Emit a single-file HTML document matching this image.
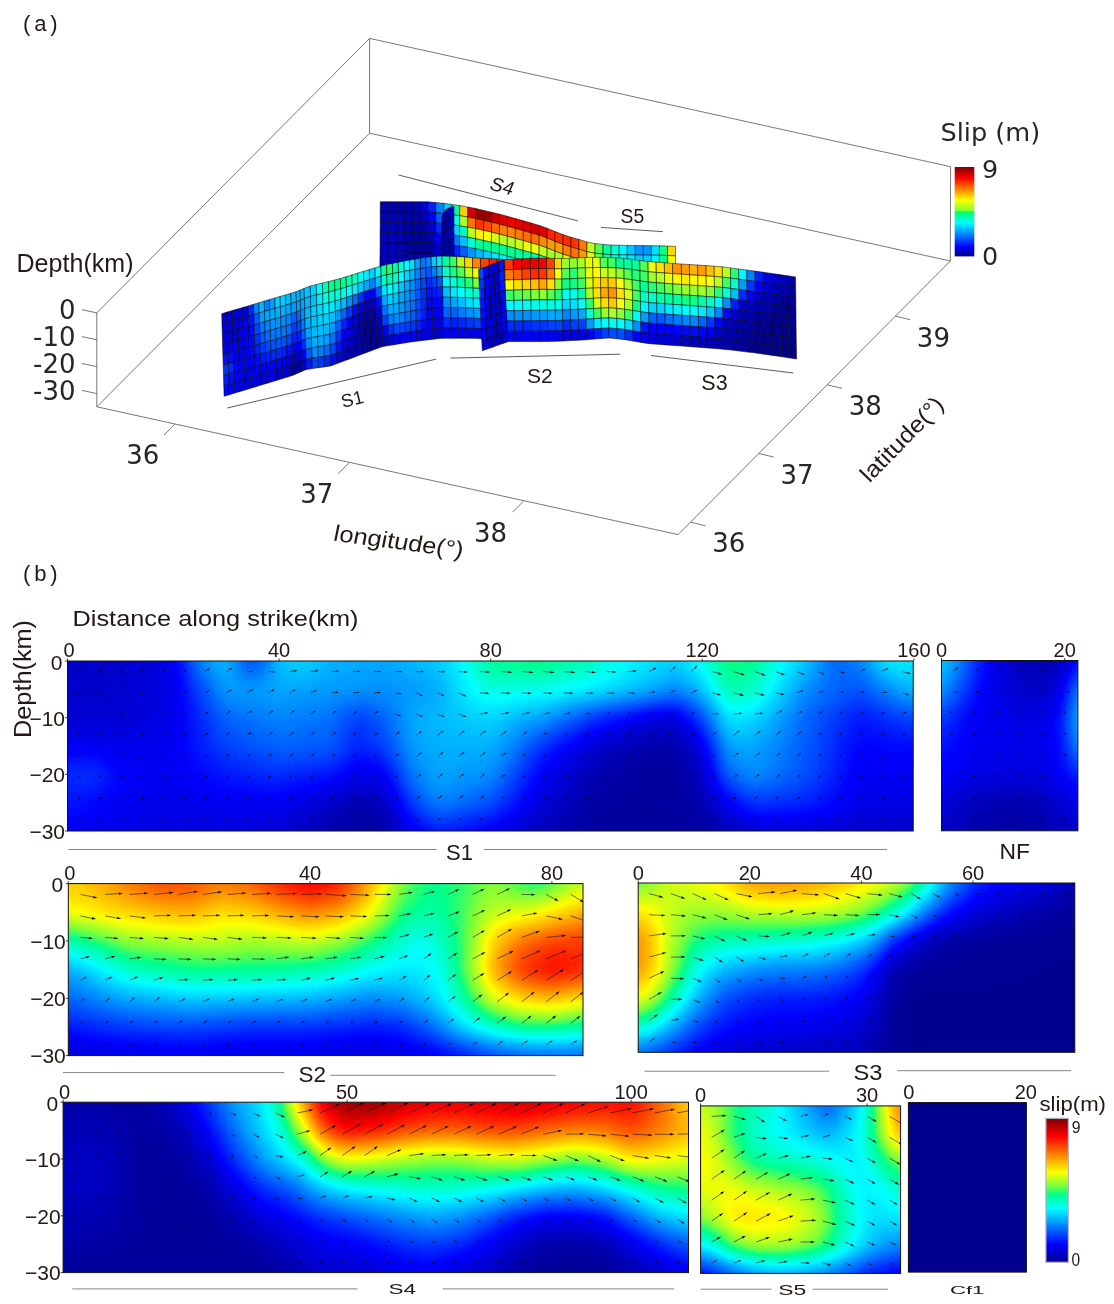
<!DOCTYPE html><html><head><meta charset="utf-8"><title>Slip distribution</title><style>html,body{margin:0;padding:0;background:#fff}svg{display:block}</style></head><body><svg width="1114" height="1304" viewBox="0 0 1114 1304"><defs><filter id="jet" x="0" y="0" width="100%" height="100%" color-interpolation-filters="sRGB"><feGaussianBlur stdDeviation="3.6"/><feComponentTransfer><feFuncR type="table" tableValues="0 0 0 0 0 0 0 0 0 0 0 0 0 0 0 0 0 0 0 0 0 0 0 0 0 0 0 0 0 0 0 0 0 0 0 0 0 0 0 0 0 0 0 0 0 0 0 0 0 0 0 0 0 0 0 0 0 0 0 0 0 0 0 0 0 0 0 0 0 0 0 0 0 0 0 0 0 0 0 0 0 0 0 0 0 0 0 0 0 0 0 0 0 0 0 0 0 0 0 0 0 0 0 0 0 0 0 0 0 0 0 0 0 0 0 0 0 0 0 0 0.004 0.035 0.067 0.098 0.129 0.157 0.188 0.22 0.251 0.282 0.314 0.341 0.373 0.404 0.435 0.467 0.49 0.51 0.533 0.553 0.576 0.6 0.62 0.643 0.663 0.686 0.706 0.729 0.753 0.773 0.796 0.816 0.839 0.859 0.882 0.906 0.925 0.949 0.969 0.992 1 1 1 1 1 1 1 1 1 1 1 1 1 1 1 1 1 1 1 1 1 1 1 1 1 1 1 1 1 1 1 1 1 1 1 1 1 1 1 1 1 1 1 1 1 1 1 1 1 1 1 1 1 1 1 1 1 1 1 1 1 1 1 1 0.988 0.973 0.957 0.941 0.925 0.91 0.894 0.878 0.863 0.847 0.831 0.816 0.8 0.784 0.769 0.753 0.737 0.722 0.706 0.69 0.675 0.659 0.643 0.627 0.612 0.596 0.58 0.565 0.549 0.533 0.518 0.502"/><feFuncG type="table" tableValues="0 0 0 0 0 0 0 0 0 0 0 0 0 0 0 0 0 0 0 0 0 0 0 0 0 0 0 0 0 0 0 0 0 0.02 0.031 0.051 0.063 0.082 0.094 0.114 0.125 0.145 0.157 0.176 0.188 0.208 0.22 0.239 0.251 0.271 0.282 0.302 0.314 0.333 0.345 0.365 0.376 0.396 0.408 0.427 0.439 0.459 0.471 0.49 0.502 0.518 0.537 0.549 0.565 0.58 0.6 0.612 0.627 0.643 0.663 0.675 0.69 0.706 0.725 0.737 0.753 0.769 0.788 0.8 0.816 0.831 0.851 0.863 0.878 0.894 0.914 0.925 0.941 0.957 0.976 0.988 1 1 1 1 1 1 1 1 1 1 1 1 1 1 1 1 1 1 1 1 1 1 1 1 1 1 1 1 1 1 1 1 1 1 1 1 1 1 1 1 1 1 1 1 1 1 1 1 1 1 1 1 1 1 1 1 1 1 1 1 1 1 1 1 0.988 0.976 0.961 0.945 0.925 0.91 0.894 0.878 0.863 0.851 0.835 0.82 0.8 0.784 0.769 0.753 0.737 0.725 0.71 0.694 0.675 0.659 0.643 0.627 0.612 0.6 0.584 0.569 0.549 0.533 0.518 0.502 0.486 0.475 0.459 0.443 0.424 0.408 0.392 0.376 0.361 0.349 0.333 0.318 0.298 0.282 0.267 0.251 0.235 0.224 0.208 0.192 0.173 0.157 0.141 0.125 0.11 0.098 0.082 0.067 0.047 0.031 0.016 0 0 0 0 0 0 0 0 0 0 0 0 0 0 0 0 0 0 0 0 0 0 0 0 0 0 0 0 0 0 0 0 0"/><feFuncB type="table" tableValues="0.561 0.576 0.588 0.604 0.616 0.631 0.643 0.659 0.671 0.686 0.698 0.714 0.725 0.741 0.753 0.769 0.78 0.796 0.808 0.824 0.835 0.851 0.863 0.878 0.89 0.906 0.918 0.933 0.945 0.961 0.973 0.988 1 1 1 1 1 1 1 1 1 1 1 1 1 1 1 1 1 1 1 1 1 1 1 1 1 1 1 1 1 1 1 1 1 1 1 1 1 1 1 1 1 1 1 1 1 1 1 1 1 1 1 1 1 1 1 1 1 1 1 1 1 1 1 1 0.992 0.973 0.957 0.937 0.918 0.898 0.882 0.863 0.843 0.824 0.808 0.788 0.769 0.753 0.733 0.714 0.694 0.678 0.659 0.639 0.62 0.604 0.584 0.565 0.545 0.525 0.506 0.486 0.463 0.443 0.424 0.404 0.38 0.361 0.341 0.322 0.298 0.278 0.259 0.239 0.227 0.216 0.208 0.196 0.188 0.18 0.169 0.161 0.149 0.141 0.129 0.122 0.11 0.102 0.09 0.082 0.071 0.063 0.051 0.043 0.031 0.024 0.012 0.004 0 0 0 0 0 0 0 0 0 0 0 0 0 0 0 0 0 0 0 0 0 0 0 0 0 0 0 0 0 0 0 0 0 0 0 0 0 0 0 0 0 0 0 0 0 0 0 0 0 0 0 0 0 0 0 0 0 0 0 0 0 0 0 0 0 0 0 0 0 0 0 0 0 0 0 0 0 0 0 0 0 0 0 0 0 0 0 0 0 0 0 0 0 0 0 0"/></feComponentTransfer></filter><linearGradient id="cb" x1="0" y1="0" x2="0" y2="1"><stop offset="0.000" stop-color="#800000"/><stop offset="0.125" stop-color="#ff0000"/><stop offset="0.375" stop-color="#ffff00"/><stop offset="0.470" stop-color="#78ff3c"/><stop offset="0.530" stop-color="#00ff8c"/><stop offset="0.625" stop-color="#00ffff"/><stop offset="0.875" stop-color="#0000ff"/><stop offset="1.000" stop-color="#00008f"/></linearGradient><clipPath id="cS1"><rect x="67.5" y="661.0" width="845.7" height="170.0"/></clipPath><clipPath id="cNF"><rect x="941.5" y="660.5" width="136.4" height="170.3"/></clipPath><clipPath id="cS2"><rect x="68.3" y="883.6" width="514.7" height="172.0"/></clipPath><clipPath id="cS3"><rect x="638.2" y="883.0" width="436.6" height="169.3"/></clipPath><clipPath id="cS4"><rect x="63.1" y="1102.2" width="625.4" height="170.4"/></clipPath><clipPath id="cS5"><rect x="700.6" y="1105.9" width="200.0" height="167.5"/></clipPath><linearGradient id="cba" x1="0" y1="0" x2="0" y2="1"><stop offset="0.000" stop-color="#800000"/><stop offset="0.125" stop-color="#ff0000"/><stop offset="0.370" stop-color="#ffff00"/><stop offset="0.485" stop-color="#87ff2d"/><stop offset="0.505" stop-color="#00ff69"/><stop offset="0.623" stop-color="#00ffff"/><stop offset="0.893" stop-color="#0000ff"/><stop offset="1.000" stop-color="#000087"/></linearGradient></defs>
<rect width="1114" height="1304" fill="#fff"/>
<g stroke="#555" stroke-width="0.8" fill="none">
<path d="M96.8 312.9L96.8 406.8"/>
<path d="M96.8 312.9L369.6 38.4"/>
<path d="M96.8 406.8L369.6 133.2"/>
<path d="M369.6 38.4L369.6 133.2"/>
<path d="M369.6 38.4L950.6 166.7"/>
<path d="M369.6 133.2L950.3 261.0"/>
<path d="M950.6 166.7L950.3 261.0"/>
<path d="M96.8 406.8L678.1 534.6"/>
<path d="M678.1 534.6L950.3 261.0"/>
<path d="M96.8 312.9L81.9 309.7"/>
<path d="M96.8 339.8L81.9 336.6"/>
<path d="M96.8 366.7L81.9 363.5"/>
<path d="M96.8 393.6L81.9 390.4"/>
<path d="M174.9 424.2L164.1 435.0"/>
<path d="M349.1 462.8L338.3 473.6"/>
<path d="M523.3 501.4L512.5 512.2"/>
<path d="M690.7 522.2L705.6 525.8"/>
<path d="M758.9 453.5L773.8 457.1"/>
<path d="M827.1 384.8L842.0 388.4"/>
<path d="M895.3 316.1L910.2 319.7"/>
</g>
<g font-family="DejaVu Sans, sans-serif" font-size="26" fill="#262626">
<text x="75.5" y="318.9" text-anchor="end">0</text>
<text x="75.5" y="345.8" text-anchor="end">-10</text>
<text x="75.5" y="372.7" text-anchor="end">-20</text>
<text x="75.5" y="399.6" text-anchor="end">-30</text>
<text x="142.8" y="464.2" text-anchor="middle">36</text>
<text x="316.7" y="502.9" text-anchor="middle">37</text>
<text x="490.6" y="541.6" text-anchor="middle">38</text>
<text x="728.8" y="552.0" text-anchor="middle">36</text>
<text x="797.0" y="483.6" text-anchor="middle">37</text>
<text x="865.2" y="415.2" text-anchor="middle">38</text>
<text x="933.4" y="346.8" text-anchor="middle">39</text>
</g>
<g stroke="#000" stroke-width="0.5" stroke-linejoin="round">
<polygon points="380.3,201.7 388.2,201.7 388.2,212.0 380.2,212.1" fill="#0000ac"/>
<polygon points="380.2,212.1 388.2,212.0 388.1,222.4 380.2,222.4" fill="#0000b4"/>
<polygon points="380.2,222.4 388.1,222.4 388.1,232.7 380.1,232.8" fill="#0000bb"/>
<polygon points="380.1,232.8 388.1,232.7 388.0,243.1 380.1,243.2" fill="#0000bd"/>
<polygon points="380.1,243.2 388.0,243.1 387.9,253.4 380.0,253.6" fill="#0000ba"/>
<polygon points="380.0,253.6 387.9,253.4 387.9,263.8 379.9,263.9" fill="#0000b5"/>
<polygon points="379.9,263.9 387.9,263.8 387.8,274.1 379.9,274.3" fill="#0000a9"/>
<polygon points="379.9,274.3 387.8,274.1 387.8,284.5 379.8,284.7" fill="#00009e"/>
<polygon points="388.2,201.7 396.2,201.7 396.1,212.0 388.2,212.0" fill="#0000af"/>
<polygon points="388.2,212.0 396.1,212.0 396.1,222.3 388.1,222.4" fill="#0000bb"/>
<polygon points="388.1,222.4 396.1,222.3 396.0,232.7 388.1,232.7" fill="#0000c2"/>
<polygon points="388.1,232.7 396.0,232.7 395.9,243.0 388.0,243.1" fill="#0000c3"/>
<polygon points="388.0,243.1 395.9,243.0 395.9,253.3 387.9,253.4" fill="#0000bf"/>
<polygon points="387.9,253.4 395.9,253.3 395.8,263.6 387.9,263.8" fill="#0000b4"/>
<polygon points="387.9,263.8 395.8,263.6 395.8,273.9 387.8,274.1" fill="#0000a6"/>
<polygon points="387.8,274.1 395.8,273.9 395.7,284.3 387.8,284.5" fill="#00009d"/>
<polygon points="396.2,201.7 404.2,201.7 404.1,212.0 396.1,212.0" fill="#0000a9"/>
<polygon points="396.1,212.0 404.1,212.0 404.0,222.3 396.1,222.3" fill="#0000b2"/>
<polygon points="396.1,222.3 404.0,222.3 404.0,232.6 396.0,232.7" fill="#0000b7"/>
<polygon points="396.0,232.7 404.0,232.6 403.9,242.9 395.9,243.0" fill="#0000b8"/>
<polygon points="395.9,243.0 403.9,242.9 403.8,253.2 395.9,253.3" fill="#0000b4"/>
<polygon points="395.9,253.3 403.8,253.2 403.8,263.5 395.8,263.6" fill="#0000ab"/>
<polygon points="395.8,263.6 403.8,263.5 403.7,273.8 395.8,273.9" fill="#0000a1"/>
<polygon points="395.8,273.9 403.7,273.8 403.7,284.1 395.7,284.3" fill="#00009b"/>
<polygon points="404.2,201.7 412.1,201.7 412.0,212.0 404.1,212.0" fill="#0000a5"/>
<polygon points="404.1,212.0 412.0,212.0 412.0,222.2 404.0,222.3" fill="#0000a5"/>
<polygon points="404.0,222.3 412.0,222.2 411.9,232.5 404.0,232.6" fill="#0000a5"/>
<polygon points="404.0,232.6 411.9,232.5 411.9,242.8 403.9,242.9" fill="#0000a6"/>
<polygon points="403.9,242.9 411.9,242.8 411.8,253.0 403.8,253.2" fill="#0000a3"/>
<polygon points="403.8,253.2 411.8,253.0 411.7,263.3 403.8,263.5" fill="#00009f"/>
<polygon points="403.8,263.5 411.7,263.3 411.7,273.6 403.7,273.8" fill="#00009d"/>
<polygon points="403.7,273.8 411.7,273.6 411.6,283.8 403.7,284.1" fill="#00009a"/>
<polygon points="412.1,201.7 420.1,201.7 420.0,211.9 412.0,212.0" fill="#0000af"/>
<polygon points="412.0,212.0 420.0,211.9 419.9,222.2 412.0,222.2" fill="#0000a3"/>
<polygon points="412.0,222.2 419.9,222.2 419.9,232.4 411.9,232.5" fill="#00009d"/>
<polygon points="411.9,232.5 419.9,232.4 419.8,242.7 411.9,242.8" fill="#00009b"/>
<polygon points="411.9,242.8 419.8,242.7 419.7,252.9 411.8,253.0" fill="#000099"/>
<polygon points="411.8,253.0 419.7,252.9 419.7,263.1 411.7,263.3" fill="#000098"/>
<polygon points="411.7,263.3 419.7,263.1 419.6,273.4 411.7,273.6" fill="#000099"/>
<polygon points="411.7,273.6 419.6,273.4 419.6,283.6 411.6,283.8" fill="#000099"/>
<polygon points="420.1,201.7 428.0,201.8 427.9,212.0 420.0,211.9" fill="#0000d3"/>
<polygon points="420.0,211.9 427.9,212.0 427.9,222.3 419.9,222.2" fill="#0000bb"/>
<polygon points="419.9,222.2 427.9,222.3 427.8,232.5 419.9,232.4" fill="#0000aa"/>
<polygon points="419.9,232.4 427.8,232.5 427.8,242.7 419.8,242.7" fill="#0000a0"/>
<polygon points="419.8,242.7 427.8,242.7 427.7,252.9 419.7,252.9" fill="#00009a"/>
<polygon points="419.7,252.9 427.7,252.9 427.6,263.1 419.7,263.1" fill="#000098"/>
<polygon points="419.7,263.1 427.6,263.1 427.6,273.3 419.6,273.4" fill="#000098"/>
<polygon points="419.6,273.4 427.6,273.3 427.5,283.5 419.6,283.6" fill="#000098"/>
<polygon points="428.0,201.8 435.9,202.6 435.9,212.7 427.9,212.0" fill="#001fff"/>
<polygon points="427.9,212.0 435.9,212.7 435.8,222.9 427.9,222.3" fill="#0000f7"/>
<polygon points="427.9,222.3 435.8,222.9 435.8,233.1 427.8,232.5" fill="#0000d2"/>
<polygon points="427.8,232.5 435.8,233.1 435.7,243.3 427.8,242.7" fill="#0000b7"/>
<polygon points="427.8,242.7 435.7,243.3 435.6,253.5 427.7,252.9" fill="#0000a5"/>
<polygon points="427.7,252.9 435.6,253.5 435.6,263.7 427.6,263.1" fill="#00009c"/>
<polygon points="427.6,263.1 435.6,263.7 435.5,273.9 427.6,273.3" fill="#00009a"/>
<polygon points="427.6,273.3 435.5,273.9 435.4,284.0 427.5,283.5" fill="#000099"/>
<polygon points="435.9,202.6 443.9,203.3 443.8,213.5 435.9,212.7" fill="#0080ff"/>
<polygon points="435.9,212.7 443.8,213.5 443.8,223.7 435.8,222.9" fill="#005bff"/>
<polygon points="435.8,222.9 443.8,223.7 443.7,233.8 435.8,233.1" fill="#002aff"/>
<polygon points="435.8,233.1 443.7,233.8 443.6,244.0 435.7,243.3" fill="#0000f3"/>
<polygon points="435.7,243.3 443.6,244.0 443.6,254.1 435.6,253.5" fill="#0000cb"/>
<polygon points="435.6,253.5 443.6,254.1 443.5,264.3 435.6,263.7" fill="#0000af"/>
<polygon points="435.6,263.7 443.5,264.3 443.5,274.5 435.5,273.9" fill="#00009f"/>
<polygon points="435.5,273.9 443.5,274.5 443.4,284.6 435.4,284.0" fill="#00009a"/>
<polygon points="443.9,203.3 451.9,204.4 451.8,214.6 443.8,213.5" fill="#00cfff"/>
<polygon points="443.8,213.5 451.8,214.6 451.7,224.7 443.8,223.7" fill="#00b4ff"/>
<polygon points="443.8,223.7 451.7,224.7 451.7,234.8 443.7,233.8" fill="#0087ff"/>
<polygon points="443.7,233.8 451.7,234.8 451.6,245.0 443.6,244.0" fill="#003fff"/>
<polygon points="443.6,244.0 451.6,245.0 451.5,255.1 443.6,254.1" fill="#0000fc"/>
<polygon points="443.6,254.1 451.5,255.1 451.5,265.2 443.5,264.3" fill="#0000cf"/>
<polygon points="443.5,264.3 451.5,265.2 451.4,275.4 443.5,274.5" fill="#0000af"/>
<polygon points="443.5,274.5 451.4,275.4 451.4,285.5 443.4,284.6" fill="#00009f"/>
<polygon points="451.9,204.4 459.8,205.6 459.7,215.7 451.8,214.6" fill="#00ffad"/>
<polygon points="451.8,214.6 459.7,215.7 459.7,225.8 451.7,224.7" fill="#00ffeb"/>
<polygon points="451.7,224.7 459.7,225.8 459.6,235.9 451.7,234.8" fill="#00d5ff"/>
<polygon points="451.7,234.8 459.6,235.9 459.6,246.0 451.6,245.0" fill="#0079ff"/>
<polygon points="451.6,245.0 459.6,246.0 459.5,256.1 451.5,255.1" fill="#0026ff"/>
<polygon points="451.5,255.1 459.5,256.1 459.4,266.2 451.5,265.2" fill="#0000ec"/>
<polygon points="451.5,265.2 459.4,266.2 459.4,276.4 451.4,275.4" fill="#0000c6"/>
<polygon points="451.4,275.4 459.4,276.4 459.3,286.5 451.4,285.5" fill="#0000ad"/>
<polygon points="459.8,205.6 467.8,207.0 467.7,217.1 459.7,215.7" fill="#ffce00"/>
<polygon points="459.7,215.7 467.7,217.1 467.6,227.2 459.7,225.8" fill="#abff25"/>
<polygon points="459.7,225.8 467.6,227.2 467.6,237.3 459.6,235.9" fill="#00ffbf"/>
<polygon points="459.6,235.9 467.6,237.3 467.5,247.3 459.6,246.0" fill="#00bfff"/>
<polygon points="459.6,246.0 467.5,247.3 467.4,257.4 459.5,256.1" fill="#005bff"/>
<polygon points="459.5,256.1 467.4,257.4 467.4,267.5 459.4,266.2" fill="#000cff"/>
<polygon points="459.4,266.2 467.4,267.5 467.3,277.6 459.4,276.4" fill="#0000e0"/>
<polygon points="459.4,276.4 467.3,277.6 467.2,287.7 459.3,286.5" fill="#0000c4"/>
<polygon points="467.8,207.0 475.7,208.5 475.6,218.6 467.7,217.1" fill="#d20000"/>
<polygon points="467.7,217.1 475.6,218.6 475.6,228.6 467.6,227.2" fill="#ff7100"/>
<polygon points="467.6,227.2 475.6,228.6 475.5,238.7 467.6,237.3" fill="#c2ff1b"/>
<polygon points="467.6,237.3 475.5,238.7 475.4,248.7 467.5,247.3" fill="#00ffd3"/>
<polygon points="467.5,247.3 475.4,248.7 475.4,258.8 467.4,257.4" fill="#0095ff"/>
<polygon points="467.4,257.4 475.4,258.8 475.3,268.8 467.4,267.5" fill="#002eff"/>
<polygon points="467.4,267.5 475.3,268.8 475.3,278.9 467.3,277.6" fill="#0000f5"/>
<polygon points="467.3,277.6 475.3,278.9 475.2,288.9 467.2,287.7" fill="#0000d7"/>
<polygon points="475.7,208.5 483.6,210.4 483.6,220.4 475.6,218.6" fill="#950000"/>
<polygon points="475.6,218.6 483.6,220.4 483.5,230.4 475.6,228.6" fill="#ff3300"/>
<polygon points="475.6,228.6 483.5,230.4 483.5,240.5 475.5,238.7" fill="#fff200"/>
<polygon points="475.5,238.7 483.5,240.5 483.4,250.5 475.4,248.7" fill="#00ff9a"/>
<polygon points="475.4,248.7 483.4,250.5 483.3,260.5 475.4,258.8" fill="#00bbff"/>
<polygon points="475.4,258.8 483.3,260.5 483.3,270.5 475.3,268.8" fill="#0049ff"/>
<polygon points="475.3,268.8 483.3,270.5 483.2,280.6 475.3,278.9" fill="#0003ff"/>
<polygon points="475.3,278.9 483.2,280.6 483.1,290.6 475.2,288.9" fill="#0000dc"/>
<polygon points="483.6,210.4 491.6,212.2 491.5,222.2 483.6,220.4" fill="#9e0000"/>
<polygon points="483.6,220.4 491.5,222.2 491.5,232.2 483.5,230.4" fill="#ff4600"/>
<polygon points="483.5,230.4 491.5,232.2 491.4,242.2 483.5,240.5" fill="#faff02"/>
<polygon points="483.5,240.5 491.4,242.2 491.4,252.2 483.4,250.5" fill="#00ff94"/>
<polygon points="483.4,250.5 491.4,252.2 491.3,262.2 483.3,260.5" fill="#00d2ff"/>
<polygon points="483.3,260.5 491.3,262.2 491.2,272.2 483.3,270.5" fill="#0064ff"/>
<polygon points="483.3,270.5 491.2,272.2 491.2,282.2 483.2,280.6" fill="#0017ff"/>
<polygon points="483.2,280.6 491.2,282.2 491.1,292.2 483.1,290.6" fill="#0000e8"/>
<polygon points="491.6,212.2 499.6,214.2 499.5,224.2 491.5,222.2" fill="#c80000"/>
<polygon points="491.5,222.2 499.5,224.2 499.4,234.2 491.5,232.2" fill="#ff6800"/>
<polygon points="491.5,232.2 499.4,234.2 499.4,244.1 491.4,242.2" fill="#d4ff13"/>
<polygon points="491.4,242.2 499.4,244.1 499.3,254.1 491.4,252.2" fill="#00ff92"/>
<polygon points="491.4,252.2 499.3,254.1 499.2,264.1 491.3,262.2" fill="#00e8ff"/>
<polygon points="491.3,262.2 499.2,264.1 499.2,274.0 491.2,272.2" fill="#0080ff"/>
<polygon points="491.2,272.2 499.2,274.0 499.1,284.0 491.2,282.2" fill="#0033ff"/>
<polygon points="491.2,282.2 499.1,284.0 499.1,294.0 491.1,292.2" fill="#0000fb"/>
<polygon points="499.6,214.2 507.5,216.3 507.4,226.3 499.5,224.2" fill="#e20000"/>
<polygon points="499.5,224.2 507.4,226.3 507.4,236.2 499.4,234.2" fill="#ff7f00"/>
<polygon points="499.4,234.2 507.4,236.2 507.3,246.2 499.4,244.1" fill="#b8ff20"/>
<polygon points="499.4,244.1 507.3,246.2 507.2,256.1 499.3,254.1" fill="#00ff93"/>
<polygon points="499.3,254.1 507.2,256.1 507.2,266.0 499.2,264.1" fill="#00f7ff"/>
<polygon points="499.2,264.1 507.2,266.0 507.1,276.0 499.2,274.0" fill="#0093ff"/>
<polygon points="499.2,274.0 507.1,276.0 507.1,285.9 499.1,284.0" fill="#0041ff"/>
<polygon points="499.1,284.0 507.1,285.9 507.0,295.9 499.1,294.0" fill="#0003ff"/>
<polygon points="507.5,216.3 515.5,218.6 515.4,228.5 507.4,226.3" fill="#e90000"/>
<polygon points="507.4,226.3 515.4,228.5 515.3,238.4 507.4,236.2" fill="#ff8500"/>
<polygon points="507.4,236.2 515.3,238.4 515.3,248.3 507.3,246.2" fill="#b5ff21"/>
<polygon points="507.3,246.2 515.3,248.3 515.2,258.2 507.2,256.1" fill="#00ff95"/>
<polygon points="507.2,256.1 515.2,258.2 515.1,268.1 507.2,266.0" fill="#00f4ff"/>
<polygon points="507.2,266.0 515.1,268.1 515.1,278.1 507.1,276.0" fill="#008eff"/>
<polygon points="507.1,276.0 515.1,278.1 515.0,288.0 507.1,285.9" fill="#0039ff"/>
<polygon points="507.1,285.9 515.0,288.0 515.0,297.9 507.0,295.9" fill="#0000f8"/>
<polygon points="515.5,218.6 523.4,220.8 523.3,230.7 515.4,228.5" fill="#e30000"/>
<polygon points="515.4,228.5 523.3,230.7 523.3,240.6 515.3,238.4" fill="#ff7b00"/>
<polygon points="515.3,238.4 523.3,240.6 523.2,250.5 515.3,248.3" fill="#cbff17"/>
<polygon points="515.3,248.3 523.2,250.5 523.1,260.4 515.2,258.2" fill="#00ff97"/>
<polygon points="515.2,258.2 523.1,260.4 523.1,270.3 515.1,268.1" fill="#00dfff"/>
<polygon points="515.1,268.1 523.1,270.3 523.0,280.2 515.1,278.1" fill="#006fff"/>
<polygon points="515.1,278.1 523.0,280.2 523.0,290.1 515.0,288.0" fill="#001dff"/>
<polygon points="515.0,288.0 523.0,290.1 522.9,300.0 515.0,297.9" fill="#0000e4"/>
<polygon points="523.4,220.8 531.4,223.1 531.3,233.0 523.3,230.7" fill="#d70000"/>
<polygon points="523.3,230.7 531.3,233.0 531.2,242.9 523.3,240.6" fill="#ff6c00"/>
<polygon points="523.3,240.6 531.2,242.9 531.2,252.7 523.2,250.5" fill="#e7ff0b"/>
<polygon points="523.2,250.5 531.2,252.7 531.1,262.6 523.1,260.4" fill="#00ff9d"/>
<polygon points="523.1,260.4 531.1,262.6 531.0,272.4 523.1,270.3" fill="#00beff"/>
<polygon points="523.1,270.3 531.0,272.4 531.0,282.3 523.0,280.2" fill="#003eff"/>
<polygon points="523.0,280.2 531.0,282.3 530.9,292.2 523.0,290.1" fill="#0000f3"/>
<polygon points="523.0,290.1 530.9,292.2 530.9,302.0 522.9,300.0" fill="#0000cb"/>
<polygon points="531.4,223.1 539.3,225.4 539.2,235.2 531.3,233.0" fill="#d40000"/>
<polygon points="531.3,233.0 539.2,235.2 539.2,245.1 531.2,242.9" fill="#ff6f00"/>
<polygon points="531.2,242.9 539.2,245.1 539.1,254.9 531.2,252.7" fill="#eaff09"/>
<polygon points="531.2,252.7 539.1,254.9 539.0,264.7 531.1,262.6" fill="#00ffb2"/>
<polygon points="531.1,262.6 539.0,264.7 539.0,274.6 531.0,272.4" fill="#0098ff"/>
<polygon points="531.0,272.4 539.0,274.6 538.9,284.4 531.0,282.3" fill="#000bff"/>
<polygon points="531.0,282.3 538.9,284.4 538.9,294.3 530.9,292.2" fill="#0000cc"/>
<polygon points="530.9,292.2 538.9,294.3 538.8,304.1 530.9,302.0" fill="#0000ae"/>
<polygon points="539.3,225.4 547.2,228.3 547.2,238.1 539.2,235.2" fill="#e50000"/>
<polygon points="539.2,235.2 547.2,238.1 547.1,247.9 539.2,245.1" fill="#ff8900"/>
<polygon points="539.2,245.1 547.1,247.9 547.1,257.7 539.1,254.9" fill="#c4ff1a"/>
<polygon points="539.1,254.9 547.1,257.7 547.0,267.5 539.0,264.7" fill="#00ffd8"/>
<polygon points="539.0,264.7 547.0,267.5 546.9,277.3 539.0,274.6" fill="#0076ff"/>
<polygon points="539.0,274.6 546.9,277.3 546.9,287.2 538.9,284.4" fill="#0000f0"/>
<polygon points="538.9,284.4 546.9,287.2 546.8,297.0 538.9,294.3" fill="#0000b6"/>
<polygon points="538.9,294.3 546.8,297.0 546.8,306.8 538.8,304.1" fill="#00009f"/>
<polygon points="547.2,228.3 555.2,231.6 555.1,241.4 547.2,238.1" fill="#ff2400"/>
<polygon points="547.2,238.1 555.1,241.4 555.1,251.2 547.1,247.9" fill="#ff9e00"/>
<polygon points="547.1,247.9 555.1,251.2 555.0,261.0 547.1,257.7" fill="#a0ff2a"/>
<polygon points="547.1,257.7 555.0,261.0 555.0,270.7 547.0,267.5" fill="#00ffef"/>
<polygon points="547.0,267.5 555.0,270.7 554.9,280.5 546.9,277.3" fill="#006cff"/>
<polygon points="546.9,277.3 554.9,280.5 554.8,290.3 546.9,287.2" fill="#0000ec"/>
<polygon points="546.9,287.2 554.8,290.3 554.8,300.1 546.8,297.0" fill="#0000b0"/>
<polygon points="546.8,297.0 554.8,300.1 554.7,309.9 546.8,306.8" fill="#00009b"/>
<polygon points="555.2,231.6 563.1,234.6 563.1,244.4 555.1,241.4" fill="#ff2f00"/>
<polygon points="555.1,241.4 563.1,244.4 563.0,254.2 555.1,251.2" fill="#ff9c00"/>
<polygon points="555.1,251.2 563.0,254.2 563.0,263.9 555.0,261.0" fill="#afff24"/>
<polygon points="555.0,261.0 563.0,263.9 562.9,273.7 555.0,270.7" fill="#00ffdc"/>
<polygon points="555.0,270.7 562.9,273.7 562.8,283.4 554.9,280.5" fill="#007dff"/>
<polygon points="554.9,280.5 562.8,283.4 562.8,293.2 554.8,290.3" fill="#0000f7"/>
<polygon points="554.8,290.3 562.8,293.2 562.7,302.9 554.8,300.1" fill="#0000b6"/>
<polygon points="554.8,300.1 562.7,302.9 562.6,312.7 554.7,309.9" fill="#00009e"/>
<polygon points="563.1,234.6 571.1,237.3 571.0,247.0 563.1,244.4" fill="#ff2800"/>
<polygon points="563.1,244.4 571.0,247.0 571.0,256.8 563.0,254.2" fill="#ff7f00"/>
<polygon points="563.0,254.2 571.0,256.8 570.9,266.5 563.0,263.9" fill="#f4ff05"/>
<polygon points="563.0,263.9 570.9,266.5 570.9,276.2 562.9,273.7" fill="#00ffa3"/>
<polygon points="562.9,273.7 570.9,276.2 570.8,285.9 562.8,283.4" fill="#00abff"/>
<polygon points="562.8,283.4 570.8,285.9 570.7,295.7 562.8,293.2" fill="#0026ff"/>
<polygon points="562.8,293.2 570.7,295.7 570.7,305.4 562.7,302.9" fill="#0000d3"/>
<polygon points="562.7,302.9 570.7,305.4 570.6,315.1 562.6,312.7" fill="#0000af"/>
<polygon points="571.1,237.3 579.0,239.4 579.0,249.1 571.0,247.0" fill="#ff3400"/>
<polygon points="571.0,247.0 579.0,249.1 578.9,258.8 571.0,256.8" fill="#ff7100"/>
<polygon points="571.0,256.8 578.9,258.8 578.9,268.5 570.9,266.5" fill="#ffe200"/>
<polygon points="570.9,266.5 578.9,268.5 578.8,278.2 570.9,276.2" fill="#40ff62"/>
<polygon points="570.9,276.2 578.8,278.2 578.7,287.9 570.8,285.9" fill="#00ecff"/>
<polygon points="570.8,285.9 578.7,287.9 578.7,297.6 570.7,295.7" fill="#006eff"/>
<polygon points="570.7,295.7 578.7,297.6 578.6,307.3 570.7,305.4" fill="#0004ff"/>
<polygon points="570.7,305.4 578.6,307.3 578.5,317.0 570.6,315.1" fill="#0000cc"/>
<polygon points="579.0,239.4 587.0,242.0 586.9,251.7 579.0,249.1" fill="#ff7b00"/>
<polygon points="579.0,249.1 586.9,251.7 586.9,261.3 578.9,258.8" fill="#ff9900"/>
<polygon points="578.9,258.8 586.9,261.3 586.8,271.0 578.9,268.5" fill="#fff600"/>
<polygon points="578.9,268.5 586.8,271.0 586.8,280.7 578.8,278.2" fill="#6cff44"/>
<polygon points="578.8,278.2 586.8,280.7 586.7,290.4 578.7,287.9" fill="#00ffd4"/>
<polygon points="578.7,287.9 586.7,290.4 586.6,300.0 578.7,297.6" fill="#00b0ff"/>
<polygon points="578.7,297.6 586.6,300.0 586.6,309.7 578.6,307.3" fill="#003dff"/>
<polygon points="578.6,307.3 586.6,309.7 586.5,319.4 578.5,317.0" fill="#0000ee"/>
<polygon points="587.0,242.0 595.1,243.6 595.0,253.3 586.9,251.7" fill="#bfff1c"/>
<polygon points="586.9,251.7 595.0,253.3 594.9,262.9 586.9,261.3" fill="#daff11"/>
<polygon points="586.9,261.3 594.9,262.9 594.9,272.6 586.8,271.0" fill="#ecff08"/>
<polygon points="586.8,271.0 594.9,272.6 594.8,282.2 586.8,280.7" fill="#f0ff07"/>
<polygon points="586.8,280.7 594.8,282.2 594.7,291.9 586.7,290.4" fill="#d5ff13"/>
<polygon points="586.7,290.4 594.7,291.9 594.7,301.5 586.6,300.0" fill="#83ff37"/>
<polygon points="586.6,300.0 594.7,301.5 594.6,311.2 586.6,309.7" fill="#00ffd8"/>
<polygon points="586.6,309.7 594.6,311.2 594.6,320.8 586.5,319.4" fill="#006cff"/>
<polygon points="595.1,243.6 603.1,244.4 603.0,254.0 595.0,253.3" fill="#4dff59"/>
<polygon points="595.0,253.3 603.0,254.0 603.0,263.6 594.9,262.9" fill="#60ff4c"/>
<polygon points="594.9,262.9 603.0,263.6 602.9,273.2 594.9,272.6" fill="#97ff2e"/>
<polygon points="594.9,272.6 602.9,273.2 602.9,282.8 594.8,282.2" fill="#d5ff12"/>
<polygon points="594.8,282.2 602.9,282.8 602.8,292.4 594.7,291.9" fill="#fbff02"/>
<polygon points="594.7,291.9 602.8,292.4 602.7,302.1 594.7,301.5" fill="#e1ff0d"/>
<polygon points="594.7,301.5 602.7,302.1 602.7,311.7 594.6,311.2" fill="#2dff6e"/>
<polygon points="594.6,311.2 602.7,311.7 602.6,321.3 594.6,320.8" fill="#00afff"/>
<polygon points="603.1,244.4 611.2,245.1 611.1,254.7 603.0,254.0" fill="#00ffa2"/>
<polygon points="603.0,254.0 611.1,254.7 611.0,264.3 603.0,263.6" fill="#00ffa4"/>
<polygon points="603.0,263.6 611.0,264.3 611.0,273.8 602.9,273.2" fill="#1dff79"/>
<polygon points="602.9,273.2 611.0,273.8 610.9,283.4 602.9,282.8" fill="#a0ff2a"/>
<polygon points="602.9,282.8 610.9,283.4 610.9,293.0 602.8,292.4" fill="#fcff01"/>
<polygon points="602.8,292.4 610.9,293.0 610.8,302.6 602.7,302.1" fill="#fff000"/>
<polygon points="602.7,302.1 610.8,302.6 610.7,312.2 602.7,311.7" fill="#97ff2e"/>
<polygon points="602.7,311.7 610.7,312.2 610.7,321.8 602.6,321.3" fill="#00e5ff"/>
<polygon points="611.2,245.1 619.2,245.2 619.2,254.8 611.1,254.7" fill="#00ffd7"/>
<polygon points="611.1,254.7 619.2,254.8 619.1,264.4 611.0,264.3" fill="#00ffd8"/>
<polygon points="611.0,264.3 619.1,264.4 619.0,273.9 611.0,273.8" fill="#00ffa9"/>
<polygon points="611.0,273.8 619.0,273.9 619.0,283.5 610.9,283.4" fill="#7bff3a"/>
<polygon points="610.9,283.4 619.0,283.5 618.9,293.1 610.9,293.0" fill="#e8ff0a"/>
<polygon points="610.9,293.0 618.9,293.1 618.8,302.6 610.8,302.6" fill="#fff300"/>
<polygon points="610.8,302.6 618.8,302.6 618.8,312.2 610.7,312.2" fill="#b1ff23"/>
<polygon points="610.7,312.2 618.8,312.2 618.7,321.7 610.7,321.8" fill="#00fffd"/>
<polygon points="619.2,245.2 627.3,245.4 627.2,254.9 619.2,254.8" fill="#00f9ff"/>
<polygon points="619.2,254.8 627.2,254.9 627.1,264.4 619.1,264.4" fill="#00fffa"/>
<polygon points="619.1,264.4 627.1,264.4 627.1,274.0 619.0,273.9" fill="#00ffbe"/>
<polygon points="619.0,273.9 627.1,274.0 627.0,283.5 619.0,283.5" fill="#5fff4d"/>
<polygon points="619.0,283.5 627.0,283.5 627.0,293.0 618.9,293.1" fill="#d5ff13"/>
<polygon points="618.9,293.1 627.0,293.0 626.9,302.6 618.8,302.6" fill="#fffc00"/>
<polygon points="618.8,302.6 626.9,302.6 626.8,312.1 618.8,312.2" fill="#adff24"/>
<polygon points="618.8,312.2 626.8,312.1 626.8,321.7 618.7,321.7" fill="#00fff4"/>
<polygon points="627.3,245.4 635.3,245.5 635.3,255.0 627.2,254.9" fill="#00c6ff"/>
<polygon points="627.2,254.9 635.3,255.0 635.2,264.5 627.1,264.4" fill="#00e7ff"/>
<polygon points="627.1,264.4 635.2,264.5 635.1,274.0 627.1,274.0" fill="#00ffd3"/>
<polygon points="627.1,274.0 635.1,274.0 635.1,283.5 627.0,283.5" fill="#3aff65"/>
<polygon points="627.0,283.5 635.1,283.5 635.0,293.0 627.0,293.0" fill="#b2ff22"/>
<polygon points="627.0,293.0 635.0,293.0 635.0,302.6 626.9,302.6" fill="#daff11"/>
<polygon points="626.9,302.6 635.0,302.6 634.9,312.1 626.8,312.1" fill="#91ff31"/>
<polygon points="626.8,312.1 634.9,312.1 634.8,321.6 626.8,321.7" fill="#00fbff"/>
<polygon points="635.3,245.5 643.4,245.6 643.3,255.1 635.3,255.0" fill="#0094ff"/>
<polygon points="635.3,255.0 643.3,255.1 643.3,264.6 635.2,264.5" fill="#00ccff"/>
<polygon points="635.2,264.5 643.3,264.6 643.2,274.0 635.1,274.0" fill="#00ffea"/>
<polygon points="635.1,274.0 643.2,274.0 643.1,283.5 635.1,283.5" fill="#04ff89"/>
<polygon points="635.1,283.5 643.1,283.5 643.1,293.0 635.0,293.0" fill="#7cff3a"/>
<polygon points="635.0,293.0 643.1,293.0 643.0,302.5 635.0,302.6" fill="#9aff2d"/>
<polygon points="635.0,302.6 643.0,302.5 642.9,312.0 634.9,312.1" fill="#4eff58"/>
<polygon points="634.9,312.1 642.9,312.0 642.9,321.5 634.8,321.6" fill="#00dfff"/>
<polygon points="643.4,245.6 651.4,245.7 651.4,255.2 643.3,255.1" fill="#0098ff"/>
<polygon points="643.3,255.1 651.4,255.2 651.3,264.6 643.3,264.6" fill="#00cdff"/>
<polygon points="643.3,264.6 651.3,264.6 651.2,274.1 643.2,274.0" fill="#00fdff"/>
<polygon points="643.2,274.0 651.2,274.1 651.2,283.5 643.1,283.5" fill="#00ffc6"/>
<polygon points="643.1,283.5 651.2,283.5 651.1,293.0 643.1,293.0" fill="#00ff9a"/>
<polygon points="643.1,293.0 651.1,293.0 651.1,302.4 643.0,302.5" fill="#00ff8d"/>
<polygon points="643.0,302.5 651.1,302.4 651.0,311.9 642.9,312.0" fill="#00ffb6"/>
<polygon points="642.9,312.0 651.0,311.9 650.9,321.3 642.9,321.5" fill="#00b1ff"/>
<polygon points="651.4,245.7 659.5,245.8 659.4,255.2 651.4,255.2" fill="#00e2ff"/>
<polygon points="651.4,255.2 659.4,255.2 659.4,264.7 651.3,264.6" fill="#00f6ff"/>
<polygon points="651.3,264.6 659.4,264.7 659.3,274.1 651.2,274.1" fill="#00f4ff"/>
<polygon points="651.2,274.1 659.3,274.1 659.2,283.5 651.2,283.5" fill="#00fffe"/>
<polygon points="651.2,283.5 659.2,283.5 659.2,292.9 651.1,293.0" fill="#00fff0"/>
<polygon points="651.1,293.0 659.2,292.9 659.1,302.4 651.1,302.4" fill="#00ffec"/>
<polygon points="651.1,302.4 659.1,302.4 659.1,311.8 651.0,311.9" fill="#00f6ff"/>
<polygon points="651.0,311.9 659.1,311.8 659.0,321.2 650.9,321.3" fill="#007dff"/>
<polygon points="659.5,245.8 667.5,246.1 667.5,255.5 659.4,255.2" fill="#13ff80"/>
<polygon points="659.4,255.2 667.5,255.5 667.4,264.9 659.4,264.7" fill="#00ff8f"/>
<polygon points="659.4,264.7 667.4,264.9 667.4,274.3 659.3,274.1" fill="#00ffca"/>
<polygon points="659.3,274.1 667.4,274.3 667.3,283.7 659.2,283.5" fill="#00fff7"/>
<polygon points="659.2,283.5 667.3,283.7 667.2,293.1 659.2,292.9" fill="#00f0ff"/>
<polygon points="659.2,292.9 667.2,293.1 667.2,302.5 659.1,302.4" fill="#00e1ff"/>
<polygon points="659.1,302.4 667.2,302.5 667.1,311.9 659.1,311.8" fill="#00bbff"/>
<polygon points="659.1,311.8 667.1,311.9 667.0,321.3 659.0,321.2" fill="#004dff"/>
<polygon points="667.5,246.1 675.6,246.4 675.5,255.8 667.5,255.5" fill="#ffd800"/>
<polygon points="667.5,255.5 675.5,255.8 675.5,265.1 667.4,264.9" fill="#f1ff06"/>
<polygon points="667.4,264.9 675.5,265.1 675.4,274.5 667.4,274.3" fill="#58ff51"/>
<polygon points="667.4,274.3 675.4,274.5 675.4,283.9 667.3,283.7" fill="#00ffbb"/>
<polygon points="667.3,283.7 675.4,283.9 675.3,293.3 667.2,293.1" fill="#00fffd"/>
<polygon points="667.2,293.1 675.3,293.3 675.2,302.6 667.2,302.5" fill="#00daff"/>
<polygon points="667.2,302.5 675.2,302.6 675.2,312.0 667.1,311.9" fill="#009aff"/>
<polygon points="667.1,311.9 675.2,312.0 675.1,321.4 667.0,321.3" fill="#002fff"/>
<polygon points="441.9,217.0 443.5,212.5 443.4,223.4 441.8,228.0" fill="#0000c1"/>
<polygon points="441.8,228.0 443.4,223.4 443.3,234.2 441.6,239.0" fill="#0000ad"/>
<polygon points="441.6,239.0 443.3,234.2 443.2,245.1 441.5,250.0" fill="#0000b7"/>
<polygon points="441.5,250.0 443.2,245.1 443.1,256.0 441.4,261.0" fill="#0000c1"/>
<polygon points="441.4,261.0 443.1,256.0 442.9,266.9 441.2,272.0" fill="#0000ad"/>
<polygon points="441.2,272.0 442.9,266.9 442.8,277.8 441.1,283.0" fill="#0000ad"/>
<polygon points="441.1,283.0 442.8,277.8 442.7,288.6 440.9,294.0" fill="#0000ad"/>
<polygon points="440.9,294.0 442.7,288.6 442.6,299.5 440.8,305.0" fill="#0000ad"/>
<polygon points="443.5,212.5 446.0,209.6 445.9,220.3 443.4,223.4" fill="#0000ad"/>
<polygon points="443.4,223.4 445.9,220.3 445.8,231.1 443.3,234.2" fill="#0000a3"/>
<polygon points="443.3,234.2 445.8,231.1 445.7,241.9 443.2,245.1" fill="#0000a8"/>
<polygon points="443.2,245.1 445.7,241.9 445.6,252.6 443.1,256.0" fill="#0000ad"/>
<polygon points="443.1,256.0 445.6,252.6 445.6,263.4 442.9,266.9" fill="#0000a3"/>
<polygon points="442.9,266.9 445.6,263.4 445.5,274.1 442.8,277.8" fill="#0000a3"/>
<polygon points="442.8,277.8 445.5,274.1 445.4,284.9 442.7,288.6" fill="#0000a3"/>
<polygon points="442.7,288.6 445.4,284.9 445.3,295.6 442.6,299.5" fill="#0000a3"/>
<polygon points="446.0,209.6 449.5,207.6 449.5,218.2 445.9,220.3" fill="#0000ad"/>
<polygon points="445.9,220.3 449.5,218.2 449.4,228.8 445.8,231.1" fill="#0000a8"/>
<polygon points="445.8,231.1 449.4,228.8 449.4,239.5 445.7,241.9" fill="#0000ad"/>
<polygon points="445.7,241.9 449.4,239.5 449.4,250.1 445.6,252.6" fill="#0000a8"/>
<polygon points="445.6,252.6 449.4,250.1 449.3,260.7 445.6,263.4" fill="#0000a8"/>
<polygon points="445.6,263.4 449.3,260.7 449.3,271.4 445.5,274.1" fill="#0000a8"/>
<polygon points="445.5,274.1 449.3,271.4 449.2,282.0 445.4,284.9" fill="#0000a8"/>
<polygon points="445.4,284.9 449.2,282.0 449.2,292.6 445.3,295.6" fill="#0000a8"/>
<polygon points="449.5,207.6 454.0,206.3 454.0,216.8 449.5,218.2" fill="#0000b7"/>
<polygon points="449.5,218.2 454.0,216.8 454.0,227.3 449.4,228.8" fill="#0000b2"/>
<polygon points="449.4,228.8 454.0,227.3 454.0,237.8 449.4,239.5" fill="#0000bc"/>
<polygon points="449.4,239.5 454.0,237.8 454.0,248.3 449.4,250.1" fill="#0000ad"/>
<polygon points="449.4,250.1 454.0,248.3 454.0,258.8 449.3,260.7" fill="#0000b2"/>
<polygon points="449.3,260.7 454.0,258.8 454.0,269.3 449.3,271.4" fill="#0000b2"/>
<polygon points="449.3,271.4 454.0,269.3 454.0,279.8 449.2,282.0" fill="#0000b2"/>
<polygon points="449.2,282.0 454.0,279.8 454.0,290.3 449.2,292.6" fill="#0000b2"/>
<polygon points="221.7,313.7 227.0,312.1 227.3,322.5 222.0,324.0" fill="#0000ce"/>
<polygon points="222.0,324.0 227.3,322.5 227.6,332.8 222.3,334.4" fill="#0000d0"/>
<polygon points="222.3,334.4 227.6,332.8 227.9,343.1 222.6,344.7" fill="#0000d8"/>
<polygon points="222.6,344.7 227.9,343.1 228.2,353.4 222.9,355.0" fill="#0000eb"/>
<polygon points="222.9,355.0 228.2,353.4 228.5,363.7 223.2,365.3" fill="#0010ff"/>
<polygon points="223.2,365.3 228.5,363.7 228.8,374.1 223.5,375.6" fill="#0032ff"/>
<polygon points="223.5,375.6 228.8,374.1 229.1,384.4 223.8,386.0" fill="#001aff"/>
<polygon points="223.8,386.0 229.1,384.4 229.4,394.7 224.1,396.3" fill="#0002ff"/>
<polygon points="227.0,312.1 232.3,310.6 232.6,320.9 227.3,322.5" fill="#0000ce"/>
<polygon points="227.3,322.5 232.6,320.9 232.9,331.2 227.6,332.8" fill="#0000d0"/>
<polygon points="227.6,332.8 232.9,331.2 233.2,341.5 227.9,343.1" fill="#0000d8"/>
<polygon points="227.9,343.1 233.2,341.5 233.5,351.8 228.2,353.4" fill="#0000e9"/>
<polygon points="228.2,353.4 233.5,351.8 233.8,362.2 228.5,363.7" fill="#000aff"/>
<polygon points="228.5,363.7 233.8,362.2 234.1,372.5 228.8,374.1" fill="#002aff"/>
<polygon points="228.8,374.1 234.1,372.5 234.4,382.8 229.1,384.4" fill="#000dff"/>
<polygon points="229.1,384.4 234.4,382.8 234.7,393.1 229.4,394.7" fill="#0000f9"/>
<polygon points="232.3,310.6 237.6,309.0 237.9,319.3 232.6,320.9" fill="#0000d0"/>
<polygon points="232.6,320.9 237.9,319.3 238.2,329.6 232.9,331.2" fill="#0000d1"/>
<polygon points="232.9,331.2 238.2,329.6 238.5,339.9 233.2,341.5" fill="#0000d9"/>
<polygon points="233.2,341.5 238.5,339.9 238.8,350.2 233.5,351.8" fill="#0000e7"/>
<polygon points="233.5,351.8 238.8,350.2 239.1,360.6 233.8,362.2" fill="#0000f8"/>
<polygon points="233.8,362.2 239.1,360.6 239.4,370.9 234.1,372.5" fill="#0006ff"/>
<polygon points="234.1,372.5 239.4,370.9 239.7,381.2 234.4,382.8" fill="#0000fb"/>
<polygon points="234.4,382.8 239.7,381.2 240.0,391.5 234.7,393.1" fill="#0000f2"/>
<polygon points="237.6,309.0 243.0,307.4 243.2,317.7 237.9,319.3" fill="#0000db"/>
<polygon points="237.9,319.3 243.2,317.7 243.5,328.0 238.2,329.6" fill="#0000dc"/>
<polygon points="238.2,329.6 243.5,328.0 243.8,338.3 238.5,339.9" fill="#0000e1"/>
<polygon points="238.5,339.9 243.8,338.3 244.1,348.7 238.8,350.2" fill="#0000ec"/>
<polygon points="238.8,350.2 244.1,348.7 244.4,359.0 239.1,360.6" fill="#0000f7"/>
<polygon points="239.1,360.6 244.4,359.0 244.7,369.3 239.4,370.9" fill="#0000fd"/>
<polygon points="239.4,370.9 244.7,369.3 245.0,379.6 239.7,381.2" fill="#0000f6"/>
<polygon points="239.7,381.2 245.0,379.6 245.3,389.9 240.0,391.5" fill="#0000ee"/>
<polygon points="243.0,307.4 248.3,305.9 248.6,316.2 243.2,317.7" fill="#0000e8"/>
<polygon points="243.2,317.7 248.6,316.2 248.9,326.5 243.5,328.0" fill="#0000e8"/>
<polygon points="243.5,328.0 248.9,326.5 249.1,336.8 243.8,338.3" fill="#0000ea"/>
<polygon points="243.8,338.3 249.1,336.8 249.4,347.1 244.1,348.7" fill="#0000f2"/>
<polygon points="244.1,348.7 249.4,347.1 249.7,357.4 244.4,359.0" fill="#0000f8"/>
<polygon points="244.4,359.0 249.7,357.4 250.0,367.7 244.7,369.3" fill="#0000f9"/>
<polygon points="244.7,369.3 250.0,367.7 250.3,378.0 245.0,379.6" fill="#0000f1"/>
<polygon points="245.0,379.6 250.3,378.0 250.6,388.3 245.3,389.9" fill="#0000ea"/>
<polygon points="248.3,305.9 253.6,304.3 253.9,314.6 248.6,316.2" fill="#0025ff"/>
<polygon points="248.6,316.2 253.9,314.6 254.2,324.9 248.9,326.5" fill="#0012ff"/>
<polygon points="248.9,326.5 254.2,324.9 254.4,335.2 249.1,336.8" fill="#0009ff"/>
<polygon points="249.1,336.8 254.4,335.2 254.7,345.5 249.4,347.1" fill="#0009ff"/>
<polygon points="249.4,347.1 254.7,345.5 255.0,355.8 249.7,357.4" fill="#0006ff"/>
<polygon points="249.7,357.4 255.0,355.8 255.3,366.1 250.0,367.7" fill="#0000fd"/>
<polygon points="250.0,367.7 255.3,366.1 255.6,376.4 250.3,378.0" fill="#0000f2"/>
<polygon points="250.3,378.0 255.6,376.4 255.9,386.7 250.6,388.3" fill="#0000e8"/>
<polygon points="253.6,304.3 258.9,302.7 259.2,313.0 253.9,314.6" fill="#0089ff"/>
<polygon points="253.9,314.6 259.2,313.0 259.5,323.3 254.2,324.9" fill="#005cff"/>
<polygon points="254.2,324.9 259.5,323.3 259.8,333.6 254.4,335.2" fill="#0041ff"/>
<polygon points="254.4,335.2 259.8,333.6 260.0,343.9 254.7,345.5" fill="#0031ff"/>
<polygon points="254.7,345.5 260.0,343.9 260.3,354.2 255.0,355.8" fill="#0020ff"/>
<polygon points="255.0,355.8 260.3,354.2 260.6,364.5 255.3,366.1" fill="#000bff"/>
<polygon points="255.3,366.1 260.6,364.5 260.9,374.8 255.6,376.4" fill="#0000f7"/>
<polygon points="255.6,376.4 260.9,374.8 261.2,385.0 255.9,386.7" fill="#0000ea"/>
<polygon points="258.9,302.7 264.2,301.1 264.5,311.4 259.2,313.0" fill="#00bcff"/>
<polygon points="259.2,313.0 264.5,311.4 264.8,321.7 259.5,323.3" fill="#009eff"/>
<polygon points="259.5,323.3 264.8,321.7 265.1,332.0 259.8,333.6" fill="#0075ff"/>
<polygon points="259.8,333.6 265.1,332.0 265.3,342.3 260.0,343.9" fill="#0058ff"/>
<polygon points="260.0,343.9 265.3,342.3 265.6,352.6 260.3,354.2" fill="#0039ff"/>
<polygon points="260.3,354.2 265.6,352.6 265.9,362.9 260.6,364.5" fill="#0018ff"/>
<polygon points="260.6,364.5 265.9,362.9 266.2,373.1 260.9,374.8" fill="#0000fc"/>
<polygon points="260.9,374.8 266.2,373.1 266.5,383.4 261.2,385.0" fill="#0000eb"/>
<polygon points="264.2,301.1 269.5,299.6 269.8,309.9 264.5,311.4" fill="#007eff"/>
<polygon points="264.5,311.4 269.8,309.9 270.1,320.1 264.8,321.7" fill="#00a7ff"/>
<polygon points="264.8,321.7 270.1,320.1 270.4,330.4 265.1,332.0" fill="#0086ff"/>
<polygon points="265.1,332.0 270.4,330.4 270.7,340.7 265.3,342.3" fill="#0069ff"/>
<polygon points="265.3,342.3 270.7,340.7 270.9,351.0 265.6,352.6" fill="#0047ff"/>
<polygon points="265.6,352.6 270.9,351.0 271.2,361.3 265.9,362.9" fill="#0021ff"/>
<polygon points="265.9,362.9 271.2,361.3 271.5,371.5 266.2,373.1" fill="#0000fe"/>
<polygon points="266.2,373.1 271.5,371.5 271.8,381.8 266.5,383.4" fill="#0000e9"/>
<polygon points="269.5,299.6 274.8,298.0 275.1,308.3 269.8,309.9" fill="#00a3ff"/>
<polygon points="269.8,309.9 275.1,308.3 275.4,318.6 270.1,320.1" fill="#00afff"/>
<polygon points="270.1,320.1 275.4,318.6 275.7,328.8 270.4,330.4" fill="#0093ff"/>
<polygon points="270.4,330.4 275.7,328.8 276.0,339.1 270.7,340.7" fill="#0077ff"/>
<polygon points="270.7,340.7 276.0,339.1 276.2,349.4 270.9,351.0" fill="#0054ff"/>
<polygon points="270.9,351.0 276.2,349.4 276.5,359.7 271.2,361.3" fill="#0029ff"/>
<polygon points="271.2,361.3 276.5,359.7 276.8,369.9 271.5,371.5" fill="#0000ff"/>
<polygon points="271.5,371.5 276.8,369.9 277.1,380.2 271.8,381.8" fill="#0000e6"/>
<polygon points="274.8,298.0 280.2,296.4 280.4,306.7 275.1,308.3" fill="#00d1ff"/>
<polygon points="275.1,308.3 280.4,306.7 280.7,317.0 275.4,318.6" fill="#00b2ff"/>
<polygon points="275.4,318.6 280.7,317.0 281.0,327.2 275.7,328.8" fill="#0095ff"/>
<polygon points="275.7,328.8 281.0,327.2 281.3,337.5 276.0,339.1" fill="#007bff"/>
<polygon points="276.0,339.1 281.3,337.5 281.5,347.8 276.2,349.4" fill="#0057ff"/>
<polygon points="276.2,349.4 281.5,347.8 281.8,358.1 276.5,359.7" fill="#0027ff"/>
<polygon points="276.5,359.7 281.8,358.1 282.1,368.3 276.8,369.9" fill="#0000f7"/>
<polygon points="276.8,369.9 282.1,368.3 282.4,378.6 277.1,380.2" fill="#0000dc"/>
<polygon points="280.2,296.4 285.5,294.9 285.7,305.1 280.4,306.7" fill="#00cfff"/>
<polygon points="280.4,306.7 285.7,305.1 286.0,315.4 280.7,317.0" fill="#00acff"/>
<polygon points="280.7,317.0 286.0,315.4 286.3,325.7 281.0,327.2" fill="#008cff"/>
<polygon points="281.0,327.2 286.3,325.7 286.6,335.9 281.3,337.5" fill="#0074ff"/>
<polygon points="281.3,337.5 286.6,335.9 286.8,346.2 281.5,347.8" fill="#0050ff"/>
<polygon points="281.5,347.8 286.8,346.2 287.1,356.5 281.8,358.1" fill="#001cff"/>
<polygon points="281.8,358.1 287.1,356.5 287.4,366.7 282.1,368.3" fill="#0000e6"/>
<polygon points="282.1,368.3 287.4,366.7 287.7,377.0 282.4,378.6" fill="#0000ca"/>
<polygon points="285.5,294.9 290.8,293.3 291.1,303.5 285.7,305.1" fill="#00bdff"/>
<polygon points="285.7,305.1 291.1,303.5 291.3,313.8 286.0,315.4" fill="#00a6ff"/>
<polygon points="286.0,315.4 291.3,313.8 291.6,324.0 286.3,325.7" fill="#0080ff"/>
<polygon points="286.3,325.7 291.6,324.0 291.9,334.3 286.6,335.9" fill="#006aff"/>
<polygon points="286.6,335.9 291.9,334.3 292.2,344.5 286.8,346.2" fill="#0046ff"/>
<polygon points="286.8,346.2 292.2,344.5 292.4,354.8 287.1,356.5" fill="#000eff"/>
<polygon points="287.1,356.5 292.4,354.8 292.7,365.0 287.4,366.7" fill="#0000d4"/>
<polygon points="287.4,366.7 292.7,365.0 293.0,375.2 287.7,377.0" fill="#0000b9"/>
<polygon points="290.8,293.3 296.1,291.7 296.4,301.9 291.1,303.5" fill="#00b7ff"/>
<polygon points="291.1,303.5 296.4,301.9 296.6,312.0 291.3,313.8" fill="#009bff"/>
<polygon points="291.3,313.8 296.6,312.0 296.9,322.2 291.6,324.0" fill="#005cff"/>
<polygon points="291.6,324.0 296.9,322.2 297.2,332.4 291.9,334.3" fill="#003fff"/>
<polygon points="291.9,334.3 297.2,332.4 297.5,342.5 292.2,344.5" fill="#001eff"/>
<polygon points="292.2,344.5 297.5,342.5 297.7,352.7 292.4,354.8" fill="#0000ef"/>
<polygon points="292.4,354.8 297.7,352.7 298.0,362.8 292.7,365.0" fill="#0000bf"/>
<polygon points="292.7,365.0 298.0,362.8 298.3,373.0 293.0,375.2" fill="#0000a9"/>
<polygon points="296.1,291.7 300.1,290.1 300.4,300.2 296.4,301.9" fill="#00b2ff"/>
<polygon points="296.4,301.9 300.4,300.2 300.6,310.4 296.6,312.0" fill="#0099ff"/>
<polygon points="296.6,312.0 300.6,310.4 300.9,320.5 296.9,322.2" fill="#0068ff"/>
<polygon points="296.9,322.2 300.9,320.5 301.2,330.7 297.2,332.4" fill="#004aff"/>
<polygon points="297.2,332.4 301.2,330.7 301.4,340.8 297.5,342.5" fill="#0022ff"/>
<polygon points="297.5,342.5 301.4,340.8 301.7,351.0 297.7,352.7" fill="#0000ed"/>
<polygon points="297.7,352.7 301.7,351.0 302.0,361.1 298.0,362.8" fill="#0000c1"/>
<polygon points="298.0,362.8 302.0,361.1 302.2,371.3 298.3,373.0" fill="#0000ac"/>
<polygon points="300.1,290.1 304.1,288.4 304.4,298.5 300.4,300.2" fill="#00b6ff"/>
<polygon points="300.4,300.2 304.4,298.5 304.6,308.7 300.6,310.4" fill="#00a3ff"/>
<polygon points="300.6,310.4 304.6,308.7 304.9,318.8 300.9,320.5" fill="#0091ff"/>
<polygon points="300.9,320.5 304.9,318.8 305.2,329.0 301.2,330.7" fill="#007dff"/>
<polygon points="301.2,330.7 305.2,329.0 305.4,339.1 301.4,340.8" fill="#005bff"/>
<polygon points="301.4,340.8 305.4,339.1 305.7,349.3 301.7,351.0" fill="#002aff"/>
<polygon points="301.7,351.0 305.7,349.3 306.0,359.4 302.0,361.1" fill="#0000f7"/>
<polygon points="302.0,361.1 306.0,359.4 306.2,369.6 302.2,371.3" fill="#0000d5"/>
<polygon points="304.1,288.4 310.2,286.0 310.5,296.3 304.4,298.5" fill="#00c3ff"/>
<polygon points="304.4,298.5 310.5,296.3 310.7,306.7 304.6,308.7" fill="#00b2ff"/>
<polygon points="304.6,308.7 310.7,306.7 311.0,317.0 304.9,318.8" fill="#00baff"/>
<polygon points="304.9,318.8 311.0,317.0 311.3,327.3 305.2,329.0" fill="#00b5ff"/>
<polygon points="305.2,329.0 311.3,327.3 311.5,337.6 305.4,339.1" fill="#00a5ff"/>
<polygon points="305.4,339.1 311.5,337.6 311.8,347.9 305.7,349.3" fill="#0088ff"/>
<polygon points="305.7,349.3 311.8,347.9 312.1,358.2 306.0,359.4" fill="#0058ff"/>
<polygon points="306.0,359.4 312.1,358.2 312.3,368.5 306.2,369.6" fill="#0018ff"/>
<polygon points="310.2,286.0 316.3,284.5 316.6,294.9 310.5,296.3" fill="#00d3ff"/>
<polygon points="310.5,296.3 316.6,294.9 316.8,305.3 310.7,306.7" fill="#00c2ff"/>
<polygon points="310.7,306.7 316.8,305.3 317.1,315.7 311.0,317.0" fill="#00cdff"/>
<polygon points="311.0,317.0 317.1,315.7 317.4,326.1 311.3,327.3" fill="#00c8ff"/>
<polygon points="311.3,327.3 317.4,326.1 317.6,336.5 311.5,337.6" fill="#00bdff"/>
<polygon points="311.5,337.6 317.6,336.5 317.9,346.9 311.8,347.9" fill="#00aeff"/>
<polygon points="311.8,347.9 317.9,346.9 318.1,357.3 312.1,358.2" fill="#008eff"/>
<polygon points="312.1,358.2 318.1,357.3 318.4,367.7 312.3,368.5" fill="#0043ff"/>
<polygon points="316.3,284.5 322.4,283.0 322.7,293.5 316.6,294.9" fill="#00fffa"/>
<polygon points="316.6,294.9 322.7,293.5 322.9,304.0 316.8,305.3" fill="#00efff"/>
<polygon points="316.8,305.3 322.9,304.0 323.2,314.4 317.1,315.7" fill="#00deff"/>
<polygon points="317.1,315.7 323.2,314.4 323.4,324.9 317.4,326.1" fill="#00cdff"/>
<polygon points="317.4,326.1 323.4,324.9 323.7,335.4 317.6,336.5" fill="#00bdff"/>
<polygon points="317.6,336.5 323.7,335.4 324.0,345.9 317.9,346.9" fill="#00a8ff"/>
<polygon points="317.9,346.9 324.0,345.9 324.2,356.4 318.1,357.3" fill="#0081ff"/>
<polygon points="318.1,357.3 324.2,356.4 324.5,366.9 318.4,367.7" fill="#0038ff"/>
<polygon points="322.4,283.0 328.5,281.5 328.8,292.0 322.7,293.5" fill="#00ffb4"/>
<polygon points="322.7,293.5 328.8,292.0 329.0,302.6 322.9,304.0" fill="#00ffe3"/>
<polygon points="322.9,304.0 329.0,302.6 329.3,313.2 323.2,314.4" fill="#00ecff"/>
<polygon points="323.2,314.4 329.3,313.2 329.5,323.7 323.4,324.9" fill="#00d0ff"/>
<polygon points="323.4,324.9 329.5,323.7 329.8,334.3 323.7,335.4" fill="#00b9ff"/>
<polygon points="323.7,335.4 329.8,334.3 330.1,344.9 324.0,345.9" fill="#009cff"/>
<polygon points="324.0,345.9 330.1,344.9 330.3,355.4 324.2,356.4" fill="#006cff"/>
<polygon points="324.2,356.4 330.3,355.4 330.6,366.0 324.5,366.9" fill="#0026ff"/>
<polygon points="328.5,281.5 334.6,280.0 334.9,290.4 328.8,292.0" fill="#00ff8e"/>
<polygon points="328.8,292.0 334.9,290.4 335.1,300.9 329.0,302.6" fill="#00ffd3"/>
<polygon points="329.0,302.6 335.1,300.9 335.4,311.4 329.3,313.2" fill="#00e8ff"/>
<polygon points="329.3,313.2 335.4,311.4 335.6,321.9 329.5,323.7" fill="#00bfff"/>
<polygon points="329.5,323.7 335.6,321.9 335.9,332.3 329.8,334.3" fill="#009cff"/>
<polygon points="329.8,334.3 335.9,332.3 336.1,342.8 330.1,344.9" fill="#0076ff"/>
<polygon points="330.1,344.9 336.1,342.8 336.4,353.3 330.3,355.4" fill="#0046ff"/>
<polygon points="330.3,355.4 336.4,353.3 336.6,363.7 330.6,366.0" fill="#000aff"/>
<polygon points="334.6,280.0 340.4,278.5 340.6,288.9 334.9,290.4" fill="#00ff8c"/>
<polygon points="334.9,290.4 340.6,288.9 340.9,299.2 335.1,300.9" fill="#00ffdc"/>
<polygon points="335.1,300.9 340.9,299.2 341.1,309.6 335.4,311.4" fill="#00d2ff"/>
<polygon points="335.4,311.4 341.1,309.6 341.4,320.0 335.6,321.9" fill="#0095ff"/>
<polygon points="335.6,321.9 341.4,320.0 341.7,330.4 335.9,332.3" fill="#0061ff"/>
<polygon points="335.9,332.3 341.7,330.4 341.9,340.8 336.1,342.8" fill="#0036ff"/>
<polygon points="336.1,342.8 341.9,340.8 342.2,351.2 336.4,353.3" fill="#000fff"/>
<polygon points="336.4,353.3 342.2,351.2 342.4,361.6 336.6,363.7" fill="#0000e6"/>
<polygon points="340.4,278.5 346.2,276.7 346.4,287.0 340.6,288.9" fill="#00ff8d"/>
<polygon points="340.6,288.9 346.4,287.0 346.7,297.4 340.9,299.2" fill="#00ffe6"/>
<polygon points="340.9,299.2 346.7,297.4 346.9,307.7 341.1,309.6" fill="#00baff"/>
<polygon points="341.1,309.6 346.9,307.7 347.2,318.1 341.4,320.0" fill="#0062ff"/>
<polygon points="341.4,320.0 347.2,318.1 347.4,328.4 341.7,330.4" fill="#0021ff"/>
<polygon points="341.7,330.4 347.4,328.4 347.7,338.7 341.9,340.8" fill="#0000f8"/>
<polygon points="341.9,340.8 347.7,338.7 347.9,349.1 342.2,351.2" fill="#0000df"/>
<polygon points="342.2,351.2 347.9,349.1 348.2,359.4 342.4,361.6" fill="#0000c7"/>
<polygon points="346.2,276.7 352.0,274.9 352.2,285.2 346.4,287.0" fill="#00ffa3"/>
<polygon points="346.4,287.0 352.2,285.2 352.5,295.5 346.7,297.4" fill="#00fffc"/>
<polygon points="346.7,297.4 352.5,295.5 352.7,305.8 346.9,307.7" fill="#0091ff"/>
<polygon points="346.9,307.7 352.7,305.8 353.0,316.1 347.2,318.1" fill="#0035ff"/>
<polygon points="347.2,318.1 353.0,316.1 353.2,326.4 347.4,328.4" fill="#0000f7"/>
<polygon points="347.4,328.4 353.2,326.4 353.5,336.7 347.7,338.7" fill="#0000d9"/>
<polygon points="347.7,338.7 353.5,336.7 353.7,347.0 347.9,349.1" fill="#0000c7"/>
<polygon points="347.9,349.1 353.7,347.0 354.0,357.3 348.2,359.4" fill="#0000b6"/>
<polygon points="352.0,274.9 357.7,273.1 358.0,283.4 352.2,285.2" fill="#00ffbb"/>
<polygon points="352.2,285.2 358.0,283.4 358.2,293.6 352.5,295.5" fill="#00edff"/>
<polygon points="352.5,295.5 358.2,293.6 358.5,303.9 352.7,305.8" fill="#0067ff"/>
<polygon points="352.7,305.8 358.5,303.9 358.7,314.1 353.0,316.1" fill="#0008ff"/>
<polygon points="353.0,316.1 358.7,314.1 359.0,324.4 353.2,326.4" fill="#0000d4"/>
<polygon points="353.2,326.4 359.0,324.4 359.2,334.6 353.5,336.7" fill="#0000bc"/>
<polygon points="353.5,336.7 359.2,334.6 359.5,344.8 353.7,347.0" fill="#0000b1"/>
<polygon points="353.7,347.0 359.5,344.8 359.7,355.1 354.0,357.3" fill="#0000a7"/>
<polygon points="357.7,273.1 363.5,271.4 363.8,281.6 358.0,283.4" fill="#00ffed"/>
<polygon points="358.0,283.4 363.8,281.6 364.0,291.7 358.2,293.6" fill="#00caff"/>
<polygon points="358.2,293.6 364.0,291.7 364.3,301.9 358.5,303.9" fill="#0033ff"/>
<polygon points="358.5,303.9 364.3,301.9 364.5,312.1 358.7,314.1" fill="#0000df"/>
<polygon points="358.7,314.1 364.5,312.1 364.7,322.3 359.0,324.4" fill="#0000b7"/>
<polygon points="359.0,324.4 364.7,322.3 365.0,332.5 359.2,334.6" fill="#0000a7"/>
<polygon points="359.2,334.6 365.0,332.5 365.2,342.7 359.5,344.8" fill="#0000a1"/>
<polygon points="359.5,344.8 365.2,342.7 365.5,352.9 359.7,355.1" fill="#00009c"/>
<polygon points="363.5,271.4 369.3,269.6 369.5,279.7 363.8,281.6" fill="#00ecff"/>
<polygon points="363.8,281.6 369.5,279.7 369.8,289.9 364.0,291.7" fill="#00a5ff"/>
<polygon points="364.0,291.7 369.8,289.9 370.0,300.0 364.3,301.9" fill="#0007ff"/>
<polygon points="364.3,301.9 370.0,300.0 370.3,310.2 364.5,312.1" fill="#0000c3"/>
<polygon points="364.5,312.1 370.3,310.2 370.5,320.3 364.7,322.3" fill="#0000a6"/>
<polygon points="364.7,322.3 370.5,320.3 370.8,330.5 365.0,332.5" fill="#00009d"/>
<polygon points="365.0,332.5 370.8,330.5 371.0,340.6 365.2,342.7" fill="#00009b"/>
<polygon points="365.2,342.7 371.0,340.6 371.2,350.8 365.5,352.9" fill="#000099"/>
<polygon points="369.3,269.6 375.1,267.8 375.3,277.9 369.5,279.7" fill="#00d0ff"/>
<polygon points="369.5,279.7 375.3,277.9 375.6,288.0 369.8,289.9" fill="#0082ff"/>
<polygon points="369.8,289.9 375.6,288.0 375.8,298.1 370.0,300.0" fill="#0000fa"/>
<polygon points="370.0,300.0 375.8,298.1 376.1,308.2 370.3,310.2" fill="#0000c1"/>
<polygon points="370.3,310.2 376.1,308.2 376.3,318.3 370.5,320.3" fill="#0000a9"/>
<polygon points="370.5,320.3 376.3,318.3 376.5,328.4 370.8,330.5" fill="#0000a2"/>
<polygon points="370.8,330.5 376.5,328.4 376.8,338.5 371.0,340.6" fill="#0000a3"/>
<polygon points="371.0,340.6 376.8,338.5 377.0,348.6 371.2,350.8" fill="#00009e"/>
<polygon points="375.1,267.8 380.9,266.0 381.1,276.0 375.3,277.9" fill="#00fff8"/>
<polygon points="375.3,277.9 381.1,276.0 381.3,286.1 375.6,288.0" fill="#00bfff"/>
<polygon points="375.6,288.0 381.3,286.1 381.6,296.2 375.8,298.1" fill="#005bff"/>
<polygon points="375.8,298.1 381.6,296.2 381.8,306.3 376.1,308.2" fill="#000bff"/>
<polygon points="376.1,308.2 381.8,306.3 382.1,316.3 376.3,318.3" fill="#0000dc"/>
<polygon points="376.3,318.3 382.1,316.3 382.3,326.4 376.5,328.4" fill="#0000c6"/>
<polygon points="376.5,328.4 382.3,326.4 382.5,336.5 376.8,338.5" fill="#0000b4"/>
<polygon points="376.8,338.5 382.5,336.5 382.8,346.5 377.0,348.6" fill="#0000a6"/>
<polygon points="380.9,266.0 386.6,264.6 386.9,274.7 381.1,276.0" fill="#09ff86"/>
<polygon points="381.1,276.0 386.9,274.7 387.1,284.8 381.3,286.1" fill="#00ffc1"/>
<polygon points="381.3,286.1 387.1,284.8 387.4,295.0 381.6,296.2" fill="#00e7ff"/>
<polygon points="381.6,296.2 387.4,295.0 387.6,305.1 381.8,306.3" fill="#00a8ff"/>
<polygon points="381.8,306.3 387.6,305.1 387.8,315.2 382.1,316.3" fill="#0072ff"/>
<polygon points="382.1,316.3 387.8,315.2 388.1,325.3 382.3,326.4" fill="#003dff"/>
<polygon points="382.3,326.4 388.1,325.3 388.3,335.5 382.5,336.5" fill="#0000f5"/>
<polygon points="382.5,336.5 388.3,335.5 388.5,345.6 382.8,346.5" fill="#0000c7"/>
<polygon points="386.6,264.6 392.4,263.4 392.7,273.6 386.9,274.7" fill="#23ff75"/>
<polygon points="386.9,274.7 392.7,273.6 392.9,283.7 387.1,284.8" fill="#00ffaa"/>
<polygon points="387.1,284.8 392.9,283.7 393.1,293.9 387.4,295.0" fill="#00fffd"/>
<polygon points="387.4,295.0 393.1,293.9 393.4,304.0 387.6,305.1" fill="#00cfff"/>
<polygon points="387.6,305.1 393.4,304.0 393.6,314.2 387.8,315.2" fill="#00a8ff"/>
<polygon points="387.8,315.2 393.6,314.2 393.8,324.3 388.1,325.3" fill="#007bff"/>
<polygon points="388.1,325.3 393.8,324.3 394.1,334.5 388.3,335.5" fill="#002dff"/>
<polygon points="388.3,335.5 394.1,334.5 394.3,344.7 388.5,345.6" fill="#0000e4"/>
<polygon points="392.4,263.4 398.2,262.3 398.5,272.5 392.7,273.6" fill="#00ff99"/>
<polygon points="392.7,273.6 398.5,272.5 398.7,282.6 392.9,283.7" fill="#00ffcb"/>
<polygon points="392.9,283.7 398.7,282.6 398.9,292.8 393.1,293.9" fill="#00eaff"/>
<polygon points="393.1,293.9 398.9,292.8 399.1,303.0 393.4,304.0" fill="#00c2ff"/>
<polygon points="393.4,304.0 399.1,303.0 399.4,313.2 393.6,314.2" fill="#00a8ff"/>
<polygon points="393.6,314.2 399.4,313.2 399.6,323.4 393.8,324.3" fill="#008bff"/>
<polygon points="393.8,324.3 399.6,323.4 399.8,333.5 394.1,334.5" fill="#0048ff"/>
<polygon points="394.1,334.5 399.8,333.5 400.1,343.7 394.3,344.7" fill="#0000f5"/>
<polygon points="398.2,262.3 404.0,261.1 404.2,271.3 398.5,272.5" fill="#00ffd4"/>
<polygon points="398.5,272.5 404.2,271.3 404.5,281.5 398.7,282.6" fill="#00fcff"/>
<polygon points="398.7,282.6 404.5,281.5 404.7,291.7 398.9,292.8" fill="#00c9ff"/>
<polygon points="398.9,292.8 404.7,291.7 404.9,302.0 399.1,303.0" fill="#00a8ff"/>
<polygon points="399.1,303.0 404.9,302.0 405.2,312.2 399.4,313.2" fill="#0094ff"/>
<polygon points="399.4,313.2 405.2,312.2 405.4,322.4 399.6,323.4" fill="#007cff"/>
<polygon points="399.6,323.4 405.4,322.4 405.6,332.6 399.8,333.5" fill="#0041ff"/>
<polygon points="399.8,333.5 405.6,332.6 405.8,342.8 400.1,343.7" fill="#0000f6"/>
<polygon points="404.0,261.1 409.4,260.1 409.7,270.3 404.2,271.3" fill="#00fcff"/>
<polygon points="404.2,271.3 409.7,270.3 409.9,280.6 404.5,281.5" fill="#00d4ff"/>
<polygon points="404.5,281.5 409.9,280.6 410.1,290.8 404.7,291.7" fill="#00abff"/>
<polygon points="404.7,291.7 410.1,290.8 410.3,301.0 404.9,302.0" fill="#0092ff"/>
<polygon points="404.9,302.0 410.3,301.0 410.6,311.2 405.2,312.2" fill="#0081ff"/>
<polygon points="405.2,312.2 410.6,311.2 410.8,321.4 405.4,322.4" fill="#006cff"/>
<polygon points="405.4,322.4 410.8,321.4 411.0,331.7 405.6,332.6" fill="#003aff"/>
<polygon points="405.6,332.6 411.0,331.7 411.3,341.9 405.8,342.8" fill="#0000f5"/>
<polygon points="409.4,260.1 414.9,259.2 415.1,269.4 409.7,270.3" fill="#00ddff"/>
<polygon points="409.7,270.3 415.1,269.4 415.3,279.7 409.9,280.6" fill="#00b1ff"/>
<polygon points="409.9,280.6 415.3,279.7 415.5,289.9 410.1,290.8" fill="#008fff"/>
<polygon points="410.1,290.8 415.5,289.9 415.8,300.2 410.3,301.0" fill="#007dff"/>
<polygon points="410.3,301.0 415.8,300.2 416.0,310.4 410.6,311.2" fill="#0070ff"/>
<polygon points="410.6,311.2 416.0,310.4 416.2,320.7 410.8,321.4" fill="#005fff"/>
<polygon points="410.8,321.4 416.2,320.7 416.4,330.9 411.0,331.7" fill="#0034ff"/>
<polygon points="411.0,331.7 416.4,330.9 416.7,341.2 411.3,341.9" fill="#0000f5"/>
<polygon points="414.9,259.2 420.3,258.3 420.5,268.6 415.1,269.4" fill="#00a2ff"/>
<polygon points="415.1,269.4 420.5,268.6 420.7,278.8 415.3,279.7" fill="#0084ff"/>
<polygon points="415.3,279.7 420.7,278.8 421.0,289.1 415.5,289.9" fill="#0066ff"/>
<polygon points="415.5,289.9 421.0,289.1 421.2,299.4 415.8,300.2" fill="#0057ff"/>
<polygon points="415.8,300.2 421.2,299.4 421.4,309.7 416.0,310.4" fill="#004dff"/>
<polygon points="416.0,310.4 421.4,309.7 421.6,320.0 416.2,320.7" fill="#003fff"/>
<polygon points="416.2,320.7 421.6,320.0 421.9,330.2 416.4,330.9" fill="#0021ff"/>
<polygon points="416.4,330.9 421.9,330.2 422.1,340.5 416.7,341.2" fill="#0000ef"/>
<polygon points="420.3,258.3 425.7,257.3 425.9,267.7 420.5,268.6" fill="#0077ff"/>
<polygon points="420.5,268.6 425.9,267.7 426.2,278.0 420.7,278.8" fill="#0069ff"/>
<polygon points="420.7,278.8 426.2,278.0 426.4,288.3 421.0,289.1" fill="#0046ff"/>
<polygon points="421.0,289.1 426.4,288.3 426.6,298.6 421.2,299.4" fill="#0032ff"/>
<polygon points="421.2,299.4 426.6,298.6 426.8,308.9 421.4,309.7" fill="#0027ff"/>
<polygon points="421.4,309.7 426.8,308.9 427.1,319.3 421.6,320.0" fill="#001bff"/>
<polygon points="421.6,320.0 427.1,319.3 427.3,329.6 421.9,330.2" fill="#0007ff"/>
<polygon points="421.9,330.2 427.3,329.6 427.5,339.9 422.1,340.5" fill="#0000e5"/>
<polygon points="425.7,257.3 431.1,256.8 431.4,267.1 425.9,267.7" fill="#0085ff"/>
<polygon points="425.9,267.7 431.4,267.1 431.6,277.4 426.2,278.0" fill="#0058ff"/>
<polygon points="426.2,278.0 431.6,277.4 431.8,287.7 426.4,288.3" fill="#002bff"/>
<polygon points="426.4,288.3 431.8,287.7 432.0,298.0 426.6,298.6" fill="#0012ff"/>
<polygon points="426.6,298.6 432.0,298.0 432.2,308.3 426.8,308.9" fill="#0004ff"/>
<polygon points="426.8,308.9 432.2,308.3 432.5,318.6 427.1,319.3" fill="#0000fa"/>
<polygon points="427.1,319.3 432.5,318.6 432.7,328.9 427.3,329.6" fill="#0000f1"/>
<polygon points="427.3,329.6 432.7,328.9 432.9,339.3 427.5,339.9" fill="#0000db"/>
<polygon points="431.1,256.8 436.6,256.3 436.8,266.6 431.4,267.1" fill="#00cbff"/>
<polygon points="431.4,267.1 436.8,266.6 437.0,276.9 431.6,277.4" fill="#007eff"/>
<polygon points="431.6,277.4 437.0,276.9 437.2,287.2 431.8,287.7" fill="#003dff"/>
<polygon points="431.8,287.7 437.2,287.2 437.4,297.5 432.0,298.0" fill="#0018ff"/>
<polygon points="432.0,298.0 437.4,297.5 437.7,307.8 432.2,308.3" fill="#0003ff"/>
<polygon points="432.2,308.3 437.7,307.8 437.9,318.0 432.5,318.6" fill="#0000f7"/>
<polygon points="432.5,318.6 437.9,318.0 438.1,328.3 432.7,328.9" fill="#0000ef"/>
<polygon points="432.7,328.9 438.1,328.3 438.3,338.6 432.9,339.3" fill="#0000da"/>
<polygon points="436.6,256.3 442.0,256.1 442.2,266.3 436.8,266.6" fill="#00e9ff"/>
<polygon points="436.8,266.6 442.2,266.3 442.4,276.6 437.0,276.9" fill="#00a9ff"/>
<polygon points="437.0,276.9 442.4,276.6 442.6,286.9 437.2,287.2" fill="#0054ff"/>
<polygon points="437.2,287.2 442.6,286.9 442.9,297.2 437.4,297.5" fill="#0022ff"/>
<polygon points="437.4,297.5 442.9,297.2 443.1,307.5 437.7,307.8" fill="#0006ff"/>
<polygon points="437.7,307.8 443.1,307.5 443.3,317.7 437.9,318.0" fill="#0000f7"/>
<polygon points="437.9,318.0 443.3,317.7 443.5,328.0 438.1,328.3" fill="#0000ef"/>
<polygon points="438.1,328.3 443.5,328.0 443.7,338.3 438.3,338.6" fill="#0000da"/>
<polygon points="442.0,256.1 449.7,256.3 449.9,266.6 442.2,266.3" fill="#00ff9d"/>
<polygon points="442.2,266.3 449.9,266.6 450.1,276.8 442.4,276.6" fill="#00ffc6"/>
<polygon points="442.4,276.6 450.1,276.8 450.3,287.1 442.6,286.9" fill="#00f6ff"/>
<polygon points="442.6,286.9 450.3,287.1 450.6,297.3 442.9,297.2" fill="#00beff"/>
<polygon points="442.9,297.2 450.6,297.3 450.8,307.6 443.1,307.5" fill="#0090ff"/>
<polygon points="443.1,307.5 450.8,307.6 451.0,317.8 443.3,317.7" fill="#0063ff"/>
<polygon points="443.3,317.7 451.0,317.8 451.2,328.1 443.5,328.0" fill="#002aff"/>
<polygon points="443.5,328.0 451.2,328.1 451.4,338.3 443.7,338.3" fill="#0000f3"/>
<polygon points="449.7,256.3 456.7,256.6 456.9,266.8 449.9,266.6" fill="#3cff64"/>
<polygon points="449.9,266.6 456.9,266.8 457.1,277.0 450.1,276.8" fill="#10ff82"/>
<polygon points="450.1,276.8 457.1,277.0 457.3,287.2 450.3,287.1" fill="#00ffd3"/>
<polygon points="450.3,287.1 457.3,287.2 457.5,297.4 450.6,297.3" fill="#00ebff"/>
<polygon points="450.6,297.3 457.5,297.4 457.8,307.6 450.8,307.6" fill="#00a7ff"/>
<polygon points="450.8,307.6 457.8,307.6 458.0,317.9 451.0,317.8" fill="#0063ff"/>
<polygon points="451.0,317.8 458.0,317.9 458.2,328.1 451.2,328.1" fill="#001fff"/>
<polygon points="451.2,328.1 458.2,328.1 458.4,338.3 451.4,338.3" fill="#0000f3"/>
<polygon points="456.7,256.6 464.6,257.1 464.8,267.3 456.9,266.8" fill="#bcff1e"/>
<polygon points="456.9,266.8 464.8,267.3 465.0,277.4 457.1,277.0" fill="#52ff55"/>
<polygon points="457.1,277.0 465.0,277.4 465.2,287.6 457.3,287.2" fill="#00ffab"/>
<polygon points="457.3,287.2 465.2,287.6 465.4,297.7 457.5,297.4" fill="#00fffc"/>
<polygon points="457.5,297.4 465.4,297.7 465.7,307.9 457.8,307.6" fill="#00beff"/>
<polygon points="457.8,307.6 465.7,307.9 465.9,318.0 458.0,317.9" fill="#007aff"/>
<polygon points="458.0,317.9 465.9,318.0 466.1,328.2 458.2,328.1" fill="#002aff"/>
<polygon points="458.2,328.1 466.1,328.2 466.3,338.3 458.4,338.3" fill="#0000f3"/>
<polygon points="464.6,257.1 472.5,257.8 472.7,267.8 464.8,267.3" fill="#ffd500"/>
<polygon points="464.8,267.3 472.7,267.8 472.9,277.9 465.0,277.4" fill="#bcff1e"/>
<polygon points="465.0,277.4 472.9,277.9 473.1,288.0 465.2,287.6" fill="#26ff73"/>
<polygon points="465.2,287.6 473.1,288.0 473.3,298.0 465.4,297.7" fill="#00ffd3"/>
<polygon points="465.4,297.7 473.3,298.0 473.5,308.1 465.7,307.9" fill="#00e0ff"/>
<polygon points="465.7,307.9 473.5,308.1 473.8,318.2 465.9,318.0" fill="#0090ff"/>
<polygon points="465.9,318.0 473.8,318.2 474.0,328.2 466.1,328.2" fill="#0036ff"/>
<polygon points="466.1,328.2 474.0,328.2 474.2,338.3 466.3,338.3" fill="#0000f3"/>
<polygon points="472.5,257.8 480.4,258.2 480.6,268.3 472.7,267.8" fill="#ff8500"/>
<polygon points="472.7,267.8 480.6,268.3 480.8,278.3 472.9,277.9" fill="#fbff02"/>
<polygon points="472.9,277.9 480.8,278.3 481.0,288.4 473.1,288.0" fill="#7dff3a"/>
<polygon points="473.1,288.0 481.0,288.4 481.2,298.5 473.3,298.0" fill="#00ffc6"/>
<polygon points="473.3,298.0 481.2,298.5 481.4,308.6 473.5,308.1" fill="#00ebff"/>
<polygon points="473.5,308.1 481.4,308.6 481.6,318.6 473.8,318.2" fill="#009cff"/>
<polygon points="473.8,318.2 481.6,318.6 481.8,328.7 474.0,328.2" fill="#0041ff"/>
<polygon points="474.0,328.2 481.8,328.7 482.0,338.8 474.2,338.3" fill="#0000f3"/>
<polygon points="480.4,258.2 489.2,258.6 489.4,268.7 480.6,268.3" fill="#ff4100"/>
<polygon points="480.6,268.3 489.4,268.7 489.6,278.9 480.8,278.3" fill="#ffbe00"/>
<polygon points="480.8,278.3 489.6,278.9 489.8,289.0 481.0,288.4" fill="#bcff1e"/>
<polygon points="481.0,288.4 489.8,289.0 490.0,299.2 481.2,298.5" fill="#00ff90"/>
<polygon points="481.2,298.5 490.0,299.2 490.2,309.3 481.4,308.6" fill="#00f6ff"/>
<polygon points="481.4,308.6 490.2,309.3 490.4,319.5 481.6,318.6" fill="#009cff"/>
<polygon points="481.6,318.6 490.4,319.5 490.6,329.6 481.8,328.7" fill="#0036ff"/>
<polygon points="481.8,328.7 490.6,329.6 490.8,339.7 482.0,338.8" fill="#0000f3"/>
<polygon points="489.2,258.6 497.0,259.0 497.2,269.2 489.4,268.7" fill="#ff1f00"/>
<polygon points="489.4,268.7 497.2,269.2 497.4,279.4 489.6,278.9" fill="#ff9100"/>
<polygon points="489.6,278.9 497.4,279.4 497.6,289.6 489.8,289.0" fill="#ebff09"/>
<polygon points="489.8,289.0 497.6,289.6 497.8,299.8 490.0,299.2" fill="#26ff73"/>
<polygon points="490.0,299.2 497.8,299.8 498.0,310.0 490.2,309.3" fill="#00fffc"/>
<polygon points="490.2,309.3 498.0,310.0 498.2,320.2 490.4,319.5" fill="#0090ff"/>
<polygon points="490.4,319.5 498.2,320.2 498.4,330.4 490.6,329.6" fill="#002aff"/>
<polygon points="490.6,329.6 498.4,330.4 498.6,340.6 490.8,339.7" fill="#0000f3"/>
<polygon points="497.0,259.0 504.6,259.5 504.8,269.8 497.2,269.2" fill="#ff1f00"/>
<polygon points="497.2,269.2 504.8,269.8 505.0,280.0 497.4,279.4" fill="#ff7a00"/>
<polygon points="497.4,279.4 505.0,280.0 505.2,290.2 497.6,289.6" fill="#fbff02"/>
<polygon points="497.6,289.6 505.2,290.2 505.4,300.5 497.8,299.8" fill="#3cff64"/>
<polygon points="497.8,299.8 505.4,300.5 505.6,310.7 498.0,310.0" fill="#00fffc"/>
<polygon points="498.0,310.0 505.6,310.7 505.8,320.9 498.2,320.2" fill="#0090ff"/>
<polygon points="498.2,320.2 505.8,320.9 506.0,331.2 498.4,330.4" fill="#002aff"/>
<polygon points="498.4,330.4 506.0,331.2 506.2,341.4 498.6,340.6" fill="#0000f3"/>
<polygon points="504.6,259.5 513.2,259.2 513.4,269.5 504.8,269.8" fill="#ff3600"/>
<polygon points="504.8,269.8 513.4,269.5 513.6,279.8 505.0,280.0" fill="#ff7a00"/>
<polygon points="505.0,280.0 513.6,279.8 513.8,290.1 505.2,290.2" fill="#fbff02"/>
<polygon points="505.2,290.2 513.8,290.1 514.0,300.4 505.4,300.5" fill="#3cff64"/>
<polygon points="505.4,300.5 514.0,300.4 514.2,310.7 505.6,310.7" fill="#00fffc"/>
<polygon points="505.6,310.7 514.2,310.7 514.4,321.0 505.8,320.9" fill="#0090ff"/>
<polygon points="505.8,320.9 514.4,321.0 514.6,331.3 506.0,331.2" fill="#002aff"/>
<polygon points="506.0,331.2 514.6,331.3 514.8,341.6 506.2,341.4" fill="#0000f3"/>
<polygon points="513.2,259.2 521.8,258.8 522.0,269.1 513.4,269.5" fill="#fc0000"/>
<polygon points="513.4,269.5 522.0,269.1 522.2,279.5 513.6,279.8" fill="#ff6300"/>
<polygon points="513.6,279.8 522.2,279.5 522.4,289.8 513.8,290.1" fill="#ffe000"/>
<polygon points="513.8,290.1 522.4,289.8 522.6,300.2 514.0,300.4" fill="#52ff55"/>
<polygon points="514.0,300.4 522.6,300.2 522.8,310.5 514.2,310.7" fill="#00fffc"/>
<polygon points="514.2,310.7 522.8,310.5 523.0,320.9 514.4,321.0" fill="#0090ff"/>
<polygon points="514.4,321.0 523.0,320.9 523.2,331.2 514.6,331.3" fill="#002aff"/>
<polygon points="514.6,331.3 523.2,331.2 523.4,341.6 514.8,341.6" fill="#0000f3"/>
<polygon points="521.8,258.8 530.2,258.4 530.4,268.8 522.0,269.1" fill="#f10000"/>
<polygon points="522.0,269.1 530.4,268.8 530.6,279.2 522.2,279.5" fill="#ff4100"/>
<polygon points="522.2,279.5 530.6,279.2 530.8,289.6 522.4,289.8" fill="#ffd500"/>
<polygon points="522.4,289.8 530.8,289.6 531.0,300.0 522.6,300.2" fill="#68ff46"/>
<polygon points="522.6,300.2 531.0,300.0 531.2,310.4 522.8,310.5" fill="#00ffee"/>
<polygon points="522.8,310.5 531.2,310.4 531.4,320.8 523.0,320.9" fill="#0090ff"/>
<polygon points="523.0,320.9 531.4,320.8 531.6,331.2 523.2,331.2" fill="#002aff"/>
<polygon points="523.2,331.2 531.6,331.2 531.8,341.6 523.4,341.6" fill="#0000f3"/>
<polygon points="530.2,258.4 538.6,258.1 538.8,268.5 530.4,268.8" fill="#f10000"/>
<polygon points="530.4,268.8 538.8,268.5 539.0,278.9 530.6,279.2" fill="#ff2a00"/>
<polygon points="530.6,279.2 539.0,278.9 539.2,289.4 530.8,289.6" fill="#ffbe00"/>
<polygon points="530.8,289.6 539.2,289.4 539.4,299.8 531.0,300.0" fill="#7dff3a"/>
<polygon points="531.0,300.0 539.4,299.8 539.6,310.3 531.2,310.4" fill="#00ffee"/>
<polygon points="531.2,310.4 539.6,310.3 539.8,320.7 531.4,320.8" fill="#009cff"/>
<polygon points="531.4,320.8 539.8,320.7 539.9,331.2 531.6,331.2" fill="#0036ff"/>
<polygon points="531.6,331.2 539.9,331.2 540.1,341.6 531.8,341.6" fill="#0000f3"/>
<polygon points="538.6,258.1 546.5,258.2 546.7,268.6 538.8,268.5" fill="#fc0000"/>
<polygon points="538.8,268.5 546.7,268.6 546.9,279.0 539.0,278.9" fill="#ff3600"/>
<polygon points="539.0,278.9 546.9,279.0 547.1,289.4 539.2,289.4" fill="#ffa700"/>
<polygon points="539.2,289.4 547.1,289.4 547.3,299.8 539.4,299.8" fill="#8dff33"/>
<polygon points="539.4,299.8 547.3,299.8 547.4,310.2 539.6,310.3" fill="#00ffe1"/>
<polygon points="539.6,310.3 547.4,310.2 547.6,320.6 539.8,320.7" fill="#009cff"/>
<polygon points="539.8,320.7 547.6,320.6 547.8,331.0 539.9,331.2" fill="#0036ff"/>
<polygon points="539.9,331.2 547.8,331.0 548.0,341.4 540.1,341.6" fill="#0000f3"/>
<polygon points="546.5,258.2 554.4,258.4 554.6,268.8 546.7,268.6" fill="#ff4100"/>
<polygon points="546.7,268.6 554.6,268.8 554.8,279.1 546.9,279.0" fill="#ff7a00"/>
<polygon points="546.9,279.0 554.8,279.1 555.0,289.5 547.1,289.4" fill="#ffe000"/>
<polygon points="547.1,289.4 555.0,289.5 555.1,299.8 547.3,299.8" fill="#52ff55"/>
<polygon points="547.3,299.8 555.1,299.8 555.3,310.2 547.4,310.2" fill="#00ffe1"/>
<polygon points="547.4,310.2 555.3,310.2 555.5,320.5 547.6,320.6" fill="#00a7ff"/>
<polygon points="547.6,320.6 555.5,320.5 555.7,330.9 547.8,331.0" fill="#0041ff"/>
<polygon points="547.8,331.0 555.7,330.9 555.9,341.2 548.0,341.4" fill="#0000f3"/>
<polygon points="554.4,258.4 561.5,258.5 561.7,268.8 554.6,268.8" fill="#ffd500"/>
<polygon points="554.6,268.8 561.7,268.8 561.9,279.1 554.8,279.1" fill="#fbff02"/>
<polygon points="554.8,279.1 561.9,279.1 562.1,289.4 555.0,289.5" fill="#8dff33"/>
<polygon points="555.0,289.5 562.1,289.4 562.2,299.7 555.1,299.8" fill="#26ff73"/>
<polygon points="555.1,299.8 562.2,299.7 562.4,310.0 555.3,310.2" fill="#00ffee"/>
<polygon points="555.3,310.2 562.4,310.0 562.6,320.4 555.5,320.5" fill="#00a7ff"/>
<polygon points="555.5,320.5 562.6,320.4 562.8,330.7 555.7,330.9" fill="#0041ff"/>
<polygon points="555.7,330.9 562.8,330.7 563.0,341.0 555.9,341.2" fill="#0000f3"/>
<polygon points="561.5,258.5 569.4,258.2 569.6,268.5 561.7,268.8" fill="#9cff2c"/>
<polygon points="561.7,268.8 569.6,268.5 569.8,278.8 561.9,279.1" fill="#52ff55"/>
<polygon points="561.9,279.1 569.8,278.8 570.0,289.1 562.1,289.4" fill="#10ff82"/>
<polygon points="562.1,289.4 570.0,289.1 570.1,299.4 562.2,299.7" fill="#00ffee"/>
<polygon points="562.2,299.7 570.1,299.4 570.3,309.7 562.4,310.0" fill="#00d4ff"/>
<polygon points="562.4,310.0 570.3,309.7 570.5,320.0 562.6,320.4" fill="#0085ff"/>
<polygon points="562.6,320.4 570.5,320.0 570.7,330.3 562.8,330.7" fill="#002aff"/>
<polygon points="562.8,330.7 570.7,330.3 570.9,340.6 563.0,341.0" fill="#0000e9"/>
<polygon points="569.4,258.2 577.3,257.8 577.5,268.1 569.6,268.5" fill="#8dff33"/>
<polygon points="569.6,268.5 577.5,268.1 577.7,278.4 569.8,278.8" fill="#26ff73"/>
<polygon points="569.8,278.8 577.7,278.4 577.8,288.7 570.0,289.1" fill="#10ff82"/>
<polygon points="570.0,289.1 577.8,288.7 578.0,299.0 570.1,299.4" fill="#00ffee"/>
<polygon points="570.1,299.4 578.0,299.0 578.2,309.3 570.3,309.7" fill="#00e0ff"/>
<polygon points="570.3,309.7 578.2,309.3 578.4,319.6 570.5,320.0" fill="#009cff"/>
<polygon points="570.5,320.0 578.4,319.6 578.6,329.9 570.7,330.3" fill="#0041ff"/>
<polygon points="570.7,330.3 578.6,329.9 578.7,340.2 570.9,340.6" fill="#0000f3"/>
<polygon points="577.3,257.8 585.1,257.5 585.3,267.8 577.5,268.1" fill="#acff25"/>
<polygon points="577.5,268.1 585.3,267.8 585.5,278.1 577.7,278.4" fill="#7dff3a"/>
<polygon points="577.7,278.4 585.5,278.1 585.6,288.3 577.8,288.7" fill="#3cff64"/>
<polygon points="577.8,288.7 585.6,288.3 585.8,298.6 578.0,299.0" fill="#00ffab"/>
<polygon points="578.0,299.0 585.8,298.6 586.0,308.9 578.2,309.3" fill="#00fffc"/>
<polygon points="578.2,309.3 586.0,308.9 586.2,319.2 578.4,319.6" fill="#00a7ff"/>
<polygon points="578.4,319.6 586.2,319.2 586.4,329.5 578.6,329.9" fill="#0041ff"/>
<polygon points="578.6,329.9 586.4,329.5 586.5,339.8 578.7,340.2" fill="#0000f3"/>
<polygon points="585.1,257.5 592.7,257.4 592.9,267.6 585.3,267.8" fill="#ebff09"/>
<polygon points="585.3,267.8 592.9,267.6 593.1,277.8 585.5,278.1" fill="#ebff09"/>
<polygon points="585.5,278.1 593.1,277.8 593.2,288.0 585.6,288.3" fill="#dbff10"/>
<polygon points="585.6,288.3 593.2,288.0 593.4,298.3 585.8,298.6" fill="#acff25"/>
<polygon points="585.8,298.6 593.4,298.3 593.6,308.5 586.0,308.9" fill="#26ff73"/>
<polygon points="586.0,308.9 593.6,308.5 593.8,318.7 586.2,319.2" fill="#00ffd3"/>
<polygon points="586.2,319.2 593.8,318.7 593.9,328.9 586.4,329.5" fill="#009cff"/>
<polygon points="586.4,329.5 593.9,328.9 594.1,339.1 586.5,339.8" fill="#0000fd"/>
<polygon points="592.7,257.4 600.2,257.3 600.4,267.5 592.9,267.6" fill="#ebff09"/>
<polygon points="592.9,267.6 600.4,267.5 600.6,277.6 593.1,277.8" fill="#fbff02"/>
<polygon points="593.1,277.8 600.6,277.6 600.7,287.8 593.2,288.0" fill="#ffe000"/>
<polygon points="593.2,288.0 600.7,287.8 600.9,297.9 593.4,298.3" fill="#ffe000"/>
<polygon points="593.4,298.3 600.9,297.9 601.1,308.1 593.6,308.5" fill="#dbff10"/>
<polygon points="593.6,308.5 601.1,308.1 601.2,318.2 593.8,318.7" fill="#3cff64"/>
<polygon points="593.8,318.7 601.2,318.2 601.4,328.4 593.9,328.9" fill="#00ebff"/>
<polygon points="593.9,328.9 601.4,328.4 601.6,338.5 594.1,339.1" fill="#001fff"/>
<polygon points="600.2,257.3 607.8,257.5 608.0,267.6 600.4,267.5" fill="#52ff55"/>
<polygon points="600.4,267.5 608.0,267.6 608.1,277.6 600.6,277.6" fill="#ccff17"/>
<polygon points="600.6,277.6 608.1,277.6 608.3,287.7 600.7,287.8" fill="#ffc900"/>
<polygon points="600.7,287.8 608.3,287.7 608.5,297.8 600.9,297.9" fill="#ffa700"/>
<polygon points="600.9,297.9 608.5,297.8 608.7,307.8 601.1,308.1" fill="#ffe000"/>
<polygon points="601.1,308.1 608.7,307.8 608.8,317.9 601.2,318.2" fill="#9cff2c"/>
<polygon points="601.2,318.2 608.8,317.9 609.0,328.0 601.4,328.4" fill="#00fffc"/>
<polygon points="601.4,328.4 609.0,328.0 609.2,338.0 601.6,338.5" fill="#0041ff"/>
<polygon points="607.8,257.5 615.9,257.8 616.1,267.9 608.0,267.6" fill="#3cff64"/>
<polygon points="608.0,267.6 616.1,267.9 616.2,278.0 608.1,277.6" fill="#bcff1e"/>
<polygon points="608.1,277.6 616.2,278.0 616.4,288.1 608.3,287.7" fill="#ffc900"/>
<polygon points="608.3,287.7 616.4,288.1 616.6,298.3 608.5,297.8" fill="#ff9100"/>
<polygon points="608.5,297.8 616.6,298.3 616.8,308.4 608.7,307.8" fill="#ffc900"/>
<polygon points="608.7,307.8 616.8,308.4 616.9,318.5 608.8,317.9" fill="#acff25"/>
<polygon points="608.8,317.9 616.9,318.5 617.1,328.7 609.0,328.0" fill="#00ffee"/>
<polygon points="609.0,328.0 617.1,328.7 617.3,338.8 609.2,338.0" fill="#004dff"/>
<polygon points="615.9,257.8 623.8,258.4 624.0,268.6 616.1,267.9" fill="#00ff90"/>
<polygon points="616.1,267.9 624.0,268.6 624.1,278.7 616.2,278.0" fill="#8dff33"/>
<polygon points="616.2,278.0 624.1,278.7 624.3,288.9 616.4,288.1" fill="#fbff02"/>
<polygon points="616.4,288.1 624.3,288.9 624.5,299.0 616.6,298.3" fill="#ffe000"/>
<polygon points="616.6,298.3 624.5,299.0 624.6,309.2 616.8,308.4" fill="#fbff02"/>
<polygon points="616.8,308.4 624.6,309.2 624.8,319.4 616.9,318.5" fill="#8dff33"/>
<polygon points="616.9,318.5 624.8,319.4 625.0,329.5 617.1,328.7" fill="#00fffc"/>
<polygon points="617.1,328.7 625.0,329.5 625.1,339.7 617.3,338.8" fill="#004dff"/>
<polygon points="623.8,258.4 631.9,259.4 632.1,269.6 624.0,268.6" fill="#00ff9d"/>
<polygon points="624.0,268.6 632.1,269.6 632.2,279.8 624.1,278.7" fill="#52ff55"/>
<polygon points="624.1,278.7 632.2,279.8 632.4,290.0 624.3,288.9" fill="#acff25"/>
<polygon points="624.3,288.9 632.4,290.0 632.6,300.3 624.5,299.0" fill="#dbff10"/>
<polygon points="624.5,299.0 632.6,300.3 632.7,310.5 624.6,309.2" fill="#acff25"/>
<polygon points="624.6,309.2 632.7,310.5 632.9,320.7 624.8,319.4" fill="#3cff64"/>
<polygon points="624.8,319.4 632.9,320.7 633.1,330.9 625.0,329.5" fill="#00e0ff"/>
<polygon points="625.0,329.5 633.1,330.9 633.2,341.1 625.1,339.7" fill="#002aff"/>
<polygon points="631.9,259.4 639.8,260.4 640.0,270.7 632.1,269.6" fill="#00ff9d"/>
<polygon points="632.1,269.6 640.0,270.7 640.1,280.9 632.2,279.8" fill="#26ff73"/>
<polygon points="632.2,279.8 640.1,280.9 640.3,291.2 632.4,290.0" fill="#3cff64"/>
<polygon points="632.4,290.0 640.3,291.2 640.5,301.4 632.6,300.3" fill="#3cff64"/>
<polygon points="632.6,300.3 640.5,301.4 640.6,311.7 632.7,310.5" fill="#10ff82"/>
<polygon points="632.7,310.5 640.6,311.7 640.8,321.9 632.9,320.7" fill="#00fffc"/>
<polygon points="632.9,320.7 640.8,321.9 641.0,332.2 633.1,330.9" fill="#0090ff"/>
<polygon points="633.1,330.9 641.0,332.2 641.1,342.4 633.2,341.1" fill="#0000fd"/>
<polygon points="639.8,260.4 648.0,261.5 648.2,271.8 640.0,270.7" fill="#52ff55"/>
<polygon points="640.0,270.7 648.2,271.8 648.3,282.0 640.1,280.9" fill="#3cff64"/>
<polygon points="640.1,280.9 648.3,282.0 648.5,292.3 640.3,291.2" fill="#00ff9d"/>
<polygon points="640.3,291.2 648.5,292.3 648.6,302.6 640.5,301.4" fill="#00ffc6"/>
<polygon points="640.5,301.4 648.6,302.6 648.8,312.9 640.6,311.7" fill="#00f6ff"/>
<polygon points="640.6,311.7 648.8,312.9 649.0,323.1 640.8,321.9" fill="#009cff"/>
<polygon points="640.8,321.9 649.0,323.1 649.1,333.4 641.0,332.2" fill="#0014ff"/>
<polygon points="641.0,332.2 649.1,333.4 649.3,343.7 641.1,342.4" fill="#0000e9"/>
<polygon points="648.0,261.5 656.1,262.1 656.3,272.4 648.2,271.8" fill="#ebff09"/>
<polygon points="648.2,271.8 656.3,272.4 656.4,282.7 648.3,282.0" fill="#9cff2c"/>
<polygon points="648.3,282.0 656.4,282.7 656.6,292.9 648.5,292.3" fill="#26ff73"/>
<polygon points="648.5,292.3 656.6,292.9 656.7,303.2 648.6,302.6" fill="#00ffc6"/>
<polygon points="648.6,302.6 656.7,303.2 656.9,313.5 648.8,312.9" fill="#00d4ff"/>
<polygon points="648.8,312.9 656.9,313.5 657.1,323.7 649.0,323.1" fill="#0063ff"/>
<polygon points="649.0,323.1 657.1,323.7 657.2,334.0 649.1,333.4" fill="#0000fd"/>
<polygon points="649.1,333.4 657.2,334.0 657.4,344.3 649.3,343.7" fill="#0000df"/>
<polygon points="656.1,262.1 664.3,262.7 664.5,273.0 656.3,272.4" fill="#ffe000"/>
<polygon points="656.3,272.4 664.5,273.0 664.6,283.3 656.4,282.7" fill="#bcff1e"/>
<polygon points="656.4,282.7 664.6,283.3 664.8,293.5 656.6,292.9" fill="#3cff64"/>
<polygon points="656.6,292.9 664.8,293.5 664.9,303.8 656.7,303.2" fill="#00ffab"/>
<polygon points="656.7,303.2 664.9,303.8 665.1,314.1 656.9,313.5" fill="#00d4ff"/>
<polygon points="656.9,313.5 665.1,314.1 665.2,324.3 657.1,323.7" fill="#0058ff"/>
<polygon points="657.1,323.7 665.2,324.3 665.4,334.6 657.2,334.0" fill="#0000fd"/>
<polygon points="657.2,334.0 665.4,334.6 665.6,344.9 657.4,344.3" fill="#0000d5"/>
<polygon points="664.3,262.7 672.5,263.4 672.7,273.6 664.5,273.0" fill="#ffbe00"/>
<polygon points="664.5,273.0 672.7,273.6 672.8,283.9 664.6,283.3" fill="#ebff09"/>
<polygon points="664.6,283.3 672.8,283.9 673.0,294.2 664.8,293.5" fill="#68ff46"/>
<polygon points="664.8,293.5 673.0,294.2 673.1,304.4 664.9,303.8" fill="#00ff9d"/>
<polygon points="664.9,303.8 673.1,304.4 673.3,314.7 665.1,314.1" fill="#00ebff"/>
<polygon points="665.1,314.1 673.3,314.7 673.4,325.0 665.2,324.3" fill="#006eff"/>
<polygon points="665.2,324.3 673.4,325.0 673.6,335.2 665.4,334.6" fill="#0000fd"/>
<polygon points="665.4,334.6 673.6,335.2 673.8,345.5 665.6,344.9" fill="#0000d5"/>
<polygon points="672.5,263.4 681.3,264.0 681.5,274.2 672.7,273.6" fill="#ff9100"/>
<polygon points="672.7,273.6 681.5,274.2 681.6,284.5 672.8,283.9" fill="#fff700"/>
<polygon points="672.8,283.9 681.6,284.5 681.8,294.8 673.0,294.2" fill="#7dff3a"/>
<polygon points="673.0,294.2 681.8,294.8 681.9,305.0 673.1,304.4" fill="#00ff9d"/>
<polygon points="673.1,304.4 681.9,305.0 682.1,315.3 673.3,314.7" fill="#00f6ff"/>
<polygon points="673.3,314.7 682.1,315.3 682.2,325.6 673.4,325.0" fill="#007aff"/>
<polygon points="673.4,325.0 682.2,325.6 682.4,335.9 673.6,335.2" fill="#0000fd"/>
<polygon points="673.6,335.2 682.4,335.9 682.5,346.1 673.8,345.5" fill="#0000cb"/>
<polygon points="681.3,264.0 689.4,264.5 689.6,274.8 681.5,274.2" fill="#ff9c00"/>
<polygon points="681.5,274.2 689.6,274.8 689.7,285.1 681.6,284.5" fill="#ffeb00"/>
<polygon points="681.6,284.5 689.7,285.1 689.9,295.3 681.8,294.8" fill="#9cff2c"/>
<polygon points="681.8,294.8 689.9,295.3 690.0,305.6 681.9,305.0" fill="#10ff82"/>
<polygon points="681.9,305.0 690.0,305.6 690.2,315.9 682.1,315.3" fill="#00fffc"/>
<polygon points="682.1,315.3 690.2,315.9 690.3,326.2 682.2,325.6" fill="#0085ff"/>
<polygon points="682.2,325.6 690.3,326.2 690.5,336.4 682.4,335.9" fill="#0008ff"/>
<polygon points="682.4,335.9 690.5,336.4 690.6,346.7 682.5,346.1" fill="#0000cb"/>
<polygon points="689.4,264.5 697.6,265.0 697.8,275.3 689.6,274.8" fill="#ffb300"/>
<polygon points="689.6,274.8 697.8,275.3 697.9,285.6 689.7,285.1" fill="#fff700"/>
<polygon points="689.7,285.1 697.9,285.6 698.0,295.9 689.9,295.3" fill="#9cff2c"/>
<polygon points="689.9,295.3 698.0,295.9 698.2,306.2 690.0,305.6" fill="#10ff82"/>
<polygon points="690.0,305.6 698.2,306.2 698.4,316.5 690.2,315.9" fill="#00fffc"/>
<polygon points="690.2,315.9 698.4,316.5 698.5,326.7 690.3,326.2" fill="#0085ff"/>
<polygon points="690.3,326.2 698.5,326.7 698.6,337.0 690.5,336.4" fill="#0008ff"/>
<polygon points="690.5,336.4 698.6,337.0 698.8,347.3 690.6,346.7" fill="#0000cb"/>
<polygon points="697.6,265.0 706.0,265.6 706.1,275.9 697.8,275.3" fill="#ff9c00"/>
<polygon points="697.8,275.3 706.1,275.9 706.3,286.2 697.9,285.6" fill="#fff700"/>
<polygon points="697.9,285.6 706.3,286.2 706.4,296.5 698.0,295.9" fill="#9cff2c"/>
<polygon points="698.0,295.9 706.4,296.5 706.6,306.8 698.2,306.2" fill="#00ffab"/>
<polygon points="698.2,306.2 706.6,306.8 706.7,317.1 698.4,316.5" fill="#00ebff"/>
<polygon points="698.4,316.5 706.7,317.1 706.9,327.4 698.5,326.7" fill="#0063ff"/>
<polygon points="698.5,326.7 706.9,327.4 707.0,337.7 698.6,337.0" fill="#0000fd"/>
<polygon points="698.6,337.0 707.0,337.7 707.2,348.0 698.8,347.3" fill="#0000c1"/>
<polygon points="706.0,265.6 714.2,266.2 714.3,276.5 706.1,275.9" fill="#ffbe00"/>
<polygon points="706.1,275.9 714.3,276.5 714.5,286.8 706.3,286.2" fill="#fbff02"/>
<polygon points="706.3,286.2 714.5,286.8 714.6,297.1 706.4,296.5" fill="#7dff3a"/>
<polygon points="706.4,296.5 714.6,297.1 714.8,307.4 706.6,306.8" fill="#00ffc6"/>
<polygon points="706.6,306.8 714.8,307.4 714.9,317.7 706.7,317.1" fill="#00c9ff"/>
<polygon points="706.7,317.1 714.9,317.7 715.1,328.0 706.9,327.4" fill="#0036ff"/>
<polygon points="706.9,327.4 715.1,328.0 715.2,338.3 707.0,337.7" fill="#0000e9"/>
<polygon points="707.0,337.7 715.2,338.3 715.4,348.6 707.2,348.0" fill="#0000b7"/>
<polygon points="714.2,266.2 722.3,266.8 722.4,277.1 714.3,276.5" fill="#ffe000"/>
<polygon points="714.3,276.5 722.4,277.1 722.6,287.4 714.5,286.8" fill="#bcff1e"/>
<polygon points="714.5,286.8 722.6,287.4 722.7,297.7 714.6,297.1" fill="#26ff73"/>
<polygon points="714.6,297.1 722.7,297.7 722.9,308.0 714.8,307.4" fill="#00f6ff"/>
<polygon points="714.8,307.4 722.9,308.0 723.0,318.3 714.9,317.7" fill="#0085ff"/>
<polygon points="714.9,317.7 723.0,318.3 723.2,328.6 715.1,328.0" fill="#0000fd"/>
<polygon points="715.1,328.0 723.2,328.6 723.3,339.0 715.2,338.3" fill="#0000cb"/>
<polygon points="715.2,338.3 723.3,339.0 723.4,349.3 715.4,348.6" fill="#0000ad"/>
<polygon points="722.3,266.8 730.5,267.9 730.6,278.2 722.4,277.1" fill="#bcff1e"/>
<polygon points="722.4,277.1 730.6,278.2 730.8,288.5 722.6,287.4" fill="#3cff64"/>
<polygon points="722.6,287.4 730.8,288.5 730.9,298.7 722.7,297.7" fill="#00ffd3"/>
<polygon points="722.7,297.7 730.9,298.7 731.1,309.0 722.9,308.0" fill="#0090ff"/>
<polygon points="722.9,308.0 731.1,309.0 731.2,319.3 723.0,318.3" fill="#0008ff"/>
<polygon points="723.0,318.3 731.2,319.3 731.4,329.6 723.2,328.6" fill="#0000c1"/>
<polygon points="723.2,328.6 731.4,329.6 731.5,339.9 723.3,339.0" fill="#0000ad"/>
<polygon points="723.3,339.0 731.5,339.9 731.6,350.1 723.4,349.3" fill="#0000a3"/>
<polygon points="730.5,267.9 738.6,269.0 738.7,279.2 730.6,278.2" fill="#26ff73"/>
<polygon points="730.6,278.2 738.7,279.2 738.9,289.5 730.8,288.5" fill="#00ffd3"/>
<polygon points="730.8,288.5 738.9,289.5 739.0,299.8 730.9,298.7" fill="#00beff"/>
<polygon points="730.9,298.7 739.0,299.8 739.2,310.0 731.1,309.0" fill="#001fff"/>
<polygon points="731.1,309.0 739.2,310.0 739.3,320.3 731.2,319.3" fill="#0000cb"/>
<polygon points="731.2,319.3 739.3,320.3 739.4,330.6 731.4,329.6" fill="#0000ad"/>
<polygon points="731.4,329.6 739.4,330.6 739.6,340.9 731.5,339.9" fill="#0000a3"/>
<polygon points="731.5,339.9 739.6,340.9 739.7,351.1 731.6,350.1" fill="#000099"/>
<polygon points="738.6,269.0 746.8,270.0 746.9,280.3 738.7,279.2" fill="#00f6ff"/>
<polygon points="738.7,279.2 746.9,280.3 747.1,290.6 738.9,289.5" fill="#009cff"/>
<polygon points="738.9,289.5 747.1,290.6 747.2,300.8 739.0,299.8" fill="#002aff"/>
<polygon points="739.0,299.8 747.2,300.8 747.3,311.1 739.2,310.0" fill="#0000cb"/>
<polygon points="739.2,310.0 747.3,311.1 747.5,321.3 739.3,320.3" fill="#0000ad"/>
<polygon points="739.3,320.3 747.5,321.3 747.6,331.6 739.4,330.6" fill="#0000a3"/>
<polygon points="739.4,330.6 747.6,331.6 747.8,341.9 739.6,340.9" fill="#000099"/>
<polygon points="739.6,340.9 747.8,341.9 747.9,352.1 739.7,351.1" fill="#000099"/>
<polygon points="746.8,270.0 755.0,271.1 755.1,281.4 746.9,280.3" fill="#0085ff"/>
<polygon points="746.9,280.3 755.1,281.4 755.3,291.6 747.1,290.6" fill="#0036ff"/>
<polygon points="747.1,290.6 755.3,291.6 755.4,301.9 747.2,300.8" fill="#0000e9"/>
<polygon points="747.2,300.8 755.4,301.9 755.5,312.1 747.3,311.1" fill="#0000b7"/>
<polygon points="747.3,311.1 755.5,312.1 755.7,322.4 747.5,321.3" fill="#0000a3"/>
<polygon points="747.5,321.3 755.7,322.4 755.8,332.6 747.6,331.6" fill="#000099"/>
<polygon points="747.6,331.6 755.8,332.6 755.9,342.9 747.8,341.9" fill="#000099"/>
<polygon points="747.8,341.9 755.9,342.9 756.1,353.1 747.9,352.1" fill="#00008f"/>
<polygon points="755.0,271.1 763.1,272.2 763.2,282.4 755.1,281.4" fill="#001fff"/>
<polygon points="755.1,281.4 763.2,282.4 763.4,292.7 755.3,291.6" fill="#0000f3"/>
<polygon points="755.3,291.6 763.4,292.7 763.5,302.9 755.4,301.9" fill="#0000c1"/>
<polygon points="755.4,301.9 763.5,302.9 763.6,313.2 755.5,312.1" fill="#0000ad"/>
<polygon points="755.5,312.1 763.6,313.2 763.8,323.4 755.7,322.4" fill="#000099"/>
<polygon points="755.7,322.4 763.8,323.4 763.9,333.7 755.8,332.6" fill="#00008f"/>
<polygon points="755.8,332.6 763.9,333.7 764.0,343.9 755.9,342.9" fill="#00008f"/>
<polygon points="755.9,342.9 764.0,343.9 764.2,354.2 756.1,353.1" fill="#00008f"/>
<polygon points="763.1,272.2 771.3,273.4 771.4,283.6 763.2,282.4" fill="#0000e9"/>
<polygon points="763.2,282.4 771.4,283.6 771.6,293.9 763.4,292.7" fill="#0000cb"/>
<polygon points="763.4,292.7 771.6,293.9 771.7,304.1 763.5,302.9" fill="#0000ad"/>
<polygon points="763.5,302.9 771.7,304.1 771.8,314.4 763.6,313.2" fill="#0000a3"/>
<polygon points="763.6,313.2 771.8,314.4 772.0,324.6 763.8,323.4" fill="#000099"/>
<polygon points="763.8,323.4 772.0,324.6 772.1,334.9 763.9,333.7" fill="#00008f"/>
<polygon points="763.9,333.7 772.1,334.9 772.2,345.1 764.0,343.9" fill="#00008f"/>
<polygon points="764.0,343.9 772.2,345.1 772.3,355.4 764.2,354.2" fill="#00008f"/>
<polygon points="771.3,273.4 779.4,274.6 779.5,284.8 771.4,283.6" fill="#0000cb"/>
<polygon points="771.4,283.6 779.5,284.8 779.7,295.1 771.6,293.9" fill="#0000b7"/>
<polygon points="771.6,293.9 779.7,295.1 779.8,305.3 771.7,304.1" fill="#0000a3"/>
<polygon points="771.7,304.1 779.8,305.3 779.9,315.6 771.8,314.4" fill="#000099"/>
<polygon points="771.8,314.4 779.9,315.6 780.0,325.8 772.0,324.6" fill="#00008f"/>
<polygon points="772.0,324.6 780.0,325.8 780.2,336.1 772.1,334.9" fill="#00008f"/>
<polygon points="772.1,334.9 780.2,336.1 780.3,346.3 772.2,345.1" fill="#00008f"/>
<polygon points="772.2,345.1 780.3,346.3 780.4,356.6 772.3,355.4" fill="#00008f"/>
<polygon points="779.4,274.6 787.6,275.8 787.7,286.0 779.5,284.8" fill="#0000b7"/>
<polygon points="779.5,284.8 787.7,286.0 787.9,296.3 779.7,295.1" fill="#0000ad"/>
<polygon points="779.7,295.1 787.9,296.3 788.0,306.5 779.8,305.3" fill="#000099"/>
<polygon points="779.8,305.3 788.0,306.5 788.1,316.8 779.9,315.6" fill="#00008f"/>
<polygon points="779.9,315.6 788.1,316.8 788.2,327.0 780.0,325.8" fill="#00008f"/>
<polygon points="780.0,325.8 788.2,327.0 788.4,337.3 780.2,336.1" fill="#00008f"/>
<polygon points="780.2,336.1 788.4,337.3 788.5,347.6 780.3,346.3" fill="#00008f"/>
<polygon points="780.3,346.3 788.5,347.6 788.6,357.8 780.4,356.6" fill="#00008f"/>
<polygon points="787.6,275.8 795.5,276.9 795.6,287.2 787.7,286.0" fill="#0000ad"/>
<polygon points="787.7,286.0 795.6,287.2 795.8,297.4 787.9,296.3" fill="#0000a3"/>
<polygon points="787.9,296.3 795.8,297.4 795.9,307.7 788.0,306.5" fill="#000099"/>
<polygon points="788.0,306.5 795.9,307.7 796.0,317.9 788.1,316.8" fill="#00008f"/>
<polygon points="788.1,316.8 796.0,317.9 796.1,328.2 788.2,327.0" fill="#00008f"/>
<polygon points="788.2,327.0 796.1,328.2 796.2,338.5 788.4,337.3" fill="#00008f"/>
<polygon points="788.4,337.3 796.2,338.5 796.4,348.7 788.5,347.6" fill="#00008f"/>
<polygon points="788.5,347.6 796.4,348.7 796.5,359.0 788.6,357.8" fill="#00008f"/>
<polygon points="478.5,269.8 483.5,267.8 484.0,277.9 479.0,279.9" fill="#004dff"/>
<polygon points="479.0,279.9 484.0,277.9 484.5,288.1 479.4,290.1" fill="#0036ff"/>
<polygon points="479.4,290.1 484.5,288.1 485.0,298.2 479.9,300.2" fill="#001fff"/>
<polygon points="479.9,300.2 485.0,298.2 485.5,308.4 480.4,310.3" fill="#0014ff"/>
<polygon points="480.4,310.3 485.5,308.4 486.0,318.5 480.9,320.4" fill="#0008ff"/>
<polygon points="480.9,320.4 486.0,318.5 486.5,328.7 481.4,330.6" fill="#0000fd"/>
<polygon points="481.4,330.6 486.5,328.7 486.9,338.8 481.8,340.7" fill="#0000f3"/>
<polygon points="481.8,340.7 486.9,338.8 487.4,349.0 482.3,350.8" fill="#0000e9"/>
<polygon points="483.5,267.8 488.5,265.8 489.0,275.9 484.0,277.9" fill="#0008ff"/>
<polygon points="484.0,277.9 489.0,275.9 489.6,286.1 484.5,288.1" fill="#0000fd"/>
<polygon points="484.5,288.1 489.6,286.1 490.1,296.3 485.0,298.2" fill="#0000f3"/>
<polygon points="485.0,298.2 490.1,296.3 490.6,306.5 485.5,308.4" fill="#0000e9"/>
<polygon points="485.5,308.4 490.6,306.5 491.1,316.6 486.0,318.5" fill="#0000e4"/>
<polygon points="486.0,318.5 491.1,316.6 491.6,326.8 486.5,328.7" fill="#0000df"/>
<polygon points="486.5,328.7 491.6,326.8 492.1,337.0 486.9,338.8" fill="#0000da"/>
<polygon points="486.9,338.8 492.1,337.0 492.6,347.2 487.4,349.0" fill="#0000d5"/>
<polygon points="488.5,265.8 493.6,263.7 494.1,273.9 489.0,275.9" fill="#0000df"/>
<polygon points="489.0,275.9 494.1,273.9 494.6,284.1 489.6,286.1" fill="#0000da"/>
<polygon points="489.6,286.1 494.6,284.1 495.1,294.3 490.1,296.3" fill="#0000d5"/>
<polygon points="490.1,296.3 495.1,294.3 495.6,304.5 490.6,306.5" fill="#0000d0"/>
<polygon points="490.6,306.5 495.6,304.5 496.2,314.7 491.1,316.6" fill="#0000cb"/>
<polygon points="491.1,316.6 496.2,314.7 496.7,324.9 491.6,326.8" fill="#0000cb"/>
<polygon points="491.6,326.8 496.7,324.9 497.2,335.1 492.1,337.0" fill="#0000c6"/>
<polygon points="492.1,337.0 497.2,335.1 497.7,345.3 492.6,347.2" fill="#0000c6"/>
<polygon points="493.6,263.7 498.6,261.7 499.1,271.9 494.1,273.9" fill="#0000d5"/>
<polygon points="494.1,273.9 499.1,271.9 499.7,282.2 494.6,284.1" fill="#0000d5"/>
<polygon points="494.6,284.1 499.7,282.2 500.2,292.4 495.1,294.3" fill="#0000d0"/>
<polygon points="495.1,294.3 500.2,292.4 500.7,302.6 495.6,304.5" fill="#0000cb"/>
<polygon points="495.6,304.5 500.7,302.6 501.3,312.8 496.2,314.7" fill="#0000cb"/>
<polygon points="496.2,314.7 501.3,312.8 501.8,323.1 496.7,324.9" fill="#0000c6"/>
<polygon points="496.7,324.9 501.8,323.1 502.3,333.3 497.2,335.1" fill="#0000c6"/>
<polygon points="497.2,335.1 502.3,333.3 502.9,343.5 497.7,345.3" fill="#0000c1"/>
<polygon points="498.6,261.7 503.6,259.7 504.2,269.9 499.1,271.9" fill="#0014ff"/>
<polygon points="499.1,271.9 504.2,269.9 504.7,280.2 499.7,282.2" fill="#001fff"/>
<polygon points="499.7,282.2 504.7,280.2 505.2,290.4 500.2,292.4" fill="#0014ff"/>
<polygon points="500.2,292.4 505.2,290.4 505.8,300.7 500.7,302.6" fill="#0008ff"/>
<polygon points="500.7,302.6 505.8,300.7 506.4,310.9 501.3,312.8" fill="#0000fd"/>
<polygon points="501.3,312.8 506.4,310.9 506.9,321.2 501.8,323.1" fill="#0000f3"/>
<polygon points="501.8,323.1 506.9,321.2 507.4,331.4 502.3,333.3" fill="#0000e9"/>
<polygon points="502.3,333.3 507.4,331.4 508.0,341.7 502.9,343.5" fill="#0000e4"/>
</g>
<g stroke="#333" stroke-width="0.8" fill="none">
<path d="M398.5 175.0L577.9 220.9"/>
<path d="M600.9 227.4L662.9 231.7"/>
<path d="M227.2 408.0L436.2 359.1"/>
<path d="M450.4 358.1L620.2 354.2"/>
<path d="M651.1 355.5L793.3 373.0"/>
</g>
<g font-family="Liberation Sans, sans-serif" fill="#231815" text-anchor="middle">
<text font-size="19.3" transform="translate(499.6,192.3) rotate(16) skewX(-8)">S4</text>
<text font-size="19.3" x="632.4" y="222.8">S5</text>
<text font-size="18.5" transform="translate(353.8,405.2) rotate(-14)">S1</text>
<text font-size="21" x="539.9" y="382.7">S2</text>
<text font-size="21.5" x="714.5" y="389.5">S3</text>
</g>
<text font-family="Liberation Sans, sans-serif" font-size="25" fill="#231815" x="16.5" y="271.5" textLength="117">Depth(km)</text>
<text font-family="Liberation Sans, sans-serif" font-size="23" fill="#231815" transform="matrix(0.991,0.1305,-0.2,0.98,332.6,540.6)" textLength="130.5" lengthAdjust="spacingAndGlyphs">longitude(°)</text>
<text font-family="Liberation Sans, sans-serif" font-size="23" fill="#231815" transform="translate(869.6,483.6) rotate(-45.8)" textLength="108.5" lengthAdjust="spacingAndGlyphs">latitude(°)</text>
<text font-family="Liberation Sans, sans-serif" font-size="22" fill="#231815" x="23" y="31" textLength="34.5">(a)</text>
<text font-family="Liberation Sans, sans-serif" font-size="22" fill="#231815" x="23" y="581" textLength="34.5">(b)</text>
<rect x="954.7" y="167" width="19.6" height="89.4" fill="url(#cba)"/>
<g font-family="DejaVu Sans, sans-serif" fill="#262626"><text x="940.5" y="141.4" font-size="25.6">Slip (m)</text><text x="982" y="177.8" font-size="25.5">9</text><text x="982" y="265.2" font-size="25.5">0</text></g>
<text font-family="Liberation Sans, sans-serif" font-size="22.7" fill="#231815" x="72.5" y="625.5" textLength="286" lengthAdjust="spacingAndGlyphs">Distance along strike(km)</text>
<text font-family="Liberation Sans, sans-serif" font-size="23.5" fill="#231815" transform="translate(31,738) rotate(-90)" textLength="118" lengthAdjust="spacingAndGlyphs">Depth(km)</text>
<g clip-path="url(#cS1)"><g filter="url(#jet)"><rect x="55" y="649" width="871" height="194" fill="#000"/><g stroke-width="9" fill="none" shape-rendering="crispEdges"><path stroke="#020202" d="M639 837h16M639 845h16"/><path stroke="#030303" d="M647 789h8M639 797h16M639 805h16M631 813h32M615 821h48M607 829h64M599 837h40M655 837h24M599 845h40M655 845h24"/><path stroke="#040404" d="M639 773h32M639 781h32M631 789h16M655 789h16M623 797h16M655 797h8M615 805h24M655 805h8M607 813h24M663 813h8M599 821h16M663 821h16M591 829h16M671 829h24M591 837h8M679 837h16M591 845h8M679 845h16"/><path stroke="#050505" d="M639 765h32M631 773h8M671 773h8M623 781h16M671 781h8M615 789h16M671 789h8M607 797h16M663 797h16M599 805h16M663 805h16M591 813h16M671 813h16M591 821h8M679 821h16M359 829h8M583 829h8M695 829h8M351 837h16M583 837h8M695 837h8M351 845h16M583 845h8M695 845h8"/><path stroke="#060606" d="M647 757h24M631 765h8M671 765h8M623 773h8M615 781h8M607 789h8M599 797h8M591 805h8M679 805h8M687 813h8M583 821h8M695 821h8M351 829h8M367 829h8M575 829h8M703 829h8M343 837h8M367 837h8M575 837h8M703 837h8M343 845h8M367 845h8M575 845h8M703 845h8"/><path stroke="#070707" d="M647 749h24M639 757h8M671 757h8M623 765h8M615 773h8M599 781h16M679 781h8M599 789h8M679 789h8M591 797h8M679 797h8M687 805h8M583 813h8M695 813h8M351 821h24M575 821h8M343 829h8M375 829h8M375 837h8M375 845h8"/><path stroke="#080808" d="M639 749h8M671 749h8M631 757h8M615 765h8M607 773h8M679 773h8M591 789h8M687 797h8M583 805h8M351 813h16M343 821h8M703 821h8M335 829h8M567 829h8M335 837h8M567 837h8M711 837h8M335 845h8M567 845h8M711 845h8"/><path stroke="#090909" d="M623 757h8M607 765h8M679 765h8M599 773h8M591 781h8M687 789h8M583 797h8M695 805h8M367 813h8M575 813h8M375 821h8M567 821h8M559 829h8M711 829h8M327 837h8M559 837h8M327 845h8M559 845h8"/><path stroke="#0a0a0a" d="M647 741h24M631 749h8M615 757h8M679 757h8M591 773h8M687 781h8M583 789h8M695 797h8M351 805h16M575 805h8M343 813h8M375 813h8M567 813h8M703 813h8M335 821h8M327 829h8M383 829h8M551 829h8M383 837h8M551 837h8M383 845h8M551 845h8"/><path stroke="#0b0b0b" d="M639 741h8M671 741h8M623 749h8M607 757h8M599 765h8M687 773h8M583 781h8M695 789h8M575 797h8M367 805h8M335 813h8M327 821h8M559 821h8M711 821h8M319 829h8M719 829h8M319 837h8M719 837h8M319 845h8M719 845h8"/><path stroke="#0c0c0c" d="M679 749h8M591 765h8M687 765h8M575 789h8M343 805h8M375 805h8M567 805h8M703 805h8M559 813h8M383 821h8M551 821h8M543 829h8M543 837h8M543 845h8"/><path stroke="#0d0d0d" d="M663 733h8M631 741h8M615 749h8M599 757h8M583 773h8M695 781h8M351 797h16M567 797h8M327 813h8M319 821h8M311 829h8M311 837h8M727 837h8M311 845h8M727 845h8"/><path stroke="#0e0e0e" d="M647 733h16M607 749h8M687 757h8M575 781h8M367 797h8M335 805h8M559 805h8M383 813h8M551 813h8M711 813h8M543 821h8M535 829h8M727 829h8M303 837h8M535 837h8M303 845h8M535 845h8"/><path stroke="#0f0f0f" d="M671 733h8M623 741h8M679 741h8M591 757h8M583 765h8M695 773h8M567 789h8M343 797h8M703 797h8M319 813h8M311 821h8M719 821h8M303 829h8M391 837h8M735 837h8M391 845h8M735 845h8"/><path stroke="#101010" d="M639 733h8M599 749h8M687 749h8M575 773h8M375 797h8M559 797h8M327 805h8M551 805h8M543 813h8M535 821h8M295 829h8M391 829h8M735 829h8M295 837h8M527 837h8M295 845h8M527 845h8"/><path stroke="#111111" d="M55 653h64M55 661h64M55 669h64M55 677h64M55 685h64M55 693h56M615 741h8M695 765h8M567 781h8M383 805h8M311 813h8M303 821h8M527 829h8M743 837h8M743 845h8"/><path stroke="#121212" d="M119 653h8M119 661h8M119 669h8M119 677h8M119 685h8M111 693h16M55 701h64M655 725h16M631 733h8M591 749h8M583 757h8M575 765h8M351 789h24M559 789h8M703 789h8M335 797h8M551 797h8M319 805h8M543 805h8M711 805h8M295 821h8M391 821h8M727 821h8M287 829h8M743 829h8M855 829h72M287 837h8M847 837h80M287 845h8M847 845h80"/><path stroke="#131313" d="M127 653h8M127 661h8M127 669h8M127 677h8M127 685h8M127 693h8M119 701h8M55 709h72M647 725h8M671 725h8M679 733h8M607 741h8M695 757h8M567 773h8M559 781h8M303 813h8M535 813h8M719 813h8M527 821h8M839 829h16M519 837h8M751 837h8M831 837h16M519 845h8M751 845h8M831 845h16"/><path stroke="#141414" d="M135 653h8M135 661h8M135 669h8M135 677h8M135 685h8M135 693h8M127 701h8M127 709h8M55 717h72M623 733h8M599 741h8M687 741h8M375 789h8M551 789h8M327 797h8M383 797h8M311 805h8M287 821h8M855 821h72M279 829h8M519 829h8M751 829h8M831 829h8M279 837h8M759 837h24M823 837h8M279 845h8M759 845h24M823 845h8"/><path stroke="#151515" d="M143 653h8M143 661h8M143 669h8M143 677h8M143 685h8M135 701h8M135 709h8M127 717h8M111 725h8M639 725h8M583 749h8M575 757h8M703 781h8M343 789h8M543 797h8M303 805h8M295 813h8M391 813h8M735 821h8M847 821h8M263 829h16M759 829h24M815 829h16M255 837h24M399 837h8M783 837h40M255 845h24M399 845h8M783 845h40"/><path stroke="#161616" d="M143 693h8M143 701h8M143 709h8M135 717h8M55 725h56M119 725h16M615 733h8M695 749h8M567 765h8M559 773h8M359 781h8M551 781h8M319 797h8M711 797h8M535 805h8M287 813h8M863 813h64M279 821h8M839 821h8M247 829h16M399 829h8M511 829h8M783 829h32M239 837h16M511 837h8M239 845h16M511 845h8"/><path stroke="#171717" d="M151 653h8M151 661h8M151 669h8M151 677h8M151 685h8M151 693h8M151 701h8M151 709h8M143 717h8M135 725h8M103 733h24M591 741h8M351 781h8M367 781h8M335 789h8M543 789h8M295 805h8M527 813h8M727 813h8M855 813h8M263 821h16M519 821h8M831 821h8M167 829h80M159 837h80M159 845h80"/><path stroke="#181818" d="M159 653h8M159 661h8M159 669h8M159 677h8M159 685h8M159 693h8M159 701h8M159 709h8M151 717h8M663 717h8M143 725h8M631 725h8M679 725h8M55 733h48M127 733h16M703 773h8M375 781h8M311 797h8M535 797h8M719 805h8M279 813h8M847 813h8M159 821h56M231 821h32M743 821h8M823 821h8M143 829h24M143 837h16M503 837h8M143 845h16M503 845h8"/><path stroke="#191919" d="M159 717h8M655 717h8M671 717h8M151 725h16M143 733h8M607 733h8M103 741h32M575 749h8M567 757h8M559 765h8M551 773h8M543 781h8M383 789h8M303 797h8M287 805h8M391 805h8M855 805h72M151 813h56M263 813h16M143 821h16M215 821h16M399 821h8M815 821h8M127 829h16M503 829h8M127 837h16M127 845h16"/><path stroke="#1a1a1a" d="M167 677h8M167 685h8M167 693h8M167 701h8M167 709h8M167 717h8M623 725h8M151 733h16M687 733h8M79 741h24M135 741h16M583 741h8M119 749h8M703 765h8M343 781h8M327 789h8M167 797h8M863 797h64M151 805h48M527 805h8M135 813h16M207 813h56M839 813h8M119 821h24M511 821h8M751 821h8M807 821h8M111 829h16M111 837h16M407 837h8M111 845h16M407 845h8"/><path stroke="#1b1b1b" d="M167 653h8M167 661h8M167 669h8M647 717h8M167 725h8M167 733h8M599 733h8M55 741h24M151 741h16M695 741h8M111 749h8M127 749h32M359 773h8M159 789h16M319 789h8M535 789h8M711 789h8M863 789h64M143 797h24M175 797h16M295 797h8M855 797h8M135 805h16M199 805h16M279 805h8M847 805h8M119 813h16M519 813h8M735 813h8M831 813h8M111 821h8M759 821h48M95 829h16M407 829h8M95 837h16M495 837h8M95 845h16M495 845h8"/><path stroke="#1c1c1c" d="M167 741h8M103 749h8M159 749h8M567 749h8M119 757h48M559 757h8M551 765h8M351 773h8M367 773h8M543 773h8M159 781h24M863 781h64M143 789h16M175 789h16M855 789h8M127 797h16M191 797h16M119 805h16M215 805h64M111 813h8M95 821h16M79 829h16M495 829h8M79 837h16M79 845h16"/><path stroke="#1d1d1d" d="M175 717h8M639 717h8M615 725h8M87 749h16M167 749h8M111 757h8M167 757h8M703 757h8M127 765h48M143 773h40M375 773h8M863 773h64M135 781h24M335 781h8M383 781h8M855 781h8M127 789h16M191 789h8M311 789h8M119 797h8M207 797h8M287 797h8M391 797h8M527 797h8M719 797h8M847 797h8M111 805h8M727 805h8M839 805h8M103 813h8M823 813h8M87 821h8M503 821h8M55 829h24M55 837h24M55 845h24"/><path stroke="#1e1e1e" d="M175 701h8M175 709h8M175 725h8M175 733h8M591 733h8M175 741h8M575 741h8M55 749h32M175 749h8M175 757h8M863 757h8M119 765h8M175 765h8M863 765h64M127 773h16M855 773h8M127 781h8M183 781h8M535 781h8M119 789h8M199 789h8M303 789h8M847 789h8M111 797h8M215 797h32M279 797h8M103 805h8M95 813h8M399 813h8M815 813h8M79 821h8M487 837h8M487 845h8"/><path stroke="#1f1f1f" d="M175 685h8M175 693h8M631 717h8M679 717h8M607 725h8M863 749h8M103 757h8M855 757h8M871 757h32M111 765h8M359 765h8M855 765h8M119 773h8M183 773h8M343 773h8M119 781h8M191 781h8M327 781h8M711 781h8M847 781h8M207 789h8M247 797h32M839 797h8M519 805h8M831 805h8M87 813h8M511 813h8M743 813h8M55 821h24M487 829h8M415 837h8M479 837h8M415 845h8M479 845h8"/><path stroke="#202020" d="M175 677h8M687 725h8M559 749h8M855 749h8M871 749h16M183 757h8M551 757h8M903 757h24M183 765h8M351 765h8M367 765h8M543 765h8M191 773h8M847 773h8M199 781h8M111 789h8M215 789h16M295 789h8M527 789h8M103 797h8M95 805h8M79 813h8M807 813h8M407 821h8M415 829h8M479 829h8"/><path stroke="#212121" d="M583 733h8M695 733h8M183 741h8M863 741h16M183 749h8M703 749h8M887 749h24M95 757h8M191 765h8M847 765h8M111 773h8M199 773h8M535 773h8M111 781h8M207 781h8M319 781h8M231 789h16M287 789h8M391 789h8M839 789h8M87 805h8M823 805h8M55 813h24M783 813h24M495 821h8M471 837h8M471 845h8"/><path stroke="#222222" d="M175 653h8M175 661h8M175 669h8M183 717h8M623 717h8M183 725h8M599 725h8M183 733h8M567 741h8M855 741h8M879 741h8M911 749h16M55 757h40M847 757h8M103 765h8M375 765h8M335 773h8M383 773h8M215 781h8M311 781h8M839 781h8M103 789h8M247 789h16M279 789h8M95 797h8M519 797h8M831 797h8M79 805h8M399 805h8M735 805h8M751 813h8M767 813h16M471 829h8M423 837h8M463 837h8M423 845h8M463 845h8"/><path stroke="#232323" d="M183 709h8M855 733h16M887 741h16M847 749h8M191 757h8M199 765h8M343 765h8M207 773h8M223 781h8M303 781h8M527 781h8M263 789h16M87 797h8M727 797h8M71 805h8M511 805h8M815 805h8M503 813h8M759 813h8M423 829h8M463 829h8M455 837h8M455 845h8"/><path stroke="#242424" d="M183 701h8M663 709h16M871 733h8M847 741h8M903 741h8M191 749h8M551 749h8M351 757h16M543 757h8M535 765h8M215 773h8M711 773h8M839 773h8M103 781h8M231 781h16M295 781h8M719 789h8M831 789h8M79 797h8M823 797h8M55 805h16M487 821h8"/><path stroke="#252525" d="M183 693h8M655 709h8M615 717h8M591 725h8M855 725h16M191 733h8M575 733h8M879 733h8M191 741h8M911 741h16M199 757h8M367 757h8M95 765h8M207 765h8M839 765h8M103 773h8M327 773h8M247 781h8M287 781h8M95 789h8M519 789h8M71 797h8M807 805h8M407 813h8M415 821h8M455 829h8M431 837h8M447 837h8M431 845h8M447 845h8"/><path stroke="#262626" d="M191 725h8M871 725h8M847 733h8M887 733h8M559 741h8M703 741h8M839 749h8M839 757h8M55 765h24M223 773h16M319 773h8M527 773h8M255 781h16M279 781h8M391 781h8M831 781h8M823 789h8M55 797h16M815 797h8M743 805h8M799 805h8M495 813h8M479 821h8M431 829h8M447 829h8M439 837h8M439 845h8"/><path stroke="#272727" d="M183 685h8M647 709h8M191 717h8M687 717h8M855 717h16M847 725h8M879 725h8M895 733h8M839 741h8M199 749h8M207 757h8M375 757h8M79 765h16M215 765h8M335 765h8M383 765h8M239 773h8M311 773h8M831 773h8M271 781h8M55 789h40M399 797h8M511 797h8M791 805h8M471 821h8M439 829h8"/><path stroke="#282828" d="M191 709h8M607 717h8M695 725h8M903 733h24M199 741h8M351 749h16M543 749h8M343 757h8M535 757h8M711 765h8M831 765h8M95 773h8M247 773h8M303 773h8M95 781h8M503 805h8M775 805h16"/><path stroke="#292929" d="M183 677h8M639 709h8M679 709h8M847 717h8M871 717h8M583 725h8M887 725h8M199 733h8M567 733h8M839 733h8M831 757h8M223 765h8M55 773h24M255 773h8M295 773h8M55 781h24M87 781h8M519 781h8M823 781h8M815 789h8M735 797h8M807 797h8M751 805h8M767 805h8M423 821h8M463 821h8"/><path stroke="#2a2a2a" d="M191 701h8M199 725h8M839 725h8M895 725h8M551 741h8M207 749h8M367 749h8M831 749h8M215 757h8M231 765h8M327 765h8M527 765h8M79 773h16M263 773h8M287 773h8M391 773h8M823 773h8M79 781h8M719 781h8M799 797h8M759 805h8M487 813h8"/><path stroke="#2b2b2b" d="M855 709h16M599 717h8M879 717h8M207 741h8M351 741h16M831 741h8M711 757h8M239 765h8M319 765h8M271 773h16M399 789h8M511 789h8M727 789h8M407 805h8M415 813h8M455 821h8"/><path stroke="#2c2c2c" d="M183 669h8M191 693h8M631 709h8M847 709h8M199 717h8M839 717h8M903 725h24M703 733h8M831 733h8M215 749h8M343 749h8M375 749h8M223 757h8M335 757h8M383 757h8M823 757h8M247 765h8M311 765h8M823 765h8M519 773h8M815 781h8M807 789h8M503 797h8M791 797h8M495 805h8M479 813h8M447 821h8"/><path stroke="#2d2d2d" d="M183 653h8M183 661h8M887 717h8M575 725h8M831 725h8M207 733h8M351 733h16M559 733h8M367 741h8M535 749h8M823 749h8M231 757h8M255 765h8M295 765h16M743 797h8M783 797h8M431 821h8"/><path stroke="#2e2e2e" d="M191 685h8M199 709h8M871 709h8M591 717h8M207 725h8M359 725h8M343 741h8M543 741h8M823 741h8M239 757h8M527 757h8M263 765h8M287 765h8M815 773h8M511 781h8M799 789h8M775 797h8M471 813h8M439 821h8"/><path stroke="#2f2f2f" d="M855 701h8M623 709h8M839 709h8M695 717h8M831 717h8M895 717h8M351 725h8M367 733h8M823 733h8M215 741h8M223 749h8M711 749h8M247 757h8M327 757h8M271 765h16M391 765h8M815 765h8M807 781h8M407 797h8M767 797h8"/><path stroke="#303030" d="M199 701h8M847 701h8M863 701h8M687 709h8M879 709h8M207 717h8M823 725h8M343 733h8M375 741h8M231 749h8M335 749h8M383 749h8M255 757h8M311 757h16M815 757h8M519 765h8M719 773h8M399 781h8M503 789h8M735 789h8M791 789h8M751 797h16M487 805h8M423 813h8M463 813h8"/><path stroke="#313131" d="M663 701h16M359 717h8M903 717h8M367 725h8M567 725h8M215 733h8M223 741h8M239 749h8M815 749h8M263 757h8M303 757h8M807 773h8M799 781h8M783 789h8M495 797h8M415 805h8"/><path stroke="#323232" d="M191 677h8M199 693h8M615 709h8M831 709h8M351 717h8M583 717h8M823 717h8M911 717h16M343 725h8M375 733h8M551 733h8M815 733h8M815 741h8M527 749h8M271 757h8M287 757h16M807 765h8M511 773h8M727 781h8M455 813h8"/><path stroke="#333333" d="M855 693h8M655 701h8M839 701h8M871 701h8M207 709h8M887 709h8M215 725h8M703 725h8M231 741h8M335 741h8M535 741h8M247 749h8M327 749h8M279 757h8M391 757h8M807 757h8M775 789h8M479 805h8"/><path stroke="#343434" d="M847 693h8M679 701h8M607 709h8M367 717h8M375 725h8M815 725h8M223 733h8M335 733h8M239 741h8M383 741h8M711 741h8M255 749h8M319 749h8M807 749h8M519 757h8M399 773h8M799 773h8M503 781h8M791 781h8M407 789h8M743 789h8M431 813h8M447 813h8"/><path stroke="#353535" d="M247 653h8M247 661h8M863 693h8M831 701h8M823 709h8M895 709h8M215 717h8M343 717h8M815 717h8M559 725h8M231 733h8M807 741h8M263 749h8M303 749h16M719 765h8M799 765h8M495 789h8M767 789h8M487 797h8M471 805h8M439 813h8"/><path stroke="#363636" d="M191 669h8M199 685h8M839 693h8M207 701h8M647 701h8M879 701h8M359 709h8M575 717h8M223 725h8M335 725h8M383 733h8M543 733h8M807 733h8M247 741h8M327 741h8M271 749h8M287 749h16M799 757h8M511 765h8M783 781h8M759 789h8M415 797h8"/><path stroke="#373737" d="M847 685h16M351 709h8M599 709h8M815 709h8M375 717h8M807 725h8M239 733h8M255 741h8M319 741h8M279 749h8M391 749h8M799 749h8M791 773h8M735 781h8M751 789h8M423 805h8M463 805h8"/><path stroke="#383838" d="M839 685h8M831 693h8M639 701h8M823 701h8M215 709h8M367 709h8M695 709h8M903 709h8M807 717h8M231 725h8M383 725h8M247 733h8M327 733h8M263 741h8M303 741h16M527 741h8M799 741h8M519 749h8M399 765h8M791 765h8M503 773h8M775 781h8M479 797h8"/><path stroke="#393939" d="M191 653h8M255 653h8M191 661h8M255 661h8M839 677h16M207 693h8M871 693h8M343 709h8M911 709h16M223 717h8M335 717h8M239 725h8M327 725h8M551 725h8M255 733h8M319 733h8M799 733h8M271 741h8M287 741h16M719 757h8M791 757h8M727 773h8M783 773h8M407 781h8M455 805h8"/><path stroke="#3a3a3a" d="M239 653h8M239 661h8M247 669h8M199 677h8M831 677h8M855 677h8M831 685h8M863 685h8M823 693h8M687 701h8M815 701h8M887 701h8M591 709h8M807 709h8M567 717h8M703 717h8M799 725h8M303 733h16M535 733h8M711 733h8M279 741h8M391 741h8M791 749h8M511 757h8M495 781h8M767 781h8M415 789h8M487 789h8M471 797h8"/><path stroke="#3b3b3b" d="M831 653h16M831 661h16M831 669h16M631 701h8M375 709h8M231 717h8M383 717h8M247 725h8M319 725h8M263 733h8M295 733h8M791 741h8M399 757h8M503 765h8M783 765h8M743 781h8M423 797h8M431 805h8M447 805h8"/><path stroke="#3c3c3c" d="M255 669h8M847 669h8M207 685h8M823 685h8M879 693h8M215 701h8M359 701h8M223 709h8M335 709h8M239 717h8M327 717h8M799 717h8M255 725h8M303 725h16M271 733h24M391 733h8M783 757h8M407 773h8M775 773h8M759 781h8M479 789h8M463 797h8M439 805h8"/><path stroke="#3d3d3d" d="M239 669h8M671 693h8M815 693h8M351 701h8M367 701h8M623 701h8M807 701h8M895 701h8M383 709h8M583 709h8M247 717h8M319 717h8M263 725h8M295 725h8M543 725h8M791 733h8M519 741h8M719 749h8M783 749h8M735 773h8M751 781h8"/><path stroke="#3e3e3e" d="M847 653h8M847 661h8M199 669h8M855 669h8M823 677h8M863 677h8M871 685h8M663 693h8M343 701h8M231 709h8M799 709h8M255 717h8M311 717h8M559 717h8M271 725h24M391 725h8M791 725h8M527 733h8M399 749h8M511 749h8M727 765h8M775 765h8M495 773h8M767 773h8M415 781h8M487 781h8M471 789h8M455 797h8"/><path stroke="#3f3f3f" d="M823 653h8M823 661h8M823 669h8M247 677h8M815 685h8M215 693h8M679 693h8M375 701h8M239 709h8M327 709h8M295 717h16M391 717h8M783 741h8M503 757h8M775 757h8M407 765h8M423 789h8M447 797h8"/><path stroke="#404040" d="M263 653h8M263 661h8M207 677h8M807 693h8M887 693h8M223 701h8M335 701h8M383 701h8M615 701h8M903 701h8M247 709h8M319 709h8M575 709h8M263 717h8M287 717h8M791 717h8M711 725h8M783 733h8M399 741h8M775 749h8M767 765h8M743 773h8M463 789h8M431 797h8"/><path stroke="#414141" d="M199 653h8M855 653h8M199 661h8M855 661h8M239 677h8M255 677h8M655 693h8M695 701h8M799 701h8M255 709h8M303 709h16M391 709h8M271 717h16M535 725h8M495 765h8M735 765h8M415 773h8M759 773h8M479 781h8M455 789h8M439 797h8"/><path stroke="#424242" d="M263 669h8M815 677h8M351 693h32M231 701h8M327 701h8M607 701h8M911 701h16M263 709h8M295 709h8M703 709h8M551 717h8M783 725h8M399 733h8M519 733h8M511 741h8M719 741h8M775 741h8M503 749h8M407 757h8M727 757h8M767 757h8M487 773h8M751 773h8M423 781h8M471 781h8"/><path stroke="#434343" d="M863 669h8M215 685h8M807 685h8M879 685h8M343 693h8M383 693h8M647 693h8M239 701h16M311 701h16M391 701h8M271 709h24M791 709h8M399 725h8M767 749h8M759 765h8M463 781h8M431 789h8M447 789h8"/><path stroke="#444444" d="M231 653h8M231 661h8M207 669h8M815 669h8M871 677h8M247 685h8M223 693h8M335 693h8M391 693h8M687 693h8M799 693h8M895 693h8M255 701h8M303 701h8M567 709h8M399 717h8M783 717h8M527 725h8M775 733h8M407 749h8M495 757h8M759 757h8M415 765h8M743 765h16M455 781h8M439 789h8"/><path stroke="#454545" d="M231 669h8M263 677h8M239 685h8M255 685h8M367 685h24M671 685h8M231 693h16M327 693h8M263 701h8M287 701h16M399 701h8M599 701h8M399 709h8M543 717h8M767 741h8M735 757h8M487 765h8M423 773h8M479 773h8"/><path stroke="#464646" d="M815 653h8M815 661h8M215 677h8M231 677h8M223 685h16M351 685h16M391 685h8M247 693h16M311 693h16M399 693h8M639 693h8M271 701h16M791 701h8M711 717h8M775 725h8M511 733h8M407 741h8M503 741h8M727 749h8M759 749h8M415 757h8M743 757h16M463 773h16M431 781h8M447 781h8"/><path stroke="#474747" d="M207 653h8M863 653h8M207 661h8M863 661h8M367 677h24M807 677h8M263 685h8M335 685h16M399 685h8M663 685h8M799 685h8M887 685h8M263 693h8M295 693h16M407 693h8M591 701h8M559 709h8M519 725h8M407 733h8M719 733h8M495 749h8M423 765h8M479 765h8M455 773h8M439 781h8"/><path stroke="#484848" d="M375 669h8M343 677h24M391 677h8M319 685h16M407 685h8M679 685h8M271 693h24M631 693h8M903 693h8M407 701h8M407 709h8M783 709h8M407 717h8M407 725h8M767 733h8M759 741h8M415 749h8M735 749h8M751 749h8M423 757h8M487 757h8M463 765h16M431 773h8M447 773h8"/><path stroke="#494949" d="M215 669h8M359 669h16M383 669h8M223 677h8M335 677h8M399 677h8M271 685h8M311 685h8M415 685h8M415 693h8M791 693h8M415 701h8M535 717h8M775 717h8M415 741h8M743 749h8M479 757h8M431 765h8M455 765h8M439 773h8"/><path stroke="#4a4a4a" d="M359 653h32M359 661h32M271 669h8M343 669h16M391 669h8M807 669h8M871 669h8M271 677h8M327 677h8M407 677h8M879 677h8M295 685h16M423 685h8M655 685h8M423 693h8M695 693h8M911 693h16M423 701h8M583 701h8M703 701h8M415 709h8M511 725h8M767 725h8M415 733h8M503 733h8M495 741h8M423 749h8M487 749h8M431 757h8M463 757h16M439 765h16"/><path stroke="#4b4b4b" d="M271 653h8M343 653h16M391 653h8M271 661h8M343 661h16M391 661h8M223 669h8M327 669h16M399 669h8M319 677h8M415 677h8M279 685h16M895 685h8M431 693h8M623 693h8M783 701h8M551 709h8M415 717h8M527 717h8M415 725h8M759 733h8M423 741h8M727 741h8M751 741h8M431 749h8M439 757h24"/><path stroke="#4c4c4c" d="M215 653h16M335 653h8M399 653h8M215 661h16M335 661h8M399 661h8M407 669h8M311 677h8M423 677h8M671 677h8M799 677h8M431 685h8M687 685h8M431 701h8M575 701h8M423 709h8M423 717h8M423 725h8M423 733h8M431 741h8M735 741h16M439 749h48"/><path stroke="#4d4d4d" d="M327 653h8M407 653h8M807 653h8M327 661h8M407 661h8M807 661h8M319 669h8M415 669h8M279 677h8M303 677h8M663 677h8M647 685h8M791 685h8M615 693h8M431 709h8M775 709h8M519 717h8M767 717h8M503 725h8M719 725h8M431 733h8M495 733h8M439 741h24M487 741h8"/><path stroke="#4e4e4e" d="M423 669h8M287 677h16M431 677h8M679 677h8M887 677h8M903 685h8M439 693h8M439 701h8M543 709h8M711 709h8M431 717h8M431 725h8M759 725h8M439 733h16M751 733h8M463 741h24"/><path stroke="#4f4f4f" d="M319 653h8M415 653h8M871 653h8M319 661h8M415 661h8M871 661h8M279 669h8M311 669h8M655 677h8M439 685h8M639 685h8M607 693h8M783 693h8M567 701h8M439 709h8M439 717h8M511 717h8M439 725h8M455 733h16M487 733h8M727 733h8"/><path stroke="#505050" d="M423 653h8M423 661h8M287 669h8M303 669h8M431 669h8M799 669h8M911 685h16M535 709h8M447 725h16M495 725h8M471 733h16M735 733h16"/><path stroke="#515151" d="M279 653h8M311 653h8M279 661h8M311 661h8M295 669h8M671 669h8M879 669h8M439 677h8M791 677h8M895 677h8M631 685h8M695 685h8M599 693h8M559 701h8M775 701h8M447 709h8M447 717h8M463 725h8M751 725h8"/><path stroke="#525252" d="M431 653h8M431 661h8M663 669h8M647 677h8M687 677h8M447 693h8M703 693h8M447 701h8M527 709h8M767 709h8M455 717h8M503 717h8M719 717h8M759 717h8M471 725h24"/><path stroke="#535353" d="M287 653h24M799 653h8M287 661h24M799 661h8M439 669h8M679 669h8M903 677h8M623 685h8M783 685h8M455 709h8M463 717h8M743 725h8"/><path stroke="#545454" d="M655 669h8M639 677h8M911 677h16M447 685h8M591 693h8M551 701h8M519 709h8M471 717h8M495 717h8M727 725h8"/><path stroke="#555555" d="M439 653h8M663 653h16M439 661h8M663 661h16M791 669h8M887 669h8M447 677h8M583 693h8M775 693h8M455 701h8M711 701h8M463 709h8M511 709h8M479 717h16M751 717h8M735 725h8"/><path stroke="#565656" d="M647 669h8M895 669h8M631 677h8M783 677h8M615 685h8M543 701h8M767 701h8"/><path stroke="#575757" d="M655 653h8M879 653h8M655 661h8M879 661h8M447 669h8M903 669h24M695 677h8M455 693h8M575 693h8M471 709h8M503 709h8M759 709h8"/><path stroke="#585858" d="M679 653h8M791 653h8M679 661h8M791 661h8M639 669h8M687 669h8M623 677h8M455 685h8M607 685h8M463 701h8M535 701h8M495 709h8M743 717h8"/><path stroke="#595959" d="M447 653h8M647 653h8M447 661h8M647 661h8M703 685h8M775 685h8M567 693h8M527 701h8M479 709h16M719 709h8M727 717h16"/><path stroke="#5a5a5a" d="M887 653h8M903 653h24M887 661h8M903 661h24M631 669h8M783 669h8M455 677h8M615 677h8M599 685h8M471 701h8M519 701h8"/><path stroke="#5b5b5b" d="M639 653h8M895 653h8M639 661h8M895 661h8M463 693h8M559 693h8M767 693h8M511 701h8M751 709h8"/><path stroke="#5c5c5c" d="M687 653h8M783 653h8M687 661h8M783 661h8M455 669h8M623 669h8M695 669h8M775 677h8M591 685h8M759 701h8"/><path stroke="#5d5d5d" d="M455 653h8M631 653h8M455 661h8M631 661h8M607 677h8M463 685h8M551 693h8M711 693h8M479 701h8M503 701h8"/><path stroke="#5e5e5e" d="M623 653h8M623 661h8M615 669h8M703 677h8M583 685h8M471 693h8M543 693h8M487 701h16M743 709h8"/><path stroke="#5f5f5f" d="M775 669h8M463 677h8M767 685h8M727 709h16"/><path stroke="#606060" d="M599 677h8M575 685h8M527 693h16M719 701h8"/><path stroke="#616161" d="M615 653h8M695 653h8M615 661h8M695 661h8M463 669h8M607 669h8M471 685h8M567 685h8M479 693h8M519 693h8M751 701h8"/><path stroke="#626262" d="M775 653h8M775 661h8M591 677h8M711 685h8M503 693h16M759 693h8"/><path stroke="#636363" d="M463 653h8M463 661h8M703 669h8M767 677h8M559 685h8M487 693h16"/><path stroke="#646464" d="M607 653h8M607 661h8M599 669h8M471 677h8M583 677h8M551 685h8M743 701h8"/><path stroke="#656565" d="M479 685h8"/><path stroke="#666666" d="M767 669h8M575 677h8M543 685h8M759 685h8M719 693h8M727 701h16"/><path stroke="#676767" d="M599 653h8M703 653h8M599 661h8M703 661h8M471 669h8M591 669h8M567 677h8M711 677h8M519 685h24M751 693h8"/><path stroke="#686868" d="M767 653h8M767 661h8M487 685h32"/><path stroke="#696969" d="M471 653h8M471 661h8M583 669h8M479 677h8M559 677h8M759 677h8"/><path stroke="#6a6a6a" d="M591 653h8M591 661h8M743 693h8"/><path stroke="#6b6b6b" d="M575 669h8M711 669h8M551 677h8"/><path stroke="#6c6c6c" d="M759 669h8M487 677h8M543 677h8M719 685h8M751 685h8M727 693h16"/><path stroke="#6d6d6d" d="M583 653h8M583 661h8M479 669h8M567 669h8M495 677h48"/><path stroke="#6f6f6f" d="M479 653h8M575 653h8M711 653h8M759 653h8M479 661h8M575 661h8M711 661h8M759 661h8M559 669h8M751 677h8M743 685h8"/><path stroke="#707070" d="M551 669h8M719 677h8M735 685h8"/><path stroke="#717171" d="M567 653h8M567 661h8M487 669h8M727 685h8"/><path stroke="#727272" d="M495 669h16M543 669h8M751 669h8M743 677h8"/><path stroke="#737373" d="M559 653h8M559 661h8M511 669h32M719 669h8"/><path stroke="#747474" d="M487 653h8M487 661h8M727 677h16"/><path stroke="#757575" d="M551 653h8M751 653h8M551 661h8M751 661h8M743 669h8"/><path stroke="#767676" d="M495 653h16M719 653h8M495 661h16M719 661h8"/><path stroke="#777777" d="M511 653h16M543 653h8M511 661h16M543 661h8M735 669h8"/><path stroke="#787878" d="M527 653h16M743 653h8M527 661h16M743 661h8M727 669h8"/><path stroke="#797979" d="M735 653h8M735 661h8"/><path stroke="#7a7a7a" d="M727 653h8M727 661h8"/></g></g></g>
<g clip-path="url(#cS1)"><path d="M78.1 671.6L78.6 671.3M99.2 671.6L99.7 671.3M120.4 671.6L120.8 671.3M141.5 671.6L142.0 671.3M162.6 671.6L163.1 671.3M183.8 671.6L184.6 671.1M204.9 671.6L207.8 669.8M226.1 671.6L230.0 669.3M247.2 671.6L250.3 671.7M268.4 671.6L272.4 671.8M289.5 671.6L294.3 670.9M310.6 671.6L315.4 671.0M331.8 671.6L336.4 671.2M352.9 671.6L357.4 671.4M374.1 671.6L378.4 671.5M395.2 671.6L399.7 671.6M416.4 671.6L421.0 671.7M437.5 671.6L442.4 671.8M458.6 671.6L464.2 671.8M479.8 671.6L486.3 671.9M500.9 671.6L508.2 672.0M522.1 671.6L529.4 672.1M543.2 671.6L550.5 672.1M564.3 671.6L571.2 672.2M585.5 671.6L591.9 672.2M606.6 671.6L612.6 671.8M627.8 671.6L633.3 671.1M648.9 671.6L653.5 669.1M670.1 671.6L673.7 668.4M691.2 671.6L694.9 667.9M712.3 671.6L718.5 673.3M733.5 671.6L741.1 674.0M754.6 671.6L761.6 674.0M775.8 671.6L781.3 673.7M796.9 671.6L801.6 673.5M818.1 671.6L821.7 673.2M839.2 671.6L842.1 672.3M860.3 671.6L863.2 670.0M881.5 671.6L885.8 669.5M902.6 671.6L907.7 673.0M78.1 692.9L78.6 692.6M99.2 692.9L99.7 692.6M120.4 692.9L120.9 692.6M141.5 692.9L142.0 692.6M162.6 692.9L163.2 692.6M183.8 692.9L184.3 692.6M204.9 692.9L206.9 691.7M226.1 692.9L229.4 690.9M247.2 692.9L250.8 690.8M268.4 692.9L272.1 690.7M289.5 692.9L293.3 690.7M310.6 692.9L314.6 691.2M331.8 692.9L335.8 692.4M352.9 692.9L356.7 692.5M374.1 692.9L377.8 692.6M395.2 692.9L399.2 693.4M416.4 692.9L420.3 694.7M437.5 692.9L441.7 694.8M458.6 692.9L463.5 695.1M479.8 692.9L485.6 693.2M500.9 692.9L507.0 693.2M522.1 692.9L528.0 693.2M543.2 692.9L549.0 693.2M564.3 692.9L569.9 693.2M585.5 692.9L590.8 693.2M606.6 692.9L611.6 693.1M627.8 692.9L632.3 693.1M648.9 692.9L652.8 692.1M670.1 692.9L673.0 691.5M691.2 692.9L694.8 691.2M712.3 692.9L717.6 694.3M733.5 692.9L740.2 694.6M754.6 692.9L760.8 694.3M775.8 692.9L781.0 694.0M796.9 692.9L801.0 691.4M818.1 692.9L821.1 691.8M839.2 692.9L841.7 692.0M860.3 692.9L862.4 692.1M881.5 692.9L884.6 692.5M902.6 692.9L906.5 694.3M78.1 714.1L78.6 713.8M99.2 714.1L99.7 713.8M120.4 714.1L120.8 713.8M141.5 714.1L142.0 713.8M162.6 714.1L163.1 713.8M183.8 714.1L184.3 713.8M204.9 714.1L206.3 713.2M226.1 714.1L228.4 712.5M247.2 714.1L249.9 712.2M268.4 714.1L271.3 712.0M289.5 714.1L292.5 712.0M310.6 714.1L313.5 712.1M331.8 714.1L334.4 712.3M352.9 714.1L354.8 712.8M374.1 714.1L376.2 712.6M395.2 714.1L398.6 715.3M416.4 714.1L420.6 715.7M437.5 714.1L442.0 715.8M458.6 714.1L463.4 715.9M479.8 714.1L485.0 713.2M500.9 714.1L506.0 713.2M522.1 714.1L526.9 713.2M543.2 714.1L547.7 713.3M564.3 714.1L567.9 713.4M585.5 714.1L588.0 713.6M606.6 714.1L608.2 713.5M627.8 714.1L628.6 713.7M648.9 714.1L649.4 713.8M670.1 714.1L670.6 713.8M691.2 714.1L692.3 713.5M712.3 714.1L716.4 713.8M733.5 714.1L739.1 713.5M754.6 714.1L759.9 713.4M775.8 714.1L779.8 711.8M796.9 714.1L800.0 712.4M818.1 714.1L820.3 712.9M839.2 714.1L840.7 713.2M860.3 714.1L861.3 713.6M881.5 714.1L882.8 713.4M902.6 714.1L904.5 713.1M78.1 735.4L78.5 735.0M99.2 735.4L99.7 735.0M120.4 735.4L120.8 735.0M141.5 735.4L142.0 735.0M162.6 735.4L163.1 735.0M183.8 735.4L184.3 735.0M204.9 735.4L205.9 734.6M226.1 735.4L227.8 734.0M247.2 735.4L249.3 733.8M268.4 735.4L270.7 733.6M289.5 735.4L291.9 733.5M310.6 735.4L312.9 733.6M331.8 735.4L333.9 733.8M352.9 735.4L354.2 734.4M374.1 735.4L375.5 734.2M395.2 735.4L397.6 733.5M416.4 735.4L419.9 732.6M437.5 735.4L441.2 732.5M458.6 735.4L462.4 732.4M479.8 735.4L483.6 732.4M500.9 735.4L504.6 732.5M522.1 735.4L525.0 733.1M543.2 735.4L545.1 733.9M564.3 735.4L565.4 734.5M585.5 735.4L586.0 735.0M606.6 735.4L607.1 735.0M627.8 735.4L628.2 735.0M648.9 735.4L649.4 735.0M670.1 735.4L670.5 735.0M691.2 735.4L691.7 735.0M712.3 735.4L714.1 734.0M733.5 735.4L737.3 732.4M754.6 735.4L758.4 732.5M775.8 735.4L779.0 732.9M796.9 735.4L799.4 733.5M818.1 735.4L819.8 734.0M839.2 735.4L840.2 734.6M860.3 735.4L860.8 735.0M881.5 735.4L882.0 735.0M902.6 735.4L903.3 734.8M78.1 756.6L78.5 756.3M99.2 756.6L99.7 756.3M120.4 756.6L120.8 756.3M141.5 756.6L142.0 756.3M162.6 756.6L163.1 756.3M183.8 756.6L184.3 756.3M204.9 756.6L205.6 756.1M226.1 756.6L227.2 755.7M247.2 756.6L248.6 755.5M268.4 756.6L270.0 755.3M289.5 756.6L291.2 755.3M310.6 756.6L312.2 755.4M331.8 756.6L333.2 755.5M352.9 756.6L353.6 756.1M374.1 756.6L374.8 756.1M395.2 756.6L397.0 755.2M416.4 756.6L419.5 754.1M437.5 756.6L441.1 753.8M458.6 756.6L462.2 753.8M479.8 756.6L483.3 753.8M500.9 756.6L503.9 754.3M522.1 756.6L524.0 755.1M543.2 756.6L543.9 756.1M564.3 756.6L564.8 756.3M585.5 756.6L586.0 756.3M606.6 756.6L607.1 756.3M627.8 756.6L628.2 756.3M691.2 756.6L691.7 756.3M712.3 756.6L713.1 756.0M733.5 756.6L736.6 754.2M754.6 756.6L758.0 754.0M775.8 756.6L778.6 754.4M796.9 756.6L799.1 754.9M818.1 756.6L819.6 755.4M839.2 756.6L840.0 756.0M860.3 756.6L860.8 756.3M881.5 756.6L882.0 756.3M902.6 756.6L903.1 756.3M78.1 777.9L79.1 777.1M99.2 777.9L100.1 777.2M120.4 777.9L120.8 777.5M141.5 777.9L142.0 777.5M162.6 777.9L163.1 777.5M183.8 777.9L184.3 777.5M204.9 777.9L205.4 777.5M226.1 777.9L226.6 777.5M247.2 777.9L247.9 777.3M268.4 777.9L269.2 777.2M289.5 777.9L290.3 777.2M310.6 777.9L311.2 777.4M331.8 777.9L332.3 777.5M352.9 777.9L353.4 777.5M374.1 777.9L374.5 777.5M395.2 777.9L396.1 777.2M416.4 777.9L419.0 775.8M437.5 777.9L440.9 775.2M458.6 777.9L461.9 775.3M479.8 777.9L482.8 775.5M500.9 777.9L503.2 776.1M522.1 777.9L523.2 777.0M543.2 777.9L543.7 777.5M564.3 777.9L564.8 777.5M585.5 777.9L586.0 777.5M691.2 777.9L691.7 777.5M712.3 777.9L712.8 777.5M733.5 777.9L735.5 776.3M754.6 777.9L757.4 775.7M775.8 777.9L778.1 776.0M796.9 777.9L798.8 776.4M818.1 777.9L819.3 776.9M839.2 777.9L839.8 777.4M860.3 777.9L860.8 777.5M881.5 777.9L882.0 777.5M902.6 777.9L903.1 777.5M78.1 799.1L78.6 798.7M99.2 799.1L99.7 798.8M120.4 799.1L120.8 798.8M141.5 799.1L142.0 798.8M162.6 799.1L163.1 798.8M183.8 799.1L184.3 798.8M204.9 799.1L205.4 798.8M226.1 799.1L226.5 798.8M247.2 799.1L247.7 798.8M268.4 799.1L268.8 798.8M289.5 799.1L290.0 798.8M310.6 799.1L311.1 798.8M331.8 799.1L332.3 798.8M352.9 799.1L353.4 798.8M374.1 799.1L374.5 798.8M395.2 799.1L395.7 798.8M416.4 799.1L418.1 797.8M437.5 799.1L440.3 797.0M458.6 799.1L461.2 797.2M479.8 799.1L481.9 797.5M500.9 799.1L502.3 798.0M522.1 799.1L522.5 798.8M543.2 799.1L543.7 798.8M564.3 799.1L564.8 798.8M585.5 799.1L586.0 798.8M712.3 799.1L712.8 798.8M733.5 799.1L734.0 798.8M754.6 799.1L756.0 798.0M775.8 799.1L777.0 798.1M796.9 799.1L798.0 798.3M818.1 799.1L818.7 798.6M839.2 799.1L839.7 798.8M860.3 799.1L860.8 798.8M881.5 799.1L882.0 798.8M902.6 799.1L903.1 798.8M78.1 820.4L78.6 820.0M99.2 820.4L99.7 820.0M120.4 820.4L120.8 820.0M141.5 820.4L142.0 820.0M162.6 820.4L163.1 820.0M183.8 820.4L184.3 820.0M204.9 820.4L205.4 820.0M226.1 820.4L226.6 820.0M247.2 820.4L247.7 820.0M268.4 820.4L268.8 820.0M289.5 820.4L290.0 820.0M310.6 820.4L311.1 820.0M331.8 820.4L332.3 820.0M395.2 820.4L395.7 820.0M416.4 820.4L416.9 820.0M437.5 820.4L438.9 819.4M458.6 820.4L459.8 819.6M479.8 820.4L480.6 819.8M500.9 820.4L501.4 820.0M522.1 820.4L522.6 820.0M543.2 820.4L543.7 820.0M564.3 820.4L564.8 820.0M712.3 820.4L712.8 820.0M733.5 820.4L734.0 820.0M754.6 820.4L755.1 820.0M775.8 820.4L776.3 820.0M796.9 820.4L797.4 820.0M818.1 820.4L818.6 820.0M839.2 820.4L839.7 820.0M860.3 820.4L860.8 820.0M881.5 820.4L882.0 820.0M902.6 820.4L903.1 820.0" stroke="#111" stroke-width="0.6" fill="none"/><path d="M81.0 669.6L79.0 672.0L78.1 670.6ZM102.2 669.6L100.2 672.0L99.2 670.6ZM123.3 669.6L121.3 672.0L120.4 670.6ZM144.4 669.6L142.5 672.0L141.5 670.6ZM165.6 669.6L163.6 672.0L162.7 670.6ZM187.1 669.4L185.1 671.8L184.1 670.4ZM210.3 668.2L208.2 670.5L207.3 669.1ZM232.7 667.8L230.5 670.1L229.6 668.6ZM253.3 671.8L250.3 672.6L250.4 670.9ZM275.3 671.9L272.3 672.6L272.4 671.0ZM297.5 670.4L294.5 671.8L294.2 670.0ZM318.7 670.6L315.6 671.9L315.3 670.1ZM339.4 671.0L336.4 672.1L336.3 670.4ZM360.4 671.2L357.5 672.2L357.4 670.6ZM381.4 671.5L378.5 672.4L378.4 670.7ZM402.7 671.7L399.7 672.5L399.7 670.8ZM424.1 671.7L421.0 672.6L421.0 670.8ZM445.7 671.8L442.4 672.7L442.4 670.8ZM468.0 672.0L464.2 672.9L464.3 670.8ZM490.5 672.1L486.3 673.1L486.4 670.8ZM512.4 672.3L508.2 673.2L508.3 670.9ZM533.6 672.4L529.3 673.3L529.5 670.9ZM554.7 672.4L550.4 673.3L550.6 671.0ZM575.4 672.5L571.1 673.3L571.3 671.0ZM596.1 672.5L591.8 673.3L592.0 671.0ZM616.6 671.9L612.6 672.9L612.6 670.7ZM637.0 670.8L633.4 672.2L633.2 670.1ZM656.6 667.5L654.0 670.0L653.1 668.3ZM676.1 666.2L674.3 669.1L673.1 667.7ZM697.4 665.4L695.6 668.6L694.2 667.2ZM722.5 674.4L718.2 674.4L718.8 672.2ZM745.1 675.2L740.7 675.1L741.4 672.8ZM765.6 675.4L761.3 675.1L762.0 672.9ZM785.0 675.1L781.0 674.7L781.7 672.7ZM804.7 674.8L801.2 674.4L802.0 672.7ZM824.5 674.4L821.4 674.0L822.1 672.5ZM845.0 673.1L841.9 673.2L842.3 671.5ZM865.8 668.5L863.6 670.7L862.8 669.3ZM888.7 668.1L886.2 670.3L885.4 668.7ZM911.0 673.9L907.4 673.9L907.9 672.0ZM81.1 691.0L79.0 693.3L78.1 691.8ZM102.3 691.0L100.2 693.3L99.3 691.8ZM123.4 691.0L121.3 693.3L120.4 691.8ZM144.6 691.0L142.4 693.3L141.6 691.8ZM165.7 691.0L163.6 693.3L162.7 691.8ZM186.9 691.0L184.7 693.3L183.9 691.8ZM209.5 690.2L207.3 692.4L206.5 691.0ZM232.0 689.4L229.8 691.6L229.0 690.2ZM253.3 689.3L251.2 691.5L250.3 690.1ZM274.7 689.2L272.5 691.4L271.6 690.0ZM295.9 689.2L293.7 691.4L292.9 690.0ZM317.3 690.1L314.9 692.0L314.2 690.5ZM338.8 692.0L335.9 693.2L335.7 691.5ZM359.7 692.2L356.8 693.3L356.6 691.7ZM380.8 692.4L377.9 693.5L377.8 691.8ZM402.1 693.9L399.1 694.3L399.3 692.6ZM423.0 696.0L420.0 695.5L420.7 694.0ZM444.5 696.2L441.3 695.6L442.1 694.1ZM466.7 696.6L463.0 696.0L463.9 694.2ZM489.6 693.4L485.6 694.3L485.7 692.1ZM511.0 693.4L506.9 694.3L507.1 692.1ZM532.0 693.4L528.0 694.3L528.1 692.1ZM552.9 693.4L549.0 694.3L549.1 692.1ZM573.6 693.4L569.9 694.2L570.0 692.1ZM594.3 693.3L590.7 694.1L590.8 692.2ZM614.9 693.3L611.5 694.1L611.6 692.2ZM635.4 693.3L632.3 694.0L632.4 692.3ZM655.8 691.5L653.0 692.9L652.7 691.3ZM675.7 690.2L673.4 692.3L672.7 690.7ZM697.6 689.9L695.2 691.9L694.5 690.4ZM721.2 695.2L717.4 695.3L717.9 693.3ZM744.2 695.6L739.9 695.7L740.5 693.4ZM764.9 695.3L760.6 695.5L761.1 693.2ZM784.5 694.8L780.8 695.0L781.2 693.0ZM803.8 690.4L801.3 692.2L800.7 690.6ZM823.9 690.7L821.4 692.5L820.8 691.0ZM844.5 691.0L841.9 692.8L841.4 691.2ZM865.2 691.1L862.7 692.9L862.1 691.3ZM887.6 692.2L884.7 693.3L884.5 691.7ZM909.3 695.3L906.2 695.1L906.8 693.5ZM81.0 712.1L79.0 714.5L78.1 713.1ZM102.2 712.1L100.2 714.5L99.2 713.1ZM123.3 712.1L121.3 714.5L120.4 713.1ZM144.4 712.1L142.5 714.5L141.5 713.1ZM165.6 712.1L163.6 714.5L162.7 713.1ZM186.7 712.1L184.8 714.5L183.8 713.1ZM208.7 711.5L206.8 713.9L205.8 712.5ZM230.9 710.7L228.9 713.2L228.0 711.8ZM252.4 710.5L250.4 712.9L249.4 711.5ZM273.8 710.3L271.8 712.7L270.8 711.4ZM295.0 710.3L293.0 712.7L292.0 711.3ZM315.9 710.4L314.0 712.8L313.0 711.5ZM336.8 710.6L334.9 713.0L333.9 711.6ZM357.3 711.1L355.3 713.5L354.3 712.1ZM378.6 710.9L376.7 713.3L375.7 712.0ZM401.4 716.4L398.3 716.1L398.8 714.6ZM423.5 716.7L420.3 716.5L420.9 714.9ZM445.0 716.9L441.7 716.6L442.3 714.9ZM466.6 717.0L463.1 716.7L463.7 715.0ZM488.4 712.6L485.1 714.2L484.8 712.2ZM509.5 712.6L506.2 714.1L505.9 712.2ZM530.1 712.6L527.0 714.1L526.7 712.3ZM550.6 712.7L547.8 714.1L547.5 712.4ZM570.8 712.8L568.0 714.2L567.7 712.6ZM590.9 713.0L588.2 714.4L587.8 712.8ZM611.0 712.5L608.5 714.3L607.9 712.7ZM631.2 712.2L629.0 714.4L628.1 712.9ZM652.0 712.3L649.9 714.6L649.0 713.1ZM673.2 712.3L671.0 714.6L670.2 713.1ZM694.9 712.0L692.7 714.2L691.9 712.7ZM719.4 713.5L716.5 714.6L716.3 712.9ZM742.8 713.1L739.2 714.5L739.0 712.4ZM763.5 712.9L760.1 714.4L759.8 712.4ZM782.5 710.2L780.2 712.5L779.4 711.0ZM802.6 710.9L800.4 713.1L799.6 711.6ZM822.9 711.4L820.7 713.6L819.8 712.1ZM843.3 711.7L841.1 714.0L840.3 712.5ZM863.9 712.1L861.7 714.3L860.9 712.8ZM885.4 711.9L883.2 714.1L882.4 712.6ZM907.0 711.6L904.9 713.8L904.0 712.3ZM80.9 733.2L79.1 735.7L78.0 734.3ZM102.1 733.2L100.2 735.7L99.2 734.3ZM123.2 733.2L121.3 735.7L120.3 734.3ZM144.3 733.2L142.5 735.7L141.5 734.3ZM165.5 733.2L163.6 735.7L162.6 734.3ZM186.6 733.2L184.8 735.7L183.7 734.3ZM208.3 732.7L206.4 735.3L205.4 733.9ZM230.2 732.2L228.3 734.7L227.3 733.4ZM251.6 731.9L249.8 734.4L248.7 733.1ZM273.0 731.7L271.2 734.2L270.2 732.9ZM294.3 731.7L292.4 734.2L291.4 732.8ZM315.3 731.8L313.4 734.3L312.4 732.9ZM336.2 731.9L334.4 734.4L333.3 733.1ZM356.6 732.5L354.7 735.0L353.7 733.7ZM377.9 732.4L376.1 734.9L375.0 733.6ZM400.0 731.6L398.2 734.1L397.1 732.8ZM422.2 730.8L420.4 733.3L419.3 732.0ZM443.7 730.5L441.8 733.2L440.7 731.8ZM465.0 730.4L463.0 733.1L461.9 731.7ZM486.2 730.4L484.2 733.1L483.1 731.7ZM507.0 730.6L505.1 733.2L504.0 731.9ZM527.3 731.3L525.5 733.8L524.4 732.5ZM547.5 732.0L545.7 734.5L544.6 733.2ZM567.8 732.7L565.9 735.2L564.9 733.9ZM588.3 733.2L586.5 735.7L585.4 734.3ZM609.5 733.2L607.6 735.7L606.6 734.3ZM630.6 733.2L628.8 735.7L627.7 734.3ZM651.8 733.2L649.9 735.7L648.9 734.3ZM672.9 733.2L671.1 735.7L670.0 734.3ZM694.0 733.2L692.2 735.7L691.2 734.3ZM716.5 732.1L714.6 734.6L713.6 733.3ZM739.8 730.4L737.9 733.1L736.7 731.7ZM760.9 730.5L758.9 733.2L757.8 731.8ZM781.3 731.0L779.5 733.6L778.4 732.2ZM801.7 731.6L799.9 734.1L798.8 732.8ZM822.1 732.2L820.3 734.7L819.3 733.4ZM842.6 732.7L840.7 735.2L839.7 733.9ZM863.2 733.2L861.3 735.7L860.3 734.3ZM884.4 733.1L882.5 735.6L881.5 734.3ZM905.7 733.0L903.9 735.5L902.8 734.2ZM80.9 754.4L79.1 756.9L78.0 755.6ZM102.1 754.4L100.2 756.9L99.2 755.6ZM123.2 754.4L121.3 756.9L120.3 755.6ZM144.3 754.4L142.5 756.9L141.5 755.6ZM165.5 754.4L163.6 756.9L162.6 755.6ZM186.6 754.4L184.8 756.9L183.7 755.6ZM208.0 754.3L206.1 756.8L205.1 755.4ZM229.6 753.9L227.7 756.4L226.7 755.1ZM251.0 753.7L249.1 756.2L248.1 754.9ZM272.4 753.5L270.5 756.0L269.5 754.7ZM293.6 753.4L291.7 755.9L290.7 754.6ZM314.6 753.5L312.7 756.0L311.7 754.7ZM335.5 753.7L333.7 756.2L332.7 754.9ZM355.9 754.3L354.1 756.8L353.0 755.5ZM377.1 754.2L375.3 756.7L374.3 755.4ZM399.4 753.4L397.5 755.9L396.5 754.6ZM421.9 752.3L420.1 754.8L419.0 753.5ZM443.5 751.9L441.6 754.5L440.6 753.1ZM464.7 751.9L462.8 754.5L461.7 753.1ZM485.7 752.0L483.9 754.5L482.8 753.2ZM506.3 752.4L504.5 754.9L503.4 753.6ZM526.3 753.3L524.5 755.8L523.5 754.5ZM546.3 754.2L544.4 756.7L543.4 755.4ZM567.2 754.4L565.3 756.9L564.3 755.6ZM588.3 754.4L586.5 756.9L585.4 755.6ZM609.5 754.4L607.6 756.9L606.6 755.6ZM630.6 754.4L628.8 756.9L627.7 755.6ZM694.0 754.4L692.2 756.9L691.2 755.6ZM715.5 754.2L713.6 756.7L712.6 755.4ZM738.9 752.4L737.1 754.9L736.0 753.6ZM760.3 752.2L758.5 754.7L757.4 753.4ZM780.9 752.6L779.1 755.1L778.1 753.8ZM801.5 753.1L799.6 755.6L798.6 754.2ZM821.9 753.6L820.1 756.1L819.1 754.8ZM842.4 754.2L840.5 756.7L839.5 755.3ZM863.2 754.4L861.3 756.9L860.3 755.6ZM884.3 754.4L882.5 756.9L881.4 755.6ZM905.5 754.4L903.6 756.9L902.6 755.6ZM81.4 775.2L79.6 777.8L78.6 776.4ZM102.4 775.3L100.6 777.9L99.6 776.5ZM123.2 775.7L121.3 778.2L120.3 776.8ZM144.3 775.7L142.5 778.2L141.5 776.8ZM165.5 775.7L163.6 778.2L162.6 776.8ZM186.6 775.7L184.8 778.2L183.7 776.8ZM207.8 775.7L205.9 778.2L204.9 776.8ZM229.0 775.6L227.1 778.1L226.1 776.8ZM250.3 775.5L248.4 778.0L247.4 776.7ZM271.6 775.4L269.7 777.9L268.7 776.6ZM292.7 775.4L290.8 777.9L289.8 776.6ZM313.6 775.6L311.8 778.1L310.7 776.7ZM334.6 775.7L332.8 778.2L331.7 776.8ZM355.8 775.7L353.9 778.2L352.9 776.8ZM376.9 775.7L375.1 778.2L374.0 776.8ZM398.4 775.4L396.6 777.9L395.5 776.5ZM421.4 774.0L419.5 776.5L418.5 775.1ZM443.2 773.4L441.4 775.9L440.4 774.6ZM464.3 773.5L462.4 776.0L461.4 774.7ZM485.2 773.7L483.3 776.2L482.3 774.8ZM505.6 774.2L503.8 776.7L502.7 775.4ZM525.5 775.2L523.7 777.7L522.6 776.4ZM546.0 775.7L544.2 778.2L543.2 776.8ZM567.2 775.7L565.3 778.2L564.3 776.8ZM588.3 775.7L586.5 778.2L585.4 776.8ZM694.0 775.7L692.2 778.2L691.2 776.8ZM715.2 775.7L713.3 778.2L712.3 776.8ZM737.9 774.4L736.1 776.9L735.0 775.6ZM759.7 773.9L757.9 776.4L756.8 775.1ZM780.5 774.2L778.6 776.7L777.6 775.4ZM801.1 774.6L799.3 777.1L798.3 775.8ZM821.7 775.0L819.8 777.5L818.8 776.2ZM842.1 775.6L840.3 778.1L839.3 776.8ZM863.2 775.7L861.3 778.2L860.3 776.8ZM884.3 775.7L882.5 778.2L881.4 776.8ZM905.5 775.7L903.6 778.2L902.6 776.8ZM81.0 796.8L79.1 799.4L78.1 798.0ZM102.1 796.9L100.2 799.4L99.2 798.1ZM123.2 796.9L121.3 799.4L120.3 798.1ZM144.3 796.9L142.5 799.4L141.5 798.1ZM165.5 796.9L163.6 799.4L162.6 798.1ZM186.6 796.9L184.8 799.4L183.7 798.1ZM207.8 796.9L205.9 799.4L204.9 798.1ZM228.9 796.9L227.1 799.4L226.0 798.1ZM250.0 796.9L248.2 799.4L247.2 798.1ZM271.2 796.9L269.3 799.4L268.3 798.1ZM292.3 796.9L290.5 799.4L289.5 798.1ZM313.5 796.9L311.6 799.4L310.6 798.1ZM334.6 796.9L332.8 799.4L331.7 798.1ZM355.8 796.9L353.9 799.4L352.9 798.1ZM376.9 796.9L375.1 799.4L374.0 798.1ZM398.0 796.9L396.2 799.4L395.2 798.1ZM420.4 795.9L418.6 798.4L417.6 797.1ZM442.6 795.1L440.8 797.6L439.7 796.3ZM463.5 795.3L461.7 797.8L460.6 796.5ZM484.3 795.6L482.4 798.1L481.4 796.8ZM504.7 796.2L502.8 798.7L501.8 797.4ZM524.9 796.9L523.1 799.4L522.0 798.1ZM546.0 796.9L544.2 799.4L543.2 798.1ZM567.2 796.9L565.3 799.4L564.3 798.1ZM588.3 796.9L586.5 799.4L585.4 798.1ZM715.2 796.9L713.3 799.4L712.3 798.1ZM736.3 796.9L734.5 799.4L733.5 798.1ZM758.4 796.2L756.5 798.7L755.5 797.4ZM779.4 796.3L777.6 798.8L776.5 797.5ZM800.3 796.5L798.5 799.0L797.4 797.6ZM821.1 796.7L819.3 799.3L818.2 797.9ZM842.0 796.9L840.2 799.4L839.2 798.1ZM863.2 796.9L861.3 799.4L860.3 798.1ZM884.3 796.9L882.5 799.4L881.4 798.1ZM905.5 796.9L903.6 799.4L902.6 798.1ZM81.0 818.3L79.0 820.7L78.1 819.3ZM102.2 818.3L100.2 820.7L99.2 819.3ZM123.3 818.3L121.3 820.7L120.4 819.3ZM144.4 818.3L142.5 820.7L141.5 819.3ZM165.6 818.3L163.6 820.7L162.7 819.3ZM186.7 818.3L184.8 820.7L183.8 819.3ZM207.9 818.3L205.9 820.7L204.9 819.3ZM229.0 818.3L227.0 820.7L226.1 819.3ZM250.2 818.3L248.2 820.7L247.2 819.3ZM271.3 818.3L269.3 820.7L268.4 819.3ZM292.4 818.3L290.5 820.7L289.5 819.3ZM313.6 818.3L311.6 820.7L310.6 819.3ZM334.7 818.3L332.8 820.7L331.8 819.3ZM398.2 818.3L396.2 820.7L395.2 819.3ZM419.3 818.3L417.4 820.7L416.4 819.3ZM441.3 817.7L439.4 820.1L438.4 818.7ZM462.3 817.8L460.3 820.2L459.3 818.9ZM483.0 818.1L481.1 820.5L480.1 819.1ZM503.9 818.3L501.9 820.7L500.9 819.3ZM525.0 818.3L523.0 820.7L522.1 819.3ZM546.2 818.3L544.2 820.7L543.2 819.3ZM567.3 818.3L565.3 820.7L564.4 819.3ZM715.3 818.3L713.3 820.7L712.4 819.3ZM736.4 818.3L734.5 820.7L733.5 819.3ZM757.6 818.3L755.6 820.7L754.6 819.3ZM778.7 818.3L776.7 820.7L775.8 819.3ZM799.9 818.3L797.9 820.7L796.9 819.3ZM821.0 818.3L819.0 820.7L818.1 819.3ZM842.2 818.3L840.2 820.7L839.2 819.3ZM863.3 818.3L861.3 820.7L860.4 819.3ZM884.4 818.3L882.5 820.7L881.5 819.3ZM905.6 818.3L903.6 820.7L902.6 819.3Z" fill="#000"/></g>
<rect x="67.5" y="661.0" width="845.7" height="170.0" fill="none" stroke="#111" stroke-width="1"/>
<g clip-path="url(#cNF)"><g filter="url(#jet)"><rect x="929" y="648" width="161" height="195" fill="#000"/><g stroke-width="9" fill="none" shape-rendering="crispEdges"><path stroke="#050505" d="M1001 828h16M1001 836h24M1001 844h24"/><path stroke="#060606" d="M1001 820h16M993 828h8M1017 828h16M993 836h8M1025 836h8M993 844h8M1025 844h8"/><path stroke="#070707" d="M993 820h8M1017 820h16M985 828h8M1033 828h8M985 836h8M1033 836h8M985 844h8M1033 844h8"/><path stroke="#080808" d="M993 812h40M985 820h8M1033 820h8M977 828h8M977 836h8M977 844h8"/><path stroke="#090909" d="M1001 804h16M985 812h8M977 820h8M969 828h8M1041 828h8M969 836h8M1041 836h8M969 844h8M1041 844h8"/><path stroke="#0a0a0a" d="M1033 652h8M1033 660h8M993 804h8M1017 804h16M977 812h8M1033 812h8M969 820h8M1041 820h8"/><path stroke="#0b0b0b" d="M1025 652h8M1041 652h8M1025 660h8M1041 660h8M985 804h8M1033 804h8M961 828h8M1049 828h8M961 836h8M1049 836h8M961 844h8M1049 844h8"/><path stroke="#0c0c0c" d="M1049 652h8M1049 660h8M1025 668h24M1001 796h24M977 804h8M969 812h8M1041 812h8M961 820h8"/><path stroke="#0d0d0d" d="M1017 652h8M1017 660h8M1033 676h8M993 796h8M1025 796h8M969 804h8M1041 804h8M1049 820h8M953 828h8M953 836h8M1057 836h8M953 844h8M1057 844h8"/><path stroke="#0e0e0e" d="M1017 668h8M1049 668h8M1025 676h8M1041 676h8M985 796h8M1033 796h8M961 812h8M1049 812h8M1057 828h8"/><path stroke="#0f0f0f" d="M1025 684h16M977 796h8M961 804h8M953 820h8M1057 820h8M945 836h8M1065 836h8M945 844h8M1065 844h8"/><path stroke="#101010" d="M1009 652h8M1057 652h8M1009 660h8M1057 660h8M1017 676h8M1049 676h8M1041 684h8M993 788h40M969 796h8M1041 796h8M1049 804h8M953 812h8M945 828h8M1065 828h8"/><path stroke="#111111" d="M1009 668h8M1017 684h8M1025 692h16M985 788h8M1057 812h8M945 820h8M1065 820h8M929 828h16M1073 828h8M929 836h16M1073 836h24M929 844h16M1073 844h24"/><path stroke="#121212" d="M1009 676h8M1049 684h8M1017 692h8M1041 692h8M977 788h8M1033 788h8M961 796h8M953 804h8M945 812h8M929 820h16M1081 828h16"/><path stroke="#131313" d="M1057 668h8M1009 684h8M1025 700h16M969 788h8M1049 796h8M1057 804h8M1065 812h8M1073 820h24"/><path stroke="#141414" d="M1001 652h8M1001 660h8M1009 692h8M1017 700h8M1041 700h8M993 780h40M1041 788h8M953 796h8M945 804h8M929 812h16"/><path stroke="#151515" d="M1001 668h8M1001 676h8M1049 692h8M1025 708h8M985 780h8M1033 780h8M961 788h8M1057 796h8M1065 804h8"/><path stroke="#161616" d="M1057 676h8M1001 684h8M1009 700h8M1017 708h8M1033 708h8M1009 772h16M977 780h8M1049 788h8M945 796h8M929 804h16M1073 812h24"/><path stroke="#171717" d="M1001 692h8M1009 708h8M1041 708h8M1017 716h16M993 772h16M1025 772h16M969 780h8M1041 780h8M953 788h8"/><path stroke="#181818" d="M1001 700h8M1049 700h8M1001 708h8M1009 716h8M1033 716h8M1017 724h16M1001 764h32M985 772h8M961 780h8M929 796h16M1073 804h24"/><path stroke="#191919" d="M993 652h8M1065 652h8M993 660h8M1065 660h8M993 668h8M993 676h8M993 684h8M993 692h8M1001 716h8M1041 716h8M1009 724h8M1033 724h8M1009 732h32M1017 740h16M1017 748h16M1001 756h32M985 764h16M1033 764h8M969 772h16M1041 772h8M1049 780h8M945 788h8M1057 788h8M1065 796h8"/><path stroke="#1a1a1a" d="M1057 684h8M993 700h8M993 708h8M1049 708h8M993 716h8M993 724h16M1041 724h8M1001 732h8M1001 740h16M1033 740h8M1001 748h16M1033 748h8M985 756h16M1033 756h8M977 764h8M1041 764h8M953 780h8M929 788h16"/><path stroke="#1b1b1b" d="M985 716h8M985 724h8M985 732h16M1041 732h8M993 740h8M1041 740h8M985 748h16M1041 748h8M977 756h8M1041 756h8M969 764h8M961 772h8M1049 772h8"/><path stroke="#1c1c1c" d="M985 692h8M985 700h8M985 708h8M977 724h8M977 732h8M977 740h16M977 748h8M969 756h8M961 764h8M953 772h8M945 780h8M1057 780h8M1065 788h8M1073 796h24"/><path stroke="#1d1d1d" d="M1065 668h8M985 684h8M1057 692h8M977 716h8M1049 716h8M969 748h8M961 756h8M1049 756h8M1049 764h8M929 780h16"/><path stroke="#1e1e1e" d="M985 676h8M977 708h8M969 724h8M1049 724h8M969 732h8M1049 732h8M969 740h8M1049 740h8M961 748h8M1049 748h8M953 764h8M945 772h8"/><path stroke="#1f1f1f" d="M985 652h8M985 660h8M985 668h8M977 700h8M969 716h8M961 740h8M953 756h8M945 764h8M929 772h16M1057 772h8"/><path stroke="#202020" d="M977 692h8M1057 700h8M961 732h8M953 748h8M1065 780h8M1073 788h24"/><path stroke="#212121" d="M969 708h8M961 724h8M953 740h8M945 756h8M929 764h16M1057 764h8"/><path stroke="#222222" d="M1073 652h8M1073 660h8M1065 676h8M977 684h8M945 748h8M929 756h16"/><path stroke="#232323" d="M1081 652h16M1081 660h16M977 676h8M969 700h8M1057 708h8M961 716h8M953 732h8M1057 756h8"/><path stroke="#242424" d="M945 740h8M929 748h16M1057 748h8M1065 772h8"/><path stroke="#252525" d="M977 668h8M953 724h8M1057 740h8M1073 780h24"/><path stroke="#262626" d="M977 652h8M977 660h8M969 692h8M961 708h8M1057 716h8M1057 724h8M945 732h8M1057 732h8M929 740h16"/><path stroke="#272727" d="M1065 684h8M953 716h8"/><path stroke="#282828" d="M1073 668h8M969 684h8M1065 764h8"/><path stroke="#292929" d="M1081 668h16M961 700h8M945 724h8M929 732h16"/><path stroke="#2a2a2a" d="M1073 772h24"/><path stroke="#2b2b2b" d="M969 676h8M953 708h8"/><path stroke="#2c2c2c" d="M1065 692h8M945 716h8M929 724h16M1065 756h8"/><path stroke="#2d2d2d" d="M969 668h8M961 692h8"/><path stroke="#2f2f2f" d="M969 652h8M969 660h8M1073 676h8"/><path stroke="#303030" d="M1081 676h16M961 684h8M953 700h8M1065 700h8M929 716h16M1065 748h8M1073 764h8"/><path stroke="#313131" d="M945 708h8M1081 764h16"/><path stroke="#333333" d="M1065 708h8M1065 740h8"/><path stroke="#343434" d="M961 676h8M953 692h8M1065 732h8"/><path stroke="#363636" d="M1073 684h8M929 708h16M1065 716h8M1065 724h8"/><path stroke="#373737" d="M961 668h8M945 700h8M1073 756h8"/><path stroke="#383838" d="M1081 684h16M1081 756h16"/><path stroke="#393939" d="M961 652h8M961 660h8M953 684h8"/><path stroke="#3c3c3c" d="M945 692h8M1073 692h8M929 700h16"/><path stroke="#3d3d3d" d="M953 676h8M1073 748h8"/><path stroke="#3e3e3e" d="M1081 692h16M1081 748h16"/><path stroke="#404040" d="M953 668h8"/><path stroke="#414141" d="M945 684h8M1073 700h8M1073 740h8"/><path stroke="#424242" d="M929 692h16M1081 700h16"/><path stroke="#434343" d="M953 652h8M953 660h8M1081 740h16"/><path stroke="#444444" d="M1073 708h8M1073 732h8"/><path stroke="#454545" d="M945 676h8M1081 732h16"/><path stroke="#464646" d="M1081 708h16M1073 724h8"/><path stroke="#474747" d="M929 684h16M1073 716h8"/><path stroke="#484848" d="M1081 716h16M1081 724h16"/><path stroke="#494949" d="M945 668h8"/><path stroke="#4b4b4b" d="M945 652h8M945 660h8M929 676h16"/><path stroke="#4f4f4f" d="M929 668h16"/><path stroke="#515151" d="M929 652h16M929 660h16"/></g></g></g>
<g clip-path="url(#cNF)"><path d="M952.9 671.1L956.1 668.9M975.6 671.1L976.6 670.4M998.3 671.1L997.9 670.8M1021.1 671.1L1020.6 670.8M1043.8 671.1L1043.3 670.8M1066.5 671.1L1066.1 670.8M952.9 692.4L955.6 691.8M975.6 692.4L976.2 692.3M998.3 692.4L998.7 692.0M1021.1 692.4L1020.6 692.1M1043.8 692.4L1043.5 691.9M1066.5 692.4L1067.5 692.1M952.9 713.7L951.8 712.8M975.6 713.7L975.1 713.3M998.3 713.7L997.9 713.3M1021.1 713.7L1020.6 713.3M1043.8 713.7L1043.3 713.3M1066.5 713.7L1065.1 712.5M952.9 735.0L952.3 734.6M975.6 735.0L975.1 734.6M998.3 735.0L997.9 734.6M1021.1 735.0L1020.6 734.6M1043.8 735.0L1043.3 734.6M1066.5 735.0L1065.2 733.9M952.9 756.3L952.4 755.9M975.6 756.3L975.1 755.9M998.3 756.3L997.9 755.9M1021.1 756.3L1020.6 755.9M1043.8 756.3L1043.3 755.9M1066.5 756.3L1065.6 755.5M952.9 777.6L952.4 777.2M975.6 777.6L975.1 777.2M998.3 777.6L997.9 777.2M1021.1 777.6L1020.6 777.2M1043.8 777.6L1043.3 777.2M1066.5 777.6L1066.1 777.2M952.9 798.9L952.4 798.5M975.6 798.9L975.1 798.5M998.3 798.9L997.9 798.5M1021.1 798.9L1020.6 798.5M1043.8 798.9L1043.3 798.5M1066.5 798.9L1066.1 798.5M952.9 820.2L952.4 819.8M975.6 820.2L975.1 819.8M1043.8 820.2L1043.3 819.8M1066.5 820.2L1066.1 819.8" stroke="#111" stroke-width="0.6" fill="none"/><path d="M958.5 667.2L956.5 669.6L955.6 668.2ZM979.1 668.7L977.1 671.1L976.1 669.7ZM995.6 668.8L998.4 670.1L997.3 671.4ZM1018.3 668.8L1021.1 670.1L1020.1 671.4ZM1041.0 668.8L1043.9 670.1L1042.8 671.4ZM1063.8 668.8L1066.6 670.1L1065.5 671.4ZM958.5 691.2L955.7 692.6L955.4 691.0ZM979.2 691.9L976.4 693.2L976.1 691.5ZM1000.8 689.8L999.4 692.6L998.1 691.4ZM1018.0 690.5L1021.0 691.4L1020.1 692.8ZM1041.9 689.4L1044.2 691.5L1042.8 692.4ZM1070.2 690.9L1067.8 692.8L1067.1 691.3ZM949.5 710.9L952.3 712.2L951.2 713.5ZM972.8 711.4L975.7 712.7L974.6 714.0ZM995.6 711.4L998.4 712.7L997.3 714.0ZM1018.3 711.4L1021.1 712.7L1020.1 714.0ZM1041.0 711.4L1043.9 712.7L1042.8 714.0ZM1062.8 710.6L1065.6 711.9L1064.6 713.2ZM950.0 732.6L952.9 733.9L951.8 735.2ZM972.8 732.7L975.7 734.0L974.6 735.3ZM995.6 732.7L998.4 734.0L997.3 735.3ZM1018.3 732.7L1021.1 734.0L1020.1 735.3ZM1041.0 732.7L1043.9 734.0L1042.8 735.3ZM1062.9 731.9L1065.7 733.2L1064.6 734.5ZM950.1 754.0L952.9 755.3L951.9 756.6ZM972.8 754.0L975.7 755.3L974.6 756.6ZM995.6 754.0L998.4 755.3L997.3 756.6ZM1018.3 754.0L1021.1 755.3L1020.1 756.6ZM1041.0 754.0L1043.9 755.3L1042.8 756.6ZM1063.3 753.6L1066.2 754.9L1065.1 756.2ZM950.1 775.3L952.9 776.6L951.9 777.8ZM972.8 775.3L975.7 776.6L974.6 777.8ZM995.6 775.3L998.4 776.6L997.3 777.8ZM1018.3 775.3L1021.1 776.6L1020.1 777.8ZM1041.0 775.3L1043.9 776.6L1042.8 777.8ZM1063.8 775.3L1066.6 776.6L1065.5 777.8ZM950.1 796.6L952.9 797.8L951.9 799.1ZM972.8 796.6L975.7 797.8L974.6 799.1ZM995.6 796.6L998.4 797.8L997.3 799.1ZM1018.3 796.6L1021.1 797.8L1020.1 799.1ZM1041.0 796.6L1043.9 797.8L1042.8 799.1ZM1063.8 796.6L1066.6 797.8L1065.5 799.1ZM950.1 817.8L952.9 819.1L951.9 820.4ZM972.8 817.8L975.7 819.1L974.6 820.4ZM1041.0 817.8L1043.9 819.1L1042.8 820.4ZM1063.8 817.8L1066.6 819.1L1065.5 820.4Z" fill="#000"/></g>
<rect x="941.5" y="660.5" width="136.4" height="170.3" fill="none" stroke="#111" stroke-width="1"/>
<g clip-path="url(#cS2)"><g filter="url(#jet)"><rect x="56" y="871" width="539" height="197" fill="#000"/><g stroke-width="9" fill="none" shape-rendering="crispEdges"><path stroke="#151515" d="M56 1059h16M56 1067h16"/><path stroke="#161616" d="M72 1059h24M344 1059h40M72 1067h24M344 1067h40"/><path stroke="#171717" d="M56 1051h24M360 1051h16M96 1059h16M328 1059h16M384 1059h8M96 1067h16M328 1067h16M384 1067h8"/><path stroke="#181818" d="M80 1051h16M344 1051h16M376 1051h8M112 1059h16M248 1059h80M392 1059h16M112 1067h16M248 1067h80M392 1067h16"/><path stroke="#191919" d="M96 1051h8M328 1051h16M384 1051h16M128 1059h24M224 1059h24M408 1059h8M128 1067h24M224 1067h24M408 1067h8"/><path stroke="#1a1a1a" d="M104 1051h16M248 1051h80M400 1051h8M152 1059h24M208 1059h16M416 1059h8M152 1067h24M208 1067h16M416 1067h8"/><path stroke="#1b1b1b" d="M120 1051h24M232 1051h16M176 1059h32M176 1067h32"/><path stroke="#1c1c1c" d="M56 1043h24M352 1043h32M144 1051h16M208 1051h24M408 1051h8M424 1059h8M424 1067h8"/><path stroke="#1d1d1d" d="M80 1043h16M336 1043h16M384 1043h8M160 1051h48M416 1051h8"/><path stroke="#1e1e1e" d="M96 1043h8M320 1043h16M392 1043h8M432 1059h8M432 1067h8"/><path stroke="#1f1f1f" d="M104 1043h8M256 1043h64M400 1043h8M424 1051h8"/><path stroke="#202020" d="M56 1035h16M112 1043h16M232 1043h24M440 1059h8M440 1067h8"/><path stroke="#212121" d="M72 1035h8M352 1035h32M128 1043h16M216 1043h16M408 1043h8M432 1051h8"/><path stroke="#222222" d="M80 1035h8M344 1035h8M384 1035h8M144 1043h24M208 1043h8"/><path stroke="#232323" d="M88 1035h8M328 1035h16M392 1035h8M168 1043h40M448 1059h8M448 1067h8"/><path stroke="#242424" d="M96 1035h8M320 1035h8M416 1043h8M440 1051h8"/><path stroke="#252525" d="M56 1027h16M104 1035h8M248 1035h72M400 1035h8M456 1059h8M456 1067h8"/><path stroke="#262626" d="M72 1027h8M360 1027h16M112 1035h16M232 1035h16M424 1043h8"/><path stroke="#272727" d="M80 1027h8M352 1027h8M376 1027h16M128 1035h8M216 1035h16M448 1051h8"/><path stroke="#282828" d="M88 1027h8M344 1027h8M392 1027h8M136 1035h24M208 1035h8M408 1035h8M464 1059h8M464 1067h8"/><path stroke="#292929" d="M328 1027h16M160 1035h24M192 1035h16"/><path stroke="#2a2a2a" d="M96 1027h8M320 1027h8M184 1035h8M432 1043h8"/><path stroke="#2b2b2b" d="M56 1019h16M104 1027h8M304 1027h16M400 1027h8M416 1035h8M456 1051h8"/><path stroke="#2c2c2c" d="M72 1019h8M112 1027h8M240 1027h64M472 1059h8M472 1067h8"/><path stroke="#2d2d2d" d="M80 1019h8M368 1019h8M120 1027h8M232 1027h8"/><path stroke="#2e2e2e" d="M360 1019h8M376 1019h8M128 1027h16M216 1027h16M408 1027h8M440 1043h8M464 1051h8"/><path stroke="#2f2f2f" d="M88 1019h8M352 1019h8M384 1019h8M144 1027h16M208 1027h8M424 1035h8M480 1059h8M480 1067h8"/><path stroke="#303030" d="M56 1011h16M96 1019h8M336 1019h16M392 1019h8M160 1027h24M192 1027h16"/><path stroke="#313131" d="M104 1019h8M328 1019h8M184 1027h8M472 1051h8M488 1059h8M488 1067h8"/><path stroke="#323232" d="M72 1011h8M320 1019h8M400 1019h8M416 1027h8"/><path stroke="#333333" d="M80 1011h8M112 1019h8M312 1019h8M432 1035h8M448 1043h8"/><path stroke="#343434" d="M120 1019h8M272 1019h40M496 1059h8M496 1067h8"/><path stroke="#353535" d="M88 1011h8M368 1011h8M128 1019h8M240 1019h32M480 1051h8M504 1059h8M504 1067h8"/><path stroke="#363636" d="M56 1003h16M360 1011h8M376 1011h8M136 1019h8M232 1019h8M408 1019h8"/><path stroke="#373737" d="M72 1003h8M96 1011h8M352 1011h8M384 1011h8M144 1019h16M216 1019h16M424 1027h8M456 1043h8M512 1059h8M512 1067h8"/><path stroke="#383838" d="M344 1011h8M392 1011h8M160 1019h16M200 1019h16M488 1051h8M520 1059h8M520 1067h8"/><path stroke="#393939" d="M80 1003h8M104 1011h8M336 1011h8M176 1019h24M440 1035h8M528 1059h8M528 1067h8"/><path stroke="#3a3a3a" d="M112 1011h8M328 1011h8M416 1019h8M496 1051h8M536 1059h16M536 1067h16"/><path stroke="#3b3b3b" d="M56 995h16M88 1003h8M320 1011h8M400 1011h8M464 1043h8M552 1059h48M552 1067h48"/><path stroke="#3c3c3c" d="M120 1011h8M432 1027h8M504 1051h8"/><path stroke="#3d3d3d" d="M72 995h8M368 1003h8M128 1011h8M304 1011h16"/><path stroke="#3e3e3e" d="M96 1003h8M360 1003h8M376 1003h8M136 1011h8M272 1011h32M408 1011h8M512 1051h8"/><path stroke="#3f3f3f" d="M80 995h8M352 1003h8M384 1003h8M144 1011h8M240 1011h32M424 1019h8M448 1035h8M472 1043h8M520 1051h8"/><path stroke="#404040" d="M56 987h16M104 1003h8M152 1011h8M224 1011h16M528 1051h8"/><path stroke="#414141" d="M344 1003h8M392 1003h8M160 1011h16M216 1011h8M536 1051h16M560 1051h40"/><path stroke="#424242" d="M72 987h8M88 995h8M112 1003h8M336 1003h8M176 1011h8M200 1011h16M552 1051h8"/><path stroke="#434343" d="M328 1003h8M400 1003h8M184 1011h16M416 1011h8M440 1027h8M480 1043h8"/><path stroke="#444444" d="M120 1003h8"/><path stroke="#454545" d="M56 979h16M80 987h8M96 995h8M128 1003h8M320 1003h8M432 1019h8M456 1035h8"/><path stroke="#464646" d="M360 995h24M136 1003h8M312 1003h8"/><path stroke="#474747" d="M104 995h8M384 995h8M144 1003h8M296 1003h16M408 1003h8M424 1011h8M488 1043h8"/><path stroke="#484848" d="M72 979h8M88 987h8M352 995h8M392 995h8M152 1003h8M272 1003h24"/><path stroke="#494949" d="M160 1003h8M248 1003h24"/><path stroke="#4a4a4a" d="M112 995h8M344 995h8M400 995h8M168 1003h8M232 1003h16M416 1003h8M448 1027h8M464 1035h8M496 1043h8"/><path stroke="#4b4b4b" d="M56 971h16M80 979h8M336 995h8M176 1003h8M208 1003h24"/><path stroke="#4c4c4c" d="M96 987h8M120 995h8M184 1003h24M432 1011h8M440 1019h8M504 1043h8"/><path stroke="#4d4d4d" d="M328 995h8M408 995h8"/><path stroke="#4e4e4e" d="M72 971h8M368 987h24M128 995h8M320 995h8M424 1003h8"/><path stroke="#4f4f4f" d="M88 979h8M104 987h8M360 987h8M392 987h8M136 995h8M472 1035h8M512 1043h8"/><path stroke="#505050" d="M400 987h8M144 995h8M312 995h8M416 995h8M576 1043h24"/><path stroke="#515151" d="M352 987h8M296 995h16M456 1027h8M520 1043h16M568 1043h8"/><path stroke="#525252" d="M80 971h8M112 987h8M408 987h8M152 995h8M280 995h16M536 1043h32"/><path stroke="#535353" d="M96 979h8M344 987h8M160 995h8M256 995h24M440 1011h8M448 1019h8M480 1035h8"/><path stroke="#545454" d="M56 963h16M168 995h8M240 995h16M424 995h8M432 1003h8"/><path stroke="#555555" d="M384 979h24M120 987h8M336 987h8M416 987h8M176 995h8M216 995h24"/><path stroke="#565656" d="M88 971h8M104 979h8M376 979h8M408 979h8M184 995h32"/><path stroke="#575757" d="M72 963h8M368 979h8M128 987h8M328 987h8M464 1027h8M488 1035h8"/><path stroke="#585858" d="M360 979h8M416 979h8M320 987h8M424 987h8"/><path stroke="#595959" d="M136 987h8M432 995h8"/><path stroke="#5a5a5a" d="M96 971h8M392 971h24M112 979h8M424 979h8M144 987h8M312 987h8M440 1003h8M448 1011h8"/><path stroke="#5b5b5b" d="M80 963h8M416 971h8M352 979h8M152 987h8M304 987h8M456 1019h8M496 1035h8"/><path stroke="#5c5c5c" d="M384 971h8M288 987h16M432 987h8"/><path stroke="#5d5d5d" d="M376 971h8M424 971h8M344 979h8M160 987h8M272 987h16M472 1027h8"/><path stroke="#5e5e5e" d="M56 955h16M400 963h24M120 979h8M168 987h8M256 987h16M504 1035h8"/><path stroke="#5f5f5f" d="M88 963h8M392 963h8M424 963h8M104 971h8M368 971h8M336 979h8M432 979h8M176 987h8M232 987h24M440 995h8"/><path stroke="#606060" d="M72 955h8M408 955h16M184 987h48"/><path stroke="#616161" d="M416 947h8M424 955h8M360 971h8M432 971h8M128 979h8M328 979h8M512 1035h8M576 1035h24"/><path stroke="#626262" d="M400 955h8M384 963h8M136 979h8M440 987h8M448 1003h8M464 1019h8M480 1027h8M568 1035h8"/><path stroke="#636363" d="M408 947h8M424 947h8M96 963h8M432 963h8M112 971h8M320 979h8M456 1011h8M520 1035h8M560 1035h8"/><path stroke="#646464" d="M416 939h8M80 955h8M392 955h8M376 963h8M352 971h8M144 979h8M312 979h8M528 1035h32"/><path stroke="#656565" d="M400 947h8M152 979h8M304 979h8M440 979h8"/><path stroke="#666666" d="M408 939h8M424 939h8M432 955h8M368 963h8M296 979h8"/><path stroke="#676767" d="M384 955h8M104 963h8M120 971h8M344 971h8M440 971h8M160 979h8M280 979h16M448 995h8M488 1027h8"/><path stroke="#686868" d="M56 947h16M432 947h8M88 955h8M168 979h8M272 979h8M472 1019h8"/><path stroke="#696969" d="M416 931h8M400 939h8M392 947h8M360 963h8M440 963h8M336 971h8M176 979h8M256 979h16"/><path stroke="#6a6a6a" d="M424 931h8M432 939h8M376 955h8M128 971h8M184 979h8M216 979h40M448 987h8M456 1003h8"/><path stroke="#6b6b6b" d="M408 931h8M72 947h8M328 971h8M192 979h24M464 1011h8M496 1027h8"/><path stroke="#6c6c6c" d="M384 947h8M96 955h8M440 955h8M112 963h8M352 963h8M136 971h8"/><path stroke="#6d6d6d" d="M432 931h8M368 955h8M144 971h8M320 971h8M448 979h8"/><path stroke="#6e6e6e" d="M416 923h16M400 931h8M392 939h8M80 947h8M440 947h8M312 971h8"/><path stroke="#6f6f6f" d="M152 971h8M304 971h8M480 1019h8M504 1027h8"/><path stroke="#707070" d="M408 923h8M432 923h8M440 939h8M376 947h8M120 963h8M344 963h8M160 971h8M296 971h8M448 971h8M456 995h8"/><path stroke="#717171" d="M424 915h8M104 955h8M360 955h8M168 971h8M280 971h16M576 1027h24"/><path stroke="#727272" d="M440 931h8M384 939h8M88 947h8M448 963h8M272 971h8M512 1027h8"/><path stroke="#737373" d="M416 915h8M432 915h8M400 923h8M392 931h8M56 939h16M448 955h8M128 963h8M336 963h8M176 971h8M256 971h16M464 1003h8M472 1011h8M568 1027h8"/><path stroke="#747474" d="M424 907h8M440 923h8M368 947h8M448 947h8M352 955h8M184 971h16M224 971h32M456 987h8M560 1027h8"/><path stroke="#757575" d="M432 907h8M408 915h8M112 955h8M136 963h8M328 963h8M200 971h24M488 1019h8M520 1027h8M552 1027h8"/><path stroke="#767676" d="M424 899h16M416 907h8M440 915h8M72 939h8M448 939h8M96 947h8M144 963h8M320 963h8M528 1027h24"/><path stroke="#777777" d="M432 891h8M440 907h8M448 931h8M376 939h8M152 963h8"/><path stroke="#787878" d="M432 875h8M432 883h8M424 891h8M440 899h8M400 915h8M360 947h8M344 955h8M312 963h8M456 979h8"/><path stroke="#797979" d="M424 875h8M440 875h8M424 883h8M440 883h8M440 891h8M416 899h8M408 907h8M392 923h8M448 923h8M384 931h8M80 939h8M120 955h8M160 963h8M304 963h8"/><path stroke="#7a7a7a" d="M448 915h8M104 947h8M168 963h8M288 963h16M464 995h8M496 1019h8"/><path stroke="#7b7b7b" d="M448 875h8M448 883h8M416 891h8M448 891h8M448 899h8M448 907h8M336 955h8M176 963h8M264 963h24M456 971h8M480 1011h8"/><path stroke="#7c7c7c" d="M408 899h8M368 939h8M352 947h8M456 947h8M128 955h8M456 955h8M184 963h8M240 963h24M456 963h8"/><path stroke="#7d7d7d" d="M416 875h8M456 875h8M528 875h16M416 883h8M456 883h8M528 883h16M456 891h8M400 907h8M456 931h8M88 939h8M456 939h8M136 955h8M192 963h48M472 1003h8"/><path stroke="#7e7e7e" d="M456 899h8M456 907h8M392 915h8M456 915h8M456 923h8M112 947h8M144 955h8M328 955h8M504 1019h8"/><path stroke="#7f7f7f" d="M520 875h8M520 883h8M408 891h8M376 931h8M152 955h8M464 987h8"/><path stroke="#808080" d="M464 875h8M464 883h8M400 899h8M384 923h8M56 931h16M96 939h8M160 955h8M320 955h8M576 1019h24"/><path stroke="#818181" d="M408 875h8M544 875h8M408 883h8M544 883h8M464 891h8M360 939h8M344 947h8"/><path stroke="#828282" d="M512 875h8M512 883h8M464 899h8M72 931h8M120 947h8M168 955h8M312 955h8M488 1011h8M512 1019h8M568 1019h8"/><path stroke="#838383" d="M528 891h8M392 907h8M464 907h8M176 955h8M240 955h72M464 979h8"/><path stroke="#848484" d="M472 875h8M472 883h8M400 891h8M520 891h8M536 891h8M464 915h8M464 923h8M104 939h8M128 947h8M336 947h8M184 955h16M232 955h8M472 995h8M520 1019h8M560 1019h8"/><path stroke="#858585" d="M504 875h8M504 883h8M472 891h8M80 931h8M464 931h8M464 939h8M136 947h8M200 955h32M528 1019h8"/><path stroke="#868686" d="M552 875h8M552 883h8M512 891h8M472 899h8M368 931h8M352 939h8M144 947h8M464 947h8M464 971h8M480 1003h8M536 1019h24"/><path stroke="#878787" d="M400 875h8M480 875h8M400 883h8M480 883h8M384 915h8M112 939h8M152 947h8M328 947h8M464 955h8M464 963h8M496 1011h8"/><path stroke="#888888" d="M496 875h8M496 883h8M504 891h8M544 891h8M392 899h8M472 907h8M376 923h8M88 931h8M160 947h8"/><path stroke="#898989" d="M488 875h8M488 883h8M480 891h8M168 947h8M248 947h8M320 947h8"/><path stroke="#8a8a8a" d="M472 915h8M344 939h8M176 947h8M240 947h8M256 947h16M472 987h8"/><path stroke="#8b8b8b" d="M560 875h8M560 883h8M488 891h16M480 899h8M96 931h8M360 931h8M120 939h8M184 947h8M232 947h8M272 947h16M312 947h8"/><path stroke="#8c8c8c" d="M392 891h8M520 899h8M472 923h8M192 947h16M224 947h8M288 947h8M504 1011h8"/><path stroke="#8d8d8d" d="M552 891h8M512 899h8M528 899h8M384 907h8M480 907h8M56 923h16M128 939h8M208 947h16M296 947h16"/><path stroke="#8e8e8e" d="M488 899h24M536 899h8M104 931h8M472 931h8M136 939h8M336 939h8M472 979h8M584 1011h16"/><path stroke="#8f8f8f" d="M392 875h8M392 883h8M72 923h8M368 923h8M144 939h8M480 995h8M488 1003h8M576 1011h8"/><path stroke="#909090" d="M568 875h8M568 883h8M376 915h8M480 915h8M352 931h8M152 939h8M472 939h8M512 1011h8"/><path stroke="#919191" d="M560 891h8M488 907h8M80 923h8M112 931h8M160 939h16M240 939h24M328 939h8M472 947h8M568 1011h8"/><path stroke="#929292" d="M384 899h8M544 899h8M496 907h8M176 939h8M232 939h8M264 939h8M472 955h8M472 971h8"/><path stroke="#939393" d="M576 875h8M576 883h8M504 907h8M88 923h8M480 923h8M184 939h16M224 939h8M272 939h8M472 963h8M520 1011h8M560 1011h8"/><path stroke="#949494" d="M584 875h16M584 883h16M512 907h8M120 931h8M200 939h24M280 939h8M320 939h8M528 1011h8"/><path stroke="#959595" d="M520 907h8M488 915h8M344 931h8M288 939h8M480 987h8M496 1003h8M536 1011h8M552 1011h8"/><path stroke="#969696" d="M384 891h8M568 891h8M552 899h8M528 907h8M96 923h8M360 923h8M128 931h8M296 939h8M312 939h8M544 1011h8"/><path stroke="#979797" d="M376 907h8M136 931h8M480 931h8M304 939h8"/><path stroke="#989898" d="M496 915h8M104 923h8M144 931h8M240 931h16"/><path stroke="#999999" d="M384 875h8M384 883h8M576 891h8M536 907h8M56 915h16M368 915h8M152 931h8M224 931h16M256 931h8M336 931h8M488 995h8M504 1003h8"/><path stroke="#9a9a9a" d="M584 891h16M560 899h8M72 915h8M504 915h8M488 923h8M160 931h16M216 931h8"/><path stroke="#9b9b9b" d="M112 923h8M352 923h8M176 931h8M200 931h16M264 931h8M480 939h8M480 979h8"/><path stroke="#9c9c9c" d="M376 899h8M544 907h8M80 915h8M512 915h8M184 931h16M272 931h8M328 931h8"/><path stroke="#9d9d9d" d="M120 923h8M576 1003h24"/><path stroke="#9e9e9e" d="M568 899h8M88 915h8M520 915h8M280 931h8M480 947h8M512 1003h8"/><path stroke="#9f9f9f" d="M128 923h8M496 923h8M288 931h8M320 931h8M480 955h8M480 971h8"/><path stroke="#a0a0a0" d="M368 907h8M552 907h8M96 915h8M360 915h8M136 923h8M216 923h40M344 923h8M488 931h8M480 963h8M496 995h8M568 1003h8"/><path stroke="#a1a1a1" d="M376 891h8M56 907h16M528 915h8M144 923h8M208 923h8M296 931h8M312 931h8M488 987h8M520 1003h8"/><path stroke="#a2a2a2" d="M576 899h8M72 907h8M104 915h8M152 923h8M256 923h8M304 931h8M560 1003h8"/><path stroke="#a3a3a3" d="M584 899h16M80 907h8M160 923h8M200 923h8M504 923h8M528 1003h8"/><path stroke="#a4a4a4" d="M376 875h8M376 883h8M56 899h16M560 907h8M112 915h8M536 915h8M168 923h8M192 923h8M264 923h8M536 1003h8M552 1003h8"/><path stroke="#a5a5a5" d="M88 907h8M120 915h8M176 923h16M336 923h8M504 995h8M544 1003h8"/><path stroke="#a6a6a6" d="M72 899h8M368 899h8M216 915h24M352 915h8M272 923h8M512 923h8M488 939h8"/><path stroke="#a7a7a7" d="M96 907h8M568 907h8M128 915h8M240 915h8M544 915h8M496 931h8"/><path stroke="#a8a8a8" d="M56 891h16M80 899h8M360 907h8M136 915h8M208 915h8M248 915h8M280 923h8M328 923h8M488 979h8"/><path stroke="#a9a9a9" d="M72 891h8M88 899h8M104 907h8M144 915h8M520 923h8M488 947h8M496 987h8"/><path stroke="#aaaaaa" d="M56 875h16M56 883h16M200 915h8M256 915h8M552 915h8M288 923h8M320 923h8M512 995h8"/><path stroke="#ababab" d="M72 875h8M72 883h8M80 891h8M368 891h8M96 899h8M112 907h8M576 907h8M152 915h8M344 915h8M584 995h16"/><path stroke="#acacac" d="M584 907h16M160 915h8M296 923h8M312 923h8M528 923h8M504 931h8M488 955h8M576 995h8"/><path stroke="#adadad" d="M80 875h8M80 883h8M88 891h8M120 907h8M216 907h16M168 915h8M192 915h8M264 915h8M560 915h8M304 923h8M488 971h8"/><path stroke="#aeaeae" d="M104 899h8M232 907h8M176 915h16M496 939h8M488 963h8M520 995h8M568 995h8"/><path stroke="#afafaf" d="M368 875h8M368 883h8M360 899h8M128 907h8M208 907h8M240 907h8M352 907h8M272 915h8M536 923h8M504 987h8"/><path stroke="#b0b0b0" d="M88 875h8M88 883h8M96 891h8M112 899h8M136 907h8M248 907h8M336 915h8M528 995h8"/><path stroke="#b1b1b1" d="M568 915h8M512 931h8M496 979h8M560 995h8"/><path stroke="#b2b2b2" d="M96 875h8M96 883h8M104 891h8M144 907h8M200 907h8M280 915h8M544 923h8M496 947h8M536 995h8"/><path stroke="#b3b3b3" d="M120 899h8M152 907h8M256 907h8M328 915h8M544 995h16"/><path stroke="#b4b4b4" d="M216 899h16M160 907h8M192 907h8M288 915h8M576 915h24M504 939h8"/><path stroke="#b5b5b5" d="M360 891h8M128 899h8M232 899h8M168 907h8M344 907h8M552 923h8M520 931h8M512 987h8"/><path stroke="#b6b6b6" d="M104 875h8M104 883h8M112 891h8M208 899h8M240 899h8M352 899h8M176 907h16M264 907h8M320 915h8M496 955h8"/><path stroke="#b7b7b7" d="M136 899h8M296 915h8M496 971h8"/><path stroke="#b8b8b8" d="M248 899h8M304 915h16M560 923h8M528 931h8M496 963h8"/><path stroke="#b9b9b9" d="M112 875h8M360 875h8M112 883h8M360 883h8M120 891h8M144 899h8M200 899h8M272 907h8M504 979h8M584 987h16"/><path stroke="#bababa" d="M512 939h8M504 947h8M520 987h8M576 987h8"/><path stroke="#bbbbbb" d="M128 891h8M216 891h16M152 899h8M336 907h8M568 923h8M536 931h8"/><path stroke="#bcbcbc" d="M232 891h8M160 899h8M192 899h8M256 899h8M280 907h8M568 987h8"/><path stroke="#bdbdbd" d="M120 875h8M120 883h8M208 891h8M168 899h8M184 899h8M576 923h24M528 987h8"/><path stroke="#bebebe" d="M136 891h8M240 891h8M352 891h8M176 899h8M344 899h8M288 907h8M328 907h8M544 931h8M504 955h8"/><path stroke="#bfbfbf" d="M264 899h8M520 939h8M536 987h8M560 987h8"/><path stroke="#c0c0c0" d="M128 875h8M216 875h16M128 883h8M216 883h16M200 891h8M248 891h8M320 907h8M504 971h8M512 979h8"/><path stroke="#c1c1c1" d="M144 891h8M296 907h8M552 931h8M512 947h8M504 963h8M544 987h16"/><path stroke="#c2c2c2" d="M208 875h8M232 875h8M208 883h8M232 883h8M272 899h8M312 907h8"/><path stroke="#c3c3c3" d="M136 875h8M240 875h8M352 875h8M136 883h8M240 883h8M352 883h8M152 891h8M192 891h8M304 907h8M560 931h8M528 939h8"/><path stroke="#c4c4c4" d="M160 891h8M184 891h8M256 891h8M336 899h8M568 931h8"/><path stroke="#c5c5c5" d="M200 875h8M200 883h8M168 891h16M512 955h8"/><path stroke="#c6c6c6" d="M144 875h8M248 875h8M144 883h8M248 883h8M344 891h8M280 899h8M576 931h24M536 939h8M520 947h8M520 979h8"/><path stroke="#c7c7c7" d="M192 875h8M192 883h8M584 979h16"/><path stroke="#c8c8c8" d="M152 875h8M152 883h8M264 891h8M288 899h8M328 899h8M512 971h8M576 979h8"/><path stroke="#c9c9c9" d="M160 875h8M184 875h8M160 883h8M184 883h8M544 939h8M512 963h8M528 979h8"/><path stroke="#cacaca" d="M168 875h16M256 875h8M168 883h16M256 883h8M320 899h8M528 947h8M568 979h8"/><path stroke="#cbcbcb" d="M296 899h8M552 939h8M520 955h8"/><path stroke="#cccccc" d="M344 875h8M344 883h8M272 891h8M560 939h8M536 979h8M560 979h8"/><path stroke="#cdcdcd" d="M336 891h8M304 899h16M568 939h8M536 947h8"/><path stroke="#cecece" d="M264 875h8M264 883h8M576 939h24M520 971h8M544 979h16"/><path stroke="#cfcfcf" d="M280 891h8M528 955h8M520 963h8"/><path stroke="#d0d0d0" d="M544 947h8"/><path stroke="#d1d1d1" d="M328 891h8"/><path stroke="#d2d2d2" d="M272 875h8M272 883h8M288 891h8M552 947h48M536 955h8M528 971h8M584 971h16"/><path stroke="#d3d3d3" d="M336 875h8M336 883h8M528 963h8M576 971h8"/><path stroke="#d4d4d4" d="M320 891h8"/><path stroke="#d5d5d5" d="M296 891h8M544 955h8M568 955h32M536 971h8M568 971h8"/><path stroke="#d6d6d6" d="M280 875h8M280 883h8M312 891h8M552 955h16M536 963h8M576 963h24"/><path stroke="#d7d7d7" d="M304 891h8M568 963h8M560 971h8"/><path stroke="#d8d8d8" d="M328 875h8M328 883h8M544 971h16"/><path stroke="#d9d9d9" d="M288 875h8M288 883h8M544 963h8M560 963h8"/><path stroke="#dadada" d="M552 963h8"/><path stroke="#dbdbdb" d="M320 875h8M320 883h8"/><path stroke="#dcdcdc" d="M296 875h8M296 883h8"/><path stroke="#dddddd" d="M312 875h8M312 883h8"/><path stroke="#dedede" d="M304 875h8M304 883h8"/></g></g></g>
<g clip-path="url(#cS2)"><path d="M80.6 894.4L93.3 897.0M105.1 894.4L118.8 893.6M129.6 894.4L144.2 893.4M154.1 894.4L169.4 892.8M178.6 894.4L194.0 891.9M203.1 894.4L218.1 892.3M227.6 894.4L242.3 893.3M252.1 894.4L267.3 893.5M276.6 894.4L292.9 893.6M301.1 894.4L318.4 894.0M325.7 894.4L342.7 895.5M350.2 894.4L365.7 895.1M374.7 894.4L387.4 894.5M399.2 894.4L408.7 892.9M423.7 894.4L431.5 892.1M448.2 894.4L455.7 890.9M472.7 894.4L481.1 890.4M497.2 894.4L506.4 890.1M521.7 894.4L531.4 894.6M546.2 894.4L555.0 899.2M570.7 894.4L580.5 900.3M80.6 915.9L91.9 918.3M105.1 915.9L117.1 918.0M129.6 915.9L142.2 917.6M154.1 915.9L167.2 915.4M178.6 915.9L192.0 915.4M203.1 915.9L216.3 915.4M227.6 915.9L240.3 915.4M252.1 915.9L265.1 915.5M276.6 915.9L290.3 916.6M301.1 915.9L315.5 916.6M325.7 915.9L339.9 916.6M350.2 915.9L363.2 916.4M374.7 915.9L385.7 915.6M399.2 915.9L407.4 914.2M423.7 915.9L430.9 914.1M448.2 915.9L455.8 913.1M472.7 915.9L481.5 911.8M497.2 915.9L507.5 911.1M521.7 915.9L533.6 913.6M546.2 915.9L558.9 918.5M570.7 915.9L583.9 920.5M80.6 937.4L88.8 938.1M105.1 937.4L114.4 938.2M129.6 937.4L139.9 938.3M154.1 937.4L164.7 938.3M178.6 937.4L189.4 938.9M203.1 937.4L214.1 938.9M227.6 937.4L238.5 938.8M252.1 937.4L262.9 937.7M276.6 937.4L287.7 937.9M301.1 937.4L312.5 938.0M325.7 937.4L336.7 938.1M350.2 937.4L360.2 938.1M374.7 937.4L383.2 937.7M399.2 937.4L405.9 935.5M423.7 937.4L429.5 935.2M448.2 937.4L454.8 933.6M472.7 937.4L481.4 932.3M497.2 937.4L508.6 930.8M521.7 937.4L535.9 932.4M546.2 937.4L562.2 935.8M570.7 937.4L587.3 937.2M80.6 958.8L86.1 957.4M105.1 958.8L111.5 957.1M129.6 958.8L137.4 957.8M154.1 958.8L162.5 959.3M178.6 958.8L187.4 959.3M203.1 958.8L212.1 959.3M227.6 958.8L236.6 959.3M252.1 958.8L261.0 959.2M276.6 958.8L285.4 957.6M301.1 958.8L309.8 957.6M325.7 958.8L334.0 957.7M350.2 958.8L357.7 957.7M374.7 958.8L381.0 957.1M399.2 958.8L404.7 956.7M423.7 958.8L428.5 955.5M448.2 958.8L454.1 954.9M472.7 958.8L481.8 954.1M497.2 958.8L510.0 952.7M521.7 958.8L536.9 952.1M546.2 958.8L562.7 952.1M570.7 958.8L587.4 952.6M80.6 980.3L84.4 978.1M105.1 980.3L109.7 978.0M129.6 980.3L134.9 978.1M154.1 980.3L159.8 978.3M178.6 980.3L184.9 979.8M203.1 980.3L209.6 979.8M227.6 980.3L234.1 979.8M252.1 980.3L258.5 979.8M276.6 980.3L282.9 979.7M301.1 980.3L307.1 978.8M325.7 980.3L331.4 978.8M350.2 980.3L355.6 978.9M374.7 980.3L379.6 978.8M399.2 980.3L403.6 977.7M423.7 980.3L427.9 976.9M448.2 980.3L453.3 976.3M472.7 980.3L481.0 975.2M497.2 980.3L508.7 973.2M521.7 980.3L535.0 972.0M546.2 980.3L560.3 971.5M570.7 980.3L584.5 971.7M80.6 1001.8L82.8 1000.0M105.1 1001.8L107.8 999.6M129.6 1001.8L132.8 999.2M154.1 1001.8L157.6 999.0M178.6 1001.8L182.9 999.9M203.1 1001.8L207.4 999.8M227.6 1001.8L231.8 999.9M252.1 1001.8L256.3 999.9M276.6 1001.8L280.7 999.9M301.1 1001.8L305.2 1000.0M325.7 1001.8L329.4 1000.1M350.2 1001.8L353.5 1000.3M374.7 1001.8L377.7 1000.3M399.2 1001.8L402.2 999.5M423.7 1001.8L427.4 998.9M448.2 1001.8L452.8 998.3M472.7 1001.8L479.2 996.8M497.2 1001.8L505.9 995.1M521.7 1001.8L531.5 994.2M546.2 1001.8L556.4 993.9M570.7 1001.8L580.5 994.2M80.6 1023.3L81.6 1022.6M105.1 1023.3L106.4 1022.4M129.6 1023.3L131.2 1022.2M154.1 1023.3L155.9 1022.1M178.6 1023.3L180.5 1022.0M203.1 1023.3L205.0 1022.0M227.6 1023.3L229.3 1022.1M252.1 1023.3L253.7 1022.3M276.6 1023.3L278.1 1022.3M301.1 1023.3L302.6 1022.3M325.7 1023.3L327.0 1022.4M350.2 1023.3L351.3 1022.5M374.7 1023.3L375.7 1022.6M399.2 1023.3L400.4 1022.5M423.7 1023.3L425.9 1021.8M448.2 1023.3L451.8 1020.5M472.7 1023.3L477.3 1019.7M497.2 1023.3L503.0 1018.8M521.7 1023.3L528.4 1018.1M546.2 1023.3L553.0 1018.0M570.7 1023.3L577.3 1018.2M80.6 1044.8L81.0 1044.5M105.1 1044.8L105.6 1044.5M129.6 1044.8L130.1 1044.5M154.1 1044.8L154.6 1044.5M178.6 1044.8L179.1 1044.5M203.1 1044.8L203.6 1044.5M227.6 1044.8L228.1 1044.5M252.1 1044.8L252.6 1044.5M276.6 1044.8L277.1 1044.5M301.1 1044.8L301.6 1044.5M325.7 1044.8L326.1 1044.5M350.2 1044.8L350.7 1044.5M374.7 1044.8L375.2 1044.5M399.2 1044.8L399.7 1044.5M423.7 1044.8L424.2 1044.5M448.2 1044.8L449.6 1043.9M472.7 1044.8L475.1 1043.1M497.2 1044.8L500.6 1042.5M521.7 1044.8L525.5 1042.2M546.2 1044.8L550.2 1042.1M570.7 1044.8L574.6 1042.1" stroke="#111" stroke-width="0.6" fill="none"/><path d="M97.5 897.9L93.1 898.2L93.6 895.9ZM123.0 893.4L118.9 894.8L118.8 892.5ZM148.4 893.1L144.3 894.6L144.1 892.2ZM173.5 892.4L169.5 894.0L169.3 891.6ZM198.2 891.3L194.2 893.1L193.9 890.8ZM222.3 891.7L218.3 893.5L218.0 891.1ZM246.4 893.1L242.3 894.5L242.2 892.2ZM271.4 893.2L267.3 894.7L267.2 892.3ZM297.1 893.4L293.0 894.8L292.8 892.4ZM322.6 893.9L318.4 895.1L318.3 892.8ZM346.9 895.8L342.6 896.7L342.7 894.3ZM369.9 895.3L365.6 896.3L365.7 894.0ZM391.6 894.5L387.4 895.6L387.5 893.3ZM412.8 892.2L408.8 894.0L408.5 891.7ZM435.6 891.0L431.9 893.2L431.2 891.0ZM459.5 889.1L456.2 891.9L455.2 889.8ZM484.9 888.7L481.6 891.5L480.6 889.4ZM510.2 888.3L506.9 891.1L505.9 889.0ZM535.6 894.8L531.4 895.8L531.5 893.5ZM558.7 901.2L554.4 900.2L555.6 898.1ZM584.1 902.5L579.9 901.3L581.1 899.3ZM96.0 919.1L91.7 919.4L92.1 917.1ZM121.2 918.7L116.9 919.1L117.3 916.8ZM146.4 918.1L142.1 918.7L142.4 916.4ZM171.4 915.2L167.3 916.6L167.2 914.2ZM196.2 915.2L192.1 916.6L192.0 914.2ZM220.5 915.2L216.3 916.6L216.2 914.2ZM244.5 915.3L240.4 916.6L240.3 914.2ZM269.3 915.4L265.1 916.7L265.0 914.3ZM294.5 916.8L290.2 917.7L290.3 915.4ZM319.7 916.8L315.5 917.8L315.6 915.4ZM344.1 916.8L339.8 917.8L339.9 915.4ZM367.4 916.6L363.2 917.6L363.3 915.3ZM389.9 915.5L385.7 916.8L385.7 914.4ZM411.5 913.4L407.6 915.4L407.2 913.1ZM435.0 913.1L431.2 915.3L430.6 913.0ZM459.7 911.6L456.2 914.2L455.4 912.0ZM485.3 910.0L481.9 912.8L481.0 910.7ZM511.3 909.3L508.0 912.1L507.0 910.0ZM537.7 912.9L533.8 914.8L533.4 912.5ZM563.0 919.4L558.7 919.7L559.1 917.4ZM587.9 921.9L583.5 921.6L584.3 919.4ZM93.0 938.4L88.7 939.2L88.9 936.9ZM118.6 938.5L114.3 939.3L114.5 937.0ZM144.1 938.6L139.8 939.4L140.0 937.1ZM168.9 938.7L164.6 939.5L164.8 937.1ZM193.6 939.5L189.3 940.0L189.6 937.7ZM218.2 939.5L213.9 940.1L214.2 937.7ZM242.7 939.3L238.4 940.0L238.7 937.6ZM267.1 937.9L262.8 938.9L262.9 936.6ZM291.9 938.1L287.6 939.0L287.7 936.7ZM316.7 938.2L312.5 939.2L312.6 936.8ZM340.9 938.4L336.6 939.3L336.8 936.9ZM364.3 938.5L360.1 939.3L360.2 937.0ZM387.4 937.8L383.2 938.8L383.2 936.5ZM409.9 934.4L406.2 936.6L405.5 934.4ZM433.5 933.8L429.9 936.3L429.1 934.1ZM458.4 931.5L455.4 934.6L454.2 932.5ZM485.0 930.2L482.0 933.3L480.8 931.3ZM512.3 928.7L509.2 931.8L508.1 929.7ZM539.9 931.0L536.3 933.5L535.5 931.3ZM566.4 935.4L562.4 937.0L562.1 934.6ZM591.5 937.2L587.4 938.4L587.3 936.0ZM89.8 956.4L86.4 958.4L85.8 956.3ZM115.6 956.1L111.8 958.3L111.2 956.0ZM141.6 957.2L137.6 959.0L137.3 956.6ZM166.7 959.5L162.4 960.5L162.5 958.1ZM191.6 959.5L187.3 960.5L187.4 958.1ZM216.3 959.5L212.0 960.5L212.2 958.1ZM240.8 959.5L236.5 960.5L236.7 958.1ZM265.2 959.3L260.9 960.3L261.0 958.0ZM289.5 957.0L285.5 958.8L285.2 956.5ZM314.0 957.0L310.0 958.8L309.7 956.5ZM338.1 957.1L334.1 958.8L333.8 956.5ZM361.8 957.0L357.8 958.8L357.5 956.5ZM385.0 956.0L381.3 958.2L380.6 956.0ZM408.5 955.3L405.1 957.8L404.4 955.7ZM431.7 953.3L429.1 956.4L427.9 954.6ZM457.6 952.6L454.8 955.9L453.4 953.9ZM485.6 952.1L482.4 955.1L481.3 953.0ZM513.8 950.8L510.5 953.7L509.5 951.6ZM540.8 950.3L537.4 953.1L536.5 951.0ZM566.6 950.5L563.1 953.2L562.2 951.0ZM591.3 951.2L587.8 953.7L587.0 951.5ZM87.0 976.6L84.8 978.9L84.0 977.4ZM112.7 976.5L110.1 978.9L109.2 977.2ZM138.5 976.5L135.3 979.1L134.5 977.1ZM163.7 977.0L160.2 979.4L159.5 977.3ZM189.1 979.4L185.0 981.0L184.8 978.6ZM213.8 979.4L209.7 981.0L209.5 978.6ZM238.3 979.4L234.2 981.0L234.0 978.6ZM262.7 979.4L258.6 981.0L258.4 978.6ZM287.0 979.3L283.0 980.9L282.7 978.5ZM311.0 977.7L307.4 979.9L306.8 977.6ZM335.2 977.8L331.7 979.9L331.1 977.7ZM359.2 977.9L355.8 979.9L355.3 977.9ZM383.0 977.8L379.9 979.7L379.4 977.9ZM406.5 975.9L404.1 978.5L403.1 976.8ZM430.6 974.5L428.5 977.6L427.2 976.1ZM456.6 973.7L454.0 977.2L452.5 975.4ZM484.6 972.9L481.6 976.2L480.4 974.2ZM512.2 971.0L509.3 974.2L508.0 972.2ZM538.6 969.8L535.7 973.0L534.4 971.0ZM563.9 969.3L561.0 972.5L559.7 970.5ZM588.1 969.5L585.2 972.7L583.9 970.7ZM85.1 998.1L83.3 1000.6L82.2 999.4ZM110.1 997.6L108.3 1000.2L107.2 998.9ZM135.1 997.2L133.3 999.8L132.2 998.5ZM159.9 997.1L158.1 999.6L157.0 998.3ZM185.7 998.5L183.2 1000.7L182.5 999.1ZM210.3 998.5L207.8 1000.6L207.0 999.0ZM234.7 998.6L232.2 1000.7L231.5 999.1ZM259.1 998.6L256.6 1000.7L255.9 999.1ZM283.5 998.7L281.1 1000.7L280.4 999.2ZM307.9 998.7L305.5 1000.7L304.8 999.2ZM332.1 998.8L329.8 1000.9L329.0 999.3ZM356.2 999.0L353.9 1001.0L353.2 999.5ZM380.4 998.9L378.1 1001.1L377.3 999.6ZM404.6 997.6L402.7 1000.2L401.7 998.8ZM429.9 997.0L428.0 999.6L426.9 998.2ZM455.8 995.9L453.5 999.1L452.1 997.4ZM482.5 994.2L480.0 997.7L478.5 995.8ZM509.2 992.5L506.6 996.0L505.2 994.1ZM534.8 991.6L532.2 995.1L530.8 993.3ZM559.7 991.3L557.1 994.8L555.7 993.0ZM583.8 991.6L581.2 995.1L579.8 993.3ZM84.0 1020.9L82.0 1023.3L81.1 1021.9ZM108.8 1020.6L106.9 1023.1L105.9 1021.7ZM133.6 1020.4L131.7 1022.9L130.7 1021.5ZM158.3 1020.3L156.3 1022.8L155.4 1021.4ZM182.9 1020.2L181.0 1022.7L180.0 1021.3ZM207.4 1020.3L205.4 1022.7L204.5 1021.3ZM231.7 1020.4L229.8 1022.8L228.8 1021.5ZM256.1 1020.5L254.1 1022.9L253.2 1021.6ZM280.6 1020.5L278.6 1023.0L277.7 1021.6ZM305.1 1020.6L303.1 1023.0L302.2 1021.6ZM329.5 1020.7L327.5 1023.1L326.5 1021.7ZM353.8 1020.8L351.8 1023.2L350.8 1021.9ZM378.1 1020.9L376.2 1023.3L375.2 1022.0ZM402.9 1020.7L400.9 1023.1L400.0 1021.8ZM428.4 1020.0L426.4 1022.4L425.4 1021.1ZM454.2 1018.6L452.4 1021.2L451.3 1019.8ZM480.4 1017.3L478.0 1020.6L476.7 1018.9ZM506.3 1016.2L503.7 1019.8L502.3 1017.9ZM531.7 1015.6L529.1 1019.1L527.7 1017.2ZM556.4 1015.4L553.8 1019.0L552.3 1017.1ZM580.6 1015.7L578.0 1019.2L576.6 1017.3ZM83.5 1042.8L81.5 1045.2L80.6 1043.8ZM108.0 1042.8L106.0 1045.2L105.1 1043.8ZM132.5 1042.8L130.5 1045.2L129.6 1043.8ZM157.0 1042.8L155.1 1045.2L154.1 1043.8ZM181.5 1042.8L179.6 1045.2L178.6 1043.8ZM206.1 1042.8L204.1 1045.2L203.1 1043.8ZM230.6 1042.8L228.6 1045.2L227.6 1043.8ZM255.1 1042.8L253.1 1045.2L252.1 1043.8ZM279.6 1042.8L277.6 1045.2L276.6 1043.8ZM304.1 1042.8L302.1 1045.2L301.2 1043.8ZM328.6 1042.8L326.6 1045.2L325.7 1043.8ZM353.1 1042.8L351.1 1045.2L350.2 1043.8ZM377.6 1042.8L375.6 1045.2L374.7 1043.8ZM402.1 1042.8L400.2 1045.2L399.2 1043.8ZM426.6 1042.8L424.7 1045.2L423.7 1043.8ZM452.1 1042.1L450.1 1044.6L449.1 1043.2ZM477.6 1041.4L475.6 1043.8L474.7 1042.5ZM503.0 1040.8L501.0 1043.2L500.1 1041.8ZM528.1 1040.4L526.0 1042.9L525.0 1041.5ZM552.8 1040.3L550.7 1042.8L549.6 1041.4ZM577.2 1040.3L575.1 1042.9L574.1 1041.4Z" fill="#000"/></g>
<rect x="68.3" y="883.6" width="514.7" height="172.0" fill="none" stroke="#111" stroke-width="1"/>
<g clip-path="url(#cS3)"><g filter="url(#jet)"><rect x="626" y="871" width="461" height="194" fill="#000"/><g stroke-width="9" fill="none" shape-rendering="crispEdges"><path stroke="#000000" d="M1058 963h32M1042 971h48M1026 979h64M986 987h104M922 995h168M914 1003h176M914 1011h176M914 1019h176M914 1027h176M914 1035h176M914 1043h176M914 1051h176M914 1059h176M914 1067h176"/><path stroke="#010101" d="M1074 939h16M1050 947h40M1018 955h72M1002 963h56M978 971h64M938 979h88M914 987h72M914 995h8M906 1003h8M906 1011h8M906 1019h8M906 1027h8M906 1035h8M906 1043h8M906 1051h8M906 1059h8M906 1067h8"/><path stroke="#020202" d="M1074 923h16M1058 931h32M1034 939h40M986 947h64M970 955h48M962 963h40M930 971h48M914 979h24M906 995h8M898 1011h8M898 1019h8M898 1027h8M898 1035h8M898 1043h8M898 1051h8M898 1059h8M898 1067h8"/><path stroke="#030303" d="M1066 915h24M1058 923h16M1042 931h16M1002 939h32M962 947h24M954 955h16M938 963h24M922 971h8M906 987h8M898 1003h8M890 1019h8M890 1027h8M890 1035h8M890 1043h8M890 1051h8M890 1059h8M890 1067h8"/><path stroke="#040404" d="M1058 915h8M1050 923h8M1026 931h16M978 939h24M954 947h8M946 955h8M930 963h8M914 971h8M906 979h8M898 995h8M890 1011h8M882 1051h8M882 1059h8M882 1067h8"/><path stroke="#050505" d="M1066 907h24M1050 915h8M1034 923h16M1010 931h16M970 939h8M946 947h8M938 955h8M922 963h8M906 971h8M898 987h8M890 1003h8M882 1043h8"/><path stroke="#060606" d="M1058 907h8M1042 915h8M1026 923h8M994 931h16M962 939h8M938 947h8M930 955h8M914 963h8M898 979h8M890 995h8M882 1027h8M882 1035h8"/><path stroke="#070707" d="M1074 899h16M1034 915h8M1018 923h8M986 931h8M954 939h8M890 987h8M882 1019h8M874 1051h8M874 1059h8M874 1067h8"/><path stroke="#080808" d="M1066 899h8M1050 907h8M1026 915h8M1010 923h8M978 931h8M946 939h8M922 955h8M898 971h8M882 1011h8M874 1043h8"/><path stroke="#090909" d="M1074 891h16M1058 899h8M1042 907h8M1018 915h8M1002 923h8M970 931h8M930 947h8M906 963h8M890 979h8M882 1003h8M874 1035h8M866 1059h8M866 1067h8"/><path stroke="#0a0a0a" d="M1066 891h8M1034 907h8M994 923h8M938 939h8M914 955h8M866 1051h8"/><path stroke="#0b0b0b" d="M1074 875h16M1074 883h16M1050 899h8M1026 907h8M1010 915h8M986 923h8M962 931h8M922 947h8M890 971h8M882 995h8M874 1027h8M866 1043h8M858 1059h8M858 1067h8"/><path stroke="#0c0c0c" d="M1066 875h8M1066 883h8M1058 891h8M1002 915h8M954 931h8M898 963h8M874 1019h8M858 1051h8M850 1059h8M850 1067h8"/><path stroke="#0d0d0d" d="M1042 899h8M1018 907h8M978 923h8M882 987h8M866 1035h8M842 1051h16M834 1059h16M834 1067h16"/><path stroke="#0e0e0e" d="M1050 891h8M1034 899h8M1010 907h8M994 915h8M930 939h8M906 955h8M874 1011h8M858 1043h8M826 1051h16M818 1059h16M818 1067h16"/><path stroke="#0f0f0f" d="M1058 875h8M1058 883h8M970 923h8M946 931h8M914 947h8M882 979h8M866 1027h8M850 1043h8M810 1051h16M802 1059h16M802 1067h16"/><path stroke="#101010" d="M1026 899h8M1002 907h8M986 915h8M874 1003h8M858 1035h8M842 1043h8M786 1051h24M778 1059h24M778 1067h24"/><path stroke="#111111" d="M1050 875h8M1050 883h8M1042 891h8M1018 899h8M962 923h8M922 939h8M890 963h8M866 1019h8M826 1043h16M770 1051h16M762 1059h16M762 1067h16"/><path stroke="#121212" d="M994 907h8M978 915h8M938 931h8M882 971h8M874 995h8M858 1027h8M850 1035h8M810 1043h16M754 1051h16M746 1059h16M746 1067h16"/><path stroke="#131313" d="M1034 891h8M1010 899h8M898 955h8M866 1011h8M842 1035h8M786 1043h24M738 1051h16M738 1059h8M738 1067h8"/><path stroke="#141414" d="M1042 875h8M1042 883h8M1026 891h8M970 915h8M954 923h8M906 947h8M850 1027h8M834 1035h8M770 1043h16M730 1051h8M730 1059h8M730 1067h8"/><path stroke="#151515" d="M1002 899h8M986 907h8M874 987h8M866 1003h8M858 1019h8M826 1035h8M754 1043h16M722 1051h8M722 1059h8M722 1067h8"/><path stroke="#161616" d="M1034 875h8M1034 883h8M1018 891h8M914 939h8M842 1027h8M810 1035h16M746 1043h8"/><path stroke="#171717" d="M994 899h8M978 907h8M946 923h8M930 931h8M858 1011h8M850 1019h8M834 1027h8M778 1035h32M738 1043h8M714 1051h8M714 1059h8M714 1067h8"/><path stroke="#181818" d="M1026 875h8M1026 883h8M1010 891h8M962 915h8M874 979h8M866 995h8M826 1027h8M762 1035h16M730 1043h8"/><path stroke="#191919" d="M890 955h8M882 963h8M842 1019h8M818 1027h8M754 1035h8M722 1043h8M706 1059h8M706 1067h8"/><path stroke="#1a1a1a" d="M1018 875h8M1018 883h8M1002 891h8M986 899h8M970 907h8M858 1003h8M850 1011h8M810 1027h8M746 1035h8M706 1051h8"/><path stroke="#1b1b1b" d="M1010 875h8M1010 883h8M954 915h8M898 947h8M866 987h8M834 1019h8M770 1027h40M738 1035h8M714 1043h8"/><path stroke="#1c1c1c" d="M994 891h8M938 923h8M874 971h8M850 1003h8M842 1011h8M826 1019h8M762 1027h8M730 1035h8M698 1051h8M698 1059h8M698 1067h8"/><path stroke="#1d1d1d" d="M1002 875h8M1002 883h8M978 899h8M922 931h8M906 939h8M858 995h8M818 1019h8M754 1027h8"/><path stroke="#1e1e1e" d="M834 1011h8M778 1019h40M746 1027h8M722 1035h8M706 1043h8"/><path stroke="#1f1f1f" d="M986 891h8M962 907h8M866 979h8M842 1003h8M826 1011h8M770 1019h8M738 1027h8M690 1059h8M690 1067h8"/><path stroke="#202020" d="M994 875h8M994 883h8M970 899h8M946 915h8M850 995h8M818 1011h8M754 1019h16M690 1051h8"/><path stroke="#212121" d="M858 987h8M834 1003h8M802 1011h16M746 1019h8M730 1027h8M714 1035h8"/><path stroke="#222222" d="M978 891h8M890 947h8M882 955h8M826 1003h8M770 1011h32M698 1043h8"/><path stroke="#232323" d="M986 875h8M986 883h8M954 907h8M930 923h8M914 931h8M874 963h8M842 995h8M818 1003h8M762 1011h8M738 1019h8M722 1027h8M682 1059h8M682 1067h8"/><path stroke="#242424" d="M866 971h8M810 1003h8M754 1011h8M706 1035h8M682 1051h8"/><path stroke="#252525" d="M898 939h8M850 987h8M834 995h8M770 1003h40M746 1011h8M730 1019h8"/><path stroke="#262626" d="M978 875h8M978 883h8M970 891h8M962 899h8M938 915h8M858 979h8M762 1003h8M714 1027h8M690 1043h8"/><path stroke="#272727" d="M826 995h8M754 1003h8M738 1011h8M722 1019h8M674 1059h8M674 1067h8"/><path stroke="#282828" d="M842 987h8M810 995h16M746 1003h8M698 1035h8M674 1051h8"/><path stroke="#292929" d="M946 907h8M778 995h32M730 1011h8"/><path stroke="#2a2a2a" d="M970 875h8M970 883h8M850 979h8M834 987h8M770 995h8M706 1027h8"/><path stroke="#2b2b2b" d="M922 923h8M858 971h8M762 995h8M738 1003h8M714 1019h8M682 1043h8"/><path stroke="#2c2c2c" d="M962 891h8M954 899h8M906 931h8M866 963h8M826 987h8M754 995h8M722 1011h8M666 1059h8M666 1067h8"/><path stroke="#2d2d2d" d="M882 947h8M842 979h8M746 995h8M730 1003h8M690 1035h8M666 1051h8"/><path stroke="#2e2e2e" d="M890 939h8M874 955h8M818 987h8"/><path stroke="#2f2f2f" d="M930 915h8M802 987h16M698 1027h8"/><path stroke="#303030" d="M850 971h8M770 987h32M738 995h8M714 1011h8M706 1019h8M674 1043h8M658 1059h8M658 1067h8"/><path stroke="#313131" d="M938 907h8M834 979h8M762 987h8M722 1003h8M658 1051h8"/><path stroke="#323232" d="M962 875h8M962 883h8M946 899h8M754 987h8"/><path stroke="#333333" d="M914 923h8M858 963h8M826 979h8M730 995h8M682 1035h8"/><path stroke="#343434" d="M954 891h8M842 971h8M818 979h8M746 987h8M690 1027h8"/><path stroke="#353535" d="M898 931h8M650 1059h8M650 1067h8"/><path stroke="#363636" d="M810 979h8M722 995h8M714 1003h8M706 1011h8M698 1019h8M666 1043h8M650 1051h8"/><path stroke="#373737" d="M866 955h8M834 971h8M778 979h32M738 987h8"/><path stroke="#383838" d="M850 963h8M770 979h8"/><path stroke="#393939" d="M922 915h8M882 939h8M874 947h8M762 979h8M642 1059h8M642 1067h8"/><path stroke="#3a3a3a" d="M954 875h8M954 883h8M826 971h8M754 979h8M730 987h8M674 1035h8M642 1051h8"/><path stroke="#3b3b3b" d="M930 907h8"/><path stroke="#3c3c3c" d="M946 891h8M938 899h8M842 963h8M818 971h8M746 979h8M714 995h8M690 1019h8M682 1027h8M658 1043h8M626 1059h16M626 1067h16"/><path stroke="#3d3d3d" d="M906 923h8M810 971h8M722 987h8M706 1003h8M698 1011h8M626 1051h16"/><path stroke="#3e3e3e" d="M890 931h8M858 955h8M802 971h8M738 979h8"/><path stroke="#3f3f3f" d="M778 971h24"/><path stroke="#404040" d="M834 963h8M770 971h8"/><path stroke="#414141" d="M762 971h8M730 979h8M666 1035h8M650 1043h8"/><path stroke="#424242" d="M866 947h8M754 971h8M714 987h8"/><path stroke="#434343" d="M946 875h8M946 883h8M914 915h8M850 955h8M826 963h8M706 995h8"/><path stroke="#444444" d="M746 971h8M722 979h8M698 1003h8M674 1027h8"/><path stroke="#454545" d="M874 939h8M818 963h8M690 1011h8M682 1019h8"/><path stroke="#464646" d="M922 907h8M810 963h8M738 971h8M642 1043h8"/><path stroke="#474747" d="M938 891h8M898 923h8M842 955h8"/><path stroke="#484848" d="M930 899h8M786 963h24"/><path stroke="#494949" d="M882 931h8M858 947h8M770 963h16M730 971h8M714 979h8M706 987h8M658 1035h8M626 1043h16"/><path stroke="#4b4b4b" d="M834 955h8M762 963h8M698 995h8"/><path stroke="#4c4c4c" d="M754 963h8M722 971h8"/><path stroke="#4d4d4d" d="M690 1003h8M666 1027h8"/><path stroke="#4e4e4e" d="M850 947h8M826 955h8M746 963h8M682 1011h8M674 1019h8"/><path stroke="#4f4f4f" d="M938 875h8M938 883h8M906 915h8M866 939h8M650 1035h8"/><path stroke="#505050" d="M818 955h8M738 963h8M714 971h8M706 979h8"/><path stroke="#515151" d="M890 923h8M810 955h8M698 987h8"/><path stroke="#525252" d="M914 907h8M730 963h8"/><path stroke="#535353" d="M922 899h8M842 947h8M794 955h16"/><path stroke="#545454" d="M930 891h8M874 931h8M778 955h16M722 963h8M690 995h8"/><path stroke="#555555" d="M770 955h8M658 1027h8M642 1035h8"/><path stroke="#565656" d="M858 939h8M834 947h8M762 955h8"/><path stroke="#575757" d="M754 955h8M706 971h8M698 979h8"/><path stroke="#585858" d="M714 963h8M682 1003h8M666 1019h8M626 1035h16"/><path stroke="#595959" d="M898 915h8M826 947h8M746 955h8M674 1011h8"/><path stroke="#5a5a5a" d="M738 955h8"/><path stroke="#5b5b5b" d="M882 923h8M850 939h8M818 947h8M690 987h8"/><path stroke="#5c5c5c" d="M730 955h8"/><path stroke="#5d5d5d" d="M930 875h8M930 883h8M866 931h8M810 947h8M698 971h8M650 1027h8"/><path stroke="#5e5e5e" d="M906 907h8M802 947h8M722 955h8M706 963h8"/><path stroke="#5f5f5f" d="M914 899h8M842 939h8M786 947h16"/><path stroke="#606060" d="M922 891h8M778 947h8M682 995h8"/><path stroke="#616161" d="M770 947h8M714 955h8M690 979h8"/><path stroke="#626262" d="M834 939h8M762 947h8M658 1019h8"/><path stroke="#636363" d="M890 915h8M754 947h8M674 1003h8M666 1011h8M642 1027h8"/><path stroke="#646464" d="M874 923h8M858 931h8M746 947h8M698 963h8"/><path stroke="#656565" d="M826 939h8M738 947h8"/><path stroke="#666666" d="M730 947h8M706 955h8M690 971h8"/><path stroke="#676767" d="M818 939h8M682 987h8M626 1027h16"/><path stroke="#686868" d="M810 939h8M722 947h8"/><path stroke="#696969" d="M898 907h8M850 931h8"/><path stroke="#6a6a6a" d="M922 875h8M922 883h8M802 939h8M714 947h8"/><path stroke="#6b6b6b" d="M786 939h16M698 955h8M650 1019h8"/><path stroke="#6c6c6c" d="M906 899h8M882 915h8M842 931h8M778 939h8M690 963h8M674 995h8"/><path stroke="#6d6d6d" d="M914 891h8M866 923h8M762 939h16M682 979h8"/><path stroke="#6e6e6e" d="M754 939h8M706 947h8M666 1003h8M658 1011h8"/><path stroke="#6f6f6f" d="M746 939h8"/><path stroke="#707070" d="M834 931h8M730 939h16"/><path stroke="#717171" d="M722 939h8M698 947h8M690 955h8"/><path stroke="#727272" d="M890 907h8M826 931h8M642 1019h8"/><path stroke="#737373" d="M858 923h8M714 939h8M682 971h8"/><path stroke="#747474" d="M874 915h8M818 931h8M674 987h8"/><path stroke="#757575" d="M810 931h8M706 939h8"/><path stroke="#767676" d="M802 931h8M626 1019h16"/><path stroke="#777777" d="M914 875h8M914 883h8M898 899h8M850 923h8M794 931h8M690 947h8"/><path stroke="#787878" d="M778 931h16M698 939h8M682 963h8M666 995h8"/><path stroke="#797979" d="M906 891h8M746 931h32M650 1011h8"/><path stroke="#7a7a7a" d="M882 907h8M722 931h24M674 979h8M658 1003h8"/><path stroke="#7b7b7b" d="M866 915h8M842 923h8M714 931h8"/><path stroke="#7c7c7c" d="M706 931h8M690 939h8M682 955h8"/><path stroke="#7d7d7d" d="M834 923h8"/><path stroke="#7e7e7e" d="M890 899h8M698 931h8"/><path stroke="#7f7f7f" d="M666 987h8"/><path stroke="#808080" d="M826 923h8M682 947h8M674 971h8M642 1011h8"/><path stroke="#818181" d="M874 907h8M818 923h8"/><path stroke="#828282" d="M858 915h8M722 923h8M810 923h8M690 931h8"/><path stroke="#838383" d="M906 875h8M906 883h8M898 891h8M706 923h16M730 923h16M802 923h8"/><path stroke="#848484" d="M746 923h56M682 939h8M674 963h8M626 1011h16"/><path stroke="#858585" d="M882 899h8M850 915h8M698 923h8M658 995h8"/><path stroke="#868686" d="M626 875h16M626 883h16M666 979h8M650 1003h8"/><path stroke="#878787" d="M866 907h8M690 923h8M674 955h8"/><path stroke="#888888" d="M842 915h8M682 931h8"/><path stroke="#8a8a8a" d="M642 875h8M642 883h8M890 891h8M706 915h16M674 947h8"/><path stroke="#8b8b8b" d="M874 899h8M698 915h8M722 915h8M834 915h8M682 923h8M666 971h8"/><path stroke="#8c8c8c" d="M690 915h8M730 915h8M674 939h8M658 987h8"/><path stroke="#8d8d8d" d="M898 875h8M898 883h8M626 891h16M858 907h8M738 915h8M826 915h8"/><path stroke="#8e8e8e" d="M650 875h8M650 883h8M682 915h8M746 915h8M818 915h8M674 931h8M642 1003h8"/><path stroke="#8f8f8f" d="M642 891h8M754 915h16M810 915h8M666 963h8"/><path stroke="#909090" d="M882 891h8M866 899h8M690 907h24M850 907h8M770 915h40M674 923h8"/><path stroke="#919191" d="M714 907h8M666 955h8M650 995h8"/><path stroke="#929292" d="M650 891h8M682 907h8M722 907h8M674 915h8M666 947h8"/><path stroke="#939393" d="M658 875h8M890 875h8M658 883h8M890 883h8M674 907h8M842 907h8M658 979h8M626 1003h16"/><path stroke="#949494" d="M874 891h8M690 899h8M730 907h8M666 931h8M666 939h8"/><path stroke="#959595" d="M658 891h8M674 899h16M698 899h8M858 899h8M666 915h8M666 923h8"/><path stroke="#969696" d="M666 875h8M666 883h8M666 891h8M626 899h24M666 899h8M706 899h8M666 907h8M738 907h8M834 907h8"/><path stroke="#979797" d="M674 891h16M650 899h16M714 899h8M826 907h8"/><path stroke="#989898" d="M674 875h8M882 875h8M674 883h8M882 883h8M690 891h8M658 907h8M746 907h8"/><path stroke="#999999" d="M682 875h8M682 883h8M698 891h8M866 891h8M722 899h8M850 899h8M818 907h8M658 971h8M650 987h8"/><path stroke="#9a9a9a" d="M754 907h16M810 907h8M658 915h8M642 995h8"/><path stroke="#9b9b9b" d="M690 875h8M874 875h8M690 883h8M874 883h8M706 891h8M842 899h8M770 907h40M658 923h8"/><path stroke="#9c9c9c" d="M730 899h8M650 907h8M658 963h8"/><path stroke="#9d9d9d" d="M698 875h8M698 883h8M714 891h8M858 891h8M658 931h8M658 947h8M658 955h8"/><path stroke="#9e9e9e" d="M834 899h8M642 907h8M658 939h8"/><path stroke="#9f9f9f" d="M706 875h8M866 875h8M706 883h8M866 883h8M626 907h16M626 995h16"/><path stroke="#a0a0a0" d="M722 891h8M850 891h8M738 899h8M826 899h8M650 915h8M650 979h8"/><path stroke="#a2a2a2" d="M714 875h8M858 875h8M714 883h8M858 883h8M818 899h8M642 987h8"/><path stroke="#a3a3a3" d="M842 891h8M746 899h8M810 899h8M650 923h8"/><path stroke="#a4a4a4" d="M730 891h8M754 899h8M642 915h8"/><path stroke="#a5a5a5" d="M722 875h8M722 883h8M762 899h8M794 899h16"/><path stroke="#a6a6a6" d="M850 875h8M850 883h8M834 891h8M770 899h24M650 971h8"/><path stroke="#a7a7a7" d="M626 915h16M650 931h8M626 987h16"/><path stroke="#a8a8a8" d="M826 891h8"/><path stroke="#a9a9a9" d="M842 875h8M842 883h8M738 891h8M642 923h8M650 939h8M650 963h8M642 979h8"/><path stroke="#aaaaaa" d="M730 875h8M730 883h8M818 891h8M650 947h8M650 955h8"/><path stroke="#acacac" d="M834 875h8M834 883h8M746 891h8M810 891h8"/><path stroke="#adadad" d="M626 923h16"/><path stroke="#aeaeae" d="M754 891h8M802 891h8"/><path stroke="#afafaf" d="M826 875h8M826 883h8M762 891h8M786 891h16M642 931h8M642 971h8M626 979h16"/><path stroke="#b0b0b0" d="M738 875h8M738 883h8M770 891h16"/><path stroke="#b1b1b1" d="M818 875h8M818 883h8"/><path stroke="#b2b2b2" d="M642 963h8"/><path stroke="#b3b3b3" d="M810 875h8M810 883h8M642 939h8M642 955h8"/><path stroke="#b4b4b4" d="M746 875h8M746 883h8M626 931h16M642 947h8"/><path stroke="#b5b5b5" d="M802 875h8M802 883h8M626 971h16"/><path stroke="#b6b6b6" d="M754 875h8M794 875h8M754 883h8M794 883h8"/><path stroke="#b7b7b7" d="M762 875h8M786 875h8M762 883h8M786 883h8"/><path stroke="#b8b8b8" d="M770 875h16M770 883h16"/><path stroke="#b9b9b9" d="M626 939h16M626 963h16"/><path stroke="#bababa" d="M626 947h16M626 955h16"/></g></g></g>
<g clip-path="url(#cS3)"><path d="M649.1 893.6L659.5 896.4M670.9 893.6L681.4 897.4M692.8 893.6L703.0 898.3M714.6 893.6L725.1 898.5M736.4 893.6L748.7 896.1M758.3 893.6L771.5 892.3M780.1 893.6L793.3 890.9M801.9 893.6L815.2 894.6M823.8 893.6L836.0 897.8M845.6 893.6L857.3 897.1M867.4 893.6L878.6 894.8M889.2 893.6L898.8 896.2M911.1 893.6L917.7 897.4M932.9 893.6L937.3 896.0M954.7 893.6L956.9 894.6M976.6 893.6L977.1 893.8M998.4 893.6L998.9 893.8M1020.2 893.6L1020.8 893.8M1042.1 893.6L1042.6 893.8M1063.9 893.6L1064.4 893.8M649.1 914.7L661.5 915.4M670.9 914.7L681.9 915.7M692.8 914.7L702.6 917.3M714.6 914.7L723.9 918.4M736.4 914.7L746.1 918.0M758.3 914.7L768.7 913.9M780.1 914.7L790.3 911.8M801.9 914.7L812.4 913.4M823.8 914.7L834.1 915.3M845.6 914.7L855.4 915.3M867.4 914.7L876.1 914.6M889.2 914.7L895.6 916.1M911.1 914.7L915.2 917.1M932.9 914.7L934.6 915.8M954.7 914.7L955.3 915.0M976.6 914.7L977.1 915.0M998.4 914.7L998.9 915.0M1020.2 914.7L1020.8 915.0M649.1 935.9L662.6 934.0M670.9 935.9L681.8 935.8M692.8 935.9L701.3 938.1M714.6 935.9L721.7 939.5M736.4 935.9L743.4 939.2M758.3 935.9L765.8 936.4M780.1 935.9L787.1 933.8M801.9 935.9L808.6 933.3M823.8 935.9L830.3 934.0M845.6 935.9L851.5 934.3M867.4 935.9L872.6 934.9M889.2 935.9L892.1 936.5M911.1 935.9L911.6 936.1M932.9 935.9L933.5 936.1M954.7 935.9L955.3 936.1M649.1 957.1L662.4 953.5M670.9 957.1L681.4 957.0M692.8 957.1L699.8 959.5M714.6 957.1L719.6 960.4M736.4 957.1L741.1 959.8M758.3 957.1L763.2 958.6M780.1 957.1L785.0 956.2M801.9 957.1L806.3 954.8M823.8 957.1L827.7 954.4M845.6 957.1L848.9 954.8M867.4 957.1L869.6 955.7M889.2 957.1L889.8 956.8M911.1 957.1L911.7 957.2M649.1 978.2L660.8 972.8M670.9 978.2L680.3 978.6M692.8 978.2L698.3 980.7M714.6 978.2L718.3 981.2M736.4 978.2L739.2 980.6M758.3 978.2L760.9 979.8M780.1 978.2L782.8 978.5M801.9 978.2L804.4 977.3M823.8 978.2L825.8 976.9M845.6 978.2L846.9 977.2M867.4 978.2L867.9 977.8M889.2 978.2L889.7 977.8M649.1 999.4L658.3 994.1M670.9 999.4L678.3 999.2M692.8 999.4L697.4 1001.4M714.6 999.4L717.0 1001.3M736.4 999.4L737.8 1000.5M758.3 999.4L759.2 1000.1M780.1 999.4L781.0 999.8M801.9 999.4L802.9 999.3M823.8 999.4L824.5 999.1M845.6 999.4L846.1 999.1M867.4 999.4L867.9 999.0M649.1 1020.6L654.8 1016.6M670.9 1020.6L676.0 1019.6M692.8 1020.6L695.8 1021.5M714.6 1020.6L715.8 1021.5M736.4 1020.6L736.9 1021.0M758.3 1020.6L758.7 1020.9M780.1 1020.6L780.6 1020.9M801.9 1020.6L802.5 1020.6M823.8 1020.6L824.3 1020.4M845.6 1020.6L846.1 1020.3M867.4 1020.6L867.9 1020.3M649.1 1041.7L652.8 1039.6M670.9 1041.7L673.6 1042.1M692.8 1041.7L693.8 1042.1M714.6 1041.7L715.1 1042.0M736.4 1041.7L736.9 1042.1M758.3 1041.7L758.8 1042.0M780.1 1041.7L780.7 1041.9M801.9 1041.7L802.5 1041.8M823.8 1041.7L824.3 1041.6M845.6 1041.7L846.1 1041.4M867.4 1041.7L867.9 1041.4" stroke="#111" stroke-width="0.6" fill="none"/><path d="M663.6 897.5L659.2 897.5L659.8 895.2ZM685.4 898.8L681.0 898.5L681.8 896.3ZM706.8 900.0L702.5 899.3L703.5 897.2ZM728.9 900.3L724.6 899.6L725.6 897.4ZM752.8 897.0L748.4 897.3L748.9 895.0ZM775.7 891.9L771.6 893.5L771.4 891.1ZM797.4 890.1L793.5 892.1L793.1 889.8ZM819.4 894.9L815.2 895.7L815.3 893.4ZM839.9 899.2L835.6 898.9L836.4 896.7ZM861.3 898.3L857.0 898.2L857.7 896.0ZM882.8 895.2L878.5 896.0L878.8 893.6ZM902.9 897.3L898.5 897.3L899.1 895.0ZM921.3 899.5L917.1 898.4L918.2 896.4ZM940.3 897.6L936.9 896.8L937.8 895.1ZM959.6 895.8L956.5 895.3L957.2 893.8ZM979.9 895.0L976.8 894.6L977.5 893.1ZM1001.7 895.0L998.6 894.6L999.3 893.0ZM1023.6 894.9L1020.5 894.6L1021.1 893.0ZM1045.4 894.9L1042.3 894.6L1042.9 893.0ZM1067.3 894.8L1064.2 894.6L1064.7 893.0ZM665.7 915.6L661.4 916.6L661.6 914.2ZM686.1 916.1L681.8 916.9L682.0 914.5ZM706.7 918.3L702.3 918.4L702.9 916.1ZM727.8 919.9L723.4 919.5L724.3 917.3ZM750.1 919.3L745.7 919.1L746.5 916.8ZM772.9 913.6L768.8 915.1L768.6 912.8ZM794.3 910.6L790.6 912.9L789.9 910.6ZM816.6 912.8L812.5 914.5L812.2 912.2ZM838.3 915.5L834.0 916.4L834.1 914.1ZM859.6 915.6L855.3 916.5L855.4 914.2ZM880.3 914.6L876.1 915.8L876.1 913.5ZM899.7 917.0L895.4 917.3L895.9 915.0ZM918.0 918.7L914.8 917.9L915.7 916.3ZM937.2 917.4L934.2 916.5L935.0 915.1ZM957.9 916.5L954.8 915.8L955.7 914.3ZM979.7 916.5L976.7 915.8L977.5 914.3ZM1001.6 916.4L998.5 915.8L999.3 914.3ZM1023.4 916.4L1020.4 915.8L1021.1 914.3ZM666.8 933.4L662.8 935.2L662.4 932.8ZM686.0 935.8L681.8 937.0L681.8 934.7ZM705.4 939.1L701.1 939.2L701.6 936.9ZM725.5 941.4L721.2 940.6L722.2 938.5ZM747.2 941.0L742.9 940.2L743.9 938.1ZM770.0 936.6L765.7 937.5L765.8 935.2ZM791.2 932.6L787.5 934.9L786.8 932.7ZM812.5 931.7L809.0 934.4L808.1 932.2ZM834.3 932.8L830.6 935.1L829.9 932.9ZM855.5 933.3L851.8 935.4L851.2 933.2ZM876.1 934.2L872.8 935.8L872.4 933.9ZM895.1 937.1L892.0 937.3L892.3 935.7ZM914.5 937.1L911.4 936.9L911.9 935.3ZM936.3 937.1L933.2 936.9L933.8 935.3ZM958.1 937.1L955.0 936.9L955.6 935.3ZM666.5 952.4L662.7 954.6L662.1 952.4ZM685.6 956.9L681.4 958.1L681.4 955.8ZM703.8 960.8L699.4 960.6L700.2 958.3ZM722.9 962.6L718.9 961.3L720.2 959.4ZM744.3 961.7L740.6 960.7L741.7 959.0ZM766.5 959.6L762.9 959.5L763.5 957.7ZM788.3 955.6L785.2 957.1L784.8 955.3ZM809.2 953.3L806.7 955.6L805.9 954.0ZM830.3 952.7L828.1 955.2L827.2 953.7ZM851.3 953.0L849.4 955.5L848.4 954.1ZM872.2 954.2L870.1 956.4L869.2 955.0ZM892.4 955.3L890.2 957.5L889.3 956.0ZM914.6 957.8L911.5 958.0L911.8 956.4ZM664.6 971.0L661.3 973.9L660.3 971.7ZM684.5 978.7L680.3 979.7L680.4 977.4ZM702.0 982.3L697.9 981.7L698.8 979.6ZM720.7 983.1L717.7 981.9L718.8 980.5ZM741.5 982.5L738.7 981.2L739.8 979.9ZM763.4 981.4L760.4 980.5L761.3 979.1ZM785.8 978.7L782.7 979.3L782.9 977.6ZM807.3 976.3L804.7 978.1L804.1 976.5ZM828.3 975.3L826.2 977.6L825.3 976.2ZM849.3 975.3L847.5 977.8L846.4 976.5ZM870.2 975.9L868.4 978.5L867.3 977.2ZM892.0 975.9L890.2 978.5L889.2 977.2ZM662.0 992.0L658.9 995.1L657.7 993.1ZM682.5 999.2L678.4 1000.4L678.3 998.1ZM700.5 1002.7L697.0 1002.3L697.8 1000.5ZM719.3 1003.2L716.5 1002.0L717.5 1000.7ZM740.1 1002.5L737.3 1001.2L738.3 999.9ZM761.7 1001.8L758.7 1000.8L759.7 999.4ZM783.8 1000.9L780.7 1000.5L781.3 999.0ZM805.9 999.1L802.9 1000.2L802.8 998.5ZM827.2 997.8L824.8 999.8L824.1 998.3ZM848.6 997.4L846.6 999.8L845.6 998.4ZM870.4 997.3L868.4 999.7L867.4 998.4ZM658.2 1014.2L655.5 1017.5L654.1 1015.6ZM679.4 1018.9L676.2 1020.5L675.9 1018.6ZM698.6 1022.5L695.5 1022.3L696.0 1020.7ZM718.1 1023.3L715.3 1022.2L716.3 1020.8ZM739.0 1023.1L736.3 1021.6L737.5 1020.4ZM761.0 1022.9L758.2 1021.6L759.3 1020.3ZM783.2 1022.4L780.2 1021.6L781.0 1020.2ZM805.5 1020.9L802.4 1021.5L802.6 1019.8ZM827.2 1019.6L824.6 1021.2L824.1 1019.6ZM848.8 1018.9L846.5 1021.0L845.7 1019.5ZM870.5 1018.8L868.4 1021.0L867.5 1019.5ZM655.4 1038.1L653.2 1040.3L652.4 1038.9ZM676.5 1042.6L673.4 1042.9L673.7 1041.3ZM696.6 1043.1L693.5 1042.9L694.0 1041.3ZM717.7 1043.5L714.7 1042.7L715.5 1041.3ZM739.4 1043.8L736.5 1042.8L737.4 1041.4ZM761.4 1043.6L758.4 1042.7L759.2 1041.3ZM783.4 1043.0L780.3 1042.7L781.0 1041.2ZM805.5 1042.0L802.5 1042.6L802.6 1040.9ZM827.2 1040.7L824.6 1042.4L824.1 1040.7ZM848.8 1040.0L846.5 1042.2L845.7 1040.7ZM870.5 1039.9L868.4 1042.1L867.5 1040.7Z" fill="#000"/></g>
<rect x="638.2" y="883.0" width="436.6" height="169.3" fill="none" stroke="#111" stroke-width="1"/>
<g clip-path="url(#cS4)"><g filter="url(#jet)"><rect x="51" y="1090" width="650" height="195" fill="#000"/><g stroke-width="9" fill="none" shape-rendering="crispEdges"><path stroke="#020202" d="M171 1214h8M171 1222h16M171 1230h16M171 1238h16M171 1246h16M555 1270h32M555 1278h32M555 1286h32"/><path stroke="#030303" d="M155 1174h16M155 1182h24M155 1190h32M147 1198h40M147 1206h48M147 1214h24M179 1214h24M147 1222h24M187 1222h24M147 1230h24M187 1230h24M139 1238h32M187 1238h24M139 1246h32M187 1246h40M131 1254h104M115 1262h128M563 1262h16M51 1270h208M539 1270h16M587 1270h16M51 1278h208M539 1278h16M587 1278h16M51 1286h208M539 1286h16M587 1286h16"/><path stroke="#040404" d="M147 1150h16M147 1158h24M147 1166h32M147 1174h8M171 1174h8M147 1182h8M179 1182h8M147 1190h8M187 1190h8M139 1198h8M187 1198h16M139 1206h8M195 1206h8M139 1214h8M203 1214h8M139 1222h8M131 1230h16M211 1230h8M123 1238h16M211 1238h16M115 1246h24M227 1246h8M99 1254h32M235 1254h8M51 1262h64M243 1262h8M547 1262h16M579 1262h16M259 1270h8M531 1270h8M259 1278h8M531 1278h8M603 1278h8M259 1286h8M531 1286h8M603 1286h8"/><path stroke="#050505" d="M139 1134h16M139 1142h24M139 1150h8M163 1150h8M139 1158h8M171 1158h8M139 1166h8M139 1174h8M179 1174h8M139 1182h8M187 1182h8M139 1190h8M195 1190h8M131 1206h8M203 1206h8M131 1214h8M131 1222h8M211 1222h8M123 1230h8M219 1230h8M115 1238h8M227 1238h8M91 1246h24M235 1246h8M67 1254h32M243 1254h8M547 1254h40M251 1262h16M539 1262h8M595 1262h8M267 1270h8M603 1270h8M267 1278h8M523 1278h8M267 1286h8M523 1286h8"/><path stroke="#060606" d="M107 1094h32M107 1102h32M123 1110h24M131 1118h24M131 1126h24M131 1134h8M155 1134h8M131 1142h8M163 1142h8M131 1150h8M171 1150h8M131 1158h8M131 1166h8M179 1166h8M131 1174h8M131 1182h8M131 1190h8M131 1198h8M203 1198h8M123 1214h8M211 1214h8M123 1222h8M219 1222h8M115 1230h8M99 1238h16M235 1238h8M67 1246h24M243 1246h8M51 1254h16M251 1254h8M539 1254h8M587 1254h8M531 1262h8M603 1262h8M275 1270h8M523 1270h8M611 1270h8M275 1278h8M611 1278h8M275 1286h8M611 1286h8"/><path stroke="#070707" d="M51 1094h56M139 1094h8M51 1102h56M139 1102h8M107 1110h16M147 1110h8M115 1118h16M123 1126h8M155 1126h8M163 1134h8M171 1142h8M179 1158h8M187 1174h8M195 1182h8M203 1190h8M123 1198h8M123 1206h8M211 1206h8M115 1214h8M115 1222h8M99 1230h16M227 1230h8M75 1238h24M51 1246h16M251 1246h8M555 1246h32M259 1254h8M595 1254h8M267 1262h8M523 1262h8M515 1270h8M283 1278h8M515 1278h8M283 1286h8M515 1286h8"/><path stroke="#080808" d="M147 1094h8M147 1102h8M51 1110h56M107 1118h8M155 1118h8M115 1126h8M163 1126h8M123 1134h8M123 1142h8M123 1150h8M123 1158h8M123 1166h8M187 1166h8M123 1174h8M123 1182h8M123 1190h8M115 1206h8M219 1214h8M107 1222h8M227 1222h8M91 1230h8M235 1230h8M51 1238h24M243 1238h8M547 1246h8M587 1246h8M531 1254h8M603 1254h8M275 1262h8M283 1270h8M619 1270h8M619 1278h8M619 1286h8"/><path stroke="#090909" d="M155 1110h8M51 1118h24M99 1118h8M107 1126h8M115 1134h8M171 1134h8M115 1142h8M179 1150h8M195 1174h8M203 1182h8M115 1198h8M211 1198h8M107 1214h8M99 1222h8M51 1230h40M259 1246h8M539 1246h8M595 1246h8M267 1254h8M523 1254h8M515 1262h8M611 1262h8M507 1270h8M507 1278h8M507 1286h8"/><path stroke="#0a0a0a" d="M155 1094h8M155 1102h8M75 1118h24M163 1118h8M51 1126h24M99 1126h8M171 1126h8M51 1134h16M107 1134h8M179 1142h8M115 1150h8M115 1158h8M187 1158h8M115 1166h8M115 1174h8M115 1182h8M115 1190h8M107 1198h8M107 1206h8M219 1206h8M99 1214h8M51 1222h48M251 1238h8M531 1246h8M283 1262h8M291 1270h8M627 1270h8M291 1278h8M627 1278h8M291 1286h8M627 1286h8"/><path stroke="#0b0b0b" d="M75 1126h24M67 1134h8M99 1134h8M51 1142h16M107 1142h8M107 1150h8M195 1166h8M107 1190h8M211 1190h8M99 1206h8M51 1214h48M227 1214h8M235 1222h8M243 1230h8M555 1238h24M267 1246h8M603 1246h8M275 1254h8M515 1254h8M611 1254h8M619 1262h8M499 1278h8M499 1286h8"/><path stroke="#0c0c0c" d="M163 1110h8M75 1134h24M179 1134h8M67 1142h8M99 1142h8M51 1150h16M187 1150h8M107 1158h8M107 1166h8M107 1174h8M203 1174h8M107 1182h8M51 1198h16M99 1198h8M51 1206h48M259 1238h8M547 1238h8M579 1238h8M523 1246h8M291 1262h8M507 1262h8M499 1270h8M299 1278h8M635 1278h8M299 1286h8M635 1286h8"/><path stroke="#0d0d0d" d="M163 1094h8M163 1102h8M171 1118h8M75 1142h24M67 1150h16M99 1150h8M51 1158h24M99 1158h8M195 1158h8M51 1166h16M99 1166h8M51 1174h16M99 1174h8M51 1182h16M99 1182h8M51 1190h24M99 1190h8M67 1198h16M91 1198h8M219 1198h8M251 1230h8M539 1238h8M587 1238h8M275 1246h8M283 1254h8M299 1270h8M635 1270h8M491 1278h8M491 1286h8"/><path stroke="#0e0e0e" d="M83 1150h16M75 1158h8M91 1158h8M67 1166h16M67 1174h16M67 1182h16M211 1182h8M75 1190h24M83 1198h8M227 1206h8M235 1214h8M243 1222h8M267 1238h8M595 1238h8M507 1254h8M619 1254h8M499 1262h8M627 1262h8M491 1270h8"/><path stroke="#0f0f0f" d="M171 1110h8M179 1126h8M187 1142h8M83 1158h8M83 1166h16M203 1166h8M83 1174h16M83 1182h16M531 1238h8M515 1246h8M611 1246h8M291 1254h8M299 1262h8M307 1270h8M307 1278h8M643 1278h8M307 1286h8M643 1286h8"/><path stroke="#101010" d="M195 1150h8M219 1190h8M259 1230h8M283 1246h8M483 1270h8M643 1270h8M483 1278h8M483 1286h8"/><path stroke="#111111" d="M171 1094h8M171 1102h8M179 1118h8M187 1134h8M211 1174h8M227 1198h8M235 1206h8M243 1214h8M251 1222h8M555 1230h24M275 1238h8M523 1238h8M603 1238h8M491 1262h8M635 1262h8M315 1270h8M315 1278h8M651 1278h8M315 1286h8M651 1286h8"/><path stroke="#121212" d="M203 1158h8M267 1230h8M547 1230h8M579 1230h8M291 1246h8M507 1246h8M299 1254h8M499 1254h8M627 1254h8M307 1262h8M323 1270h16M475 1270h8M651 1270h8M323 1278h32M475 1278h8M323 1286h32M475 1286h8"/><path stroke="#131313" d="M195 1142h8M219 1182h8M539 1230h8M587 1230h8M283 1238h8M619 1246h8M339 1270h16M355 1278h8M467 1278h8M355 1286h8M467 1286h8"/><path stroke="#141414" d="M179 1110h8M187 1126h8M227 1190h8M259 1222h8M515 1238h8M299 1246h8M307 1254h8M315 1262h16M483 1262h8M643 1262h8M355 1270h8M467 1270h8M363 1278h8M659 1278h8M363 1286h8M659 1286h8"/><path stroke="#151515" d="M203 1150h8M211 1166h8M235 1198h8M243 1206h8M251 1214h8M275 1230h8M531 1230h8M595 1230h8M611 1238h8M491 1254h8M331 1262h16M363 1270h8M659 1270h8M371 1278h8M459 1278h8M371 1286h8M459 1286h8"/><path stroke="#161616" d="M179 1094h8M179 1102h8M267 1222h8M291 1238h8M499 1246h8M315 1254h8M635 1254h8M347 1262h8M475 1262h8M371 1270h8M459 1270h8M379 1278h8M667 1278h8M379 1286h8M667 1286h8"/><path stroke="#171717" d="M187 1118h8M195 1134h8M283 1230h8M523 1230h8M507 1238h8M307 1246h8M627 1246h8M323 1254h8M355 1262h8M651 1262h8M379 1270h8M451 1278h8M451 1286h8"/><path stroke="#181818" d="M219 1174h8M259 1214h8M547 1222h32M603 1230h8M299 1238h8M331 1254h16M483 1254h8M363 1262h8M451 1270h8M667 1270h8M387 1278h8M443 1278h8M387 1286h8M443 1286h8"/><path stroke="#191919" d="M203 1142h8M211 1158h8M227 1182h8M235 1190h8M275 1222h8M539 1222h8M579 1222h8M315 1246h8M491 1246h8M347 1254h8M643 1254h8M371 1262h8M467 1262h8M387 1270h8M443 1270h8M675 1278h8M675 1286h8"/><path stroke="#1a1a1a" d="M195 1126h8M243 1198h8M251 1206h8M291 1230h8M515 1230h8M619 1238h8M323 1246h8M355 1254h8M675 1270h8M395 1278h8M435 1278h8M395 1286h8M435 1286h8"/><path stroke="#1b1b1b" d="M187 1110h8M267 1214h8M283 1222h8M531 1222h8M587 1222h8M307 1238h8M499 1238h8M331 1246h8M635 1246h8M475 1254h8M379 1262h8M459 1262h8M659 1262h8M395 1270h8M435 1270h8M403 1278h32M683 1278h24M403 1286h32M683 1286h24"/><path stroke="#1c1c1c" d="M219 1166h8M595 1222h8M299 1230h8M339 1246h8M363 1254h8M451 1262h8M403 1270h32M683 1270h8"/><path stroke="#1d1d1d" d="M187 1094h8M187 1102h8M203 1134h8M211 1150h8M259 1206h8M275 1214h8M507 1230h8M611 1230h8M315 1238h8M347 1246h8M483 1246h8M371 1254h8M651 1254h8M387 1262h8M691 1270h16"/><path stroke="#1e1e1e" d="M195 1118h8M227 1174h8M291 1222h8M523 1222h8M323 1238h8M627 1238h8M355 1246h8M467 1254h8M443 1262h8M667 1262h8"/><path stroke="#1f1f1f" d="M235 1182h8M243 1190h8M251 1198h8M307 1230h8M491 1238h8M379 1254h8M395 1262h8"/><path stroke="#202020" d="M219 1158h8M267 1206h8M283 1214h8M603 1222h8M331 1238h8M363 1246h8M475 1246h8M643 1246h8M459 1254h8M403 1262h16M435 1262h8"/><path stroke="#212121" d="M195 1110h8M203 1126h8M211 1142h8M547 1214h32M299 1222h8M515 1222h8M339 1238h8M387 1254h8M659 1254h8M419 1262h16M675 1262h8"/><path stroke="#222222" d="M539 1214h8M579 1214h8M315 1230h8M499 1230h8M619 1230h8M347 1238h8M371 1246h8M451 1254h8"/><path stroke="#232323" d="M227 1166h8M259 1198h8M275 1206h8M291 1214h8M483 1238h8M635 1238h8M467 1246h8M395 1254h8M683 1262h24"/><path stroke="#242424" d="M195 1094h8M195 1102h8M251 1190h8M587 1214h8M307 1222h8M507 1222h8M323 1230h8M355 1238h8M379 1246h8M651 1246h8M443 1254h8"/><path stroke="#252525" d="M203 1118h8M211 1134h8M219 1150h8M235 1174h8M243 1182h8M531 1214h8M611 1222h8M331 1230h8M403 1254h16M435 1254h8M667 1254h8"/><path stroke="#262626" d="M267 1198h8M283 1206h8M595 1214h8M491 1230h8M363 1238h8M475 1238h8M387 1246h8M459 1246h8M419 1254h16"/><path stroke="#272727" d="M299 1214h8M523 1214h8M315 1222h8M339 1230h8M627 1230h8"/><path stroke="#282828" d="M227 1158h8M371 1238h8M643 1238h8M395 1246h8M451 1246h8M659 1246h8M675 1254h8"/><path stroke="#292929" d="M203 1110h8M211 1126h8M219 1142h8M259 1190h8M275 1198h8M323 1222h8M499 1222h8M347 1230h8"/><path stroke="#2a2a2a" d="M235 1166h8M291 1206h8M307 1214h8M515 1214h8M603 1214h8M483 1230h8M379 1238h8M467 1238h8M403 1246h8M443 1246h8"/><path stroke="#2b2b2b" d="M203 1094h8M203 1102h8M243 1174h8M251 1182h8M331 1222h8M619 1222h8M355 1230h8M411 1246h8M435 1246h8M683 1254h24"/><path stroke="#2c2c2c" d="M283 1198h8M387 1238h8M419 1246h16M667 1246h8"/><path stroke="#2d2d2d" d="M211 1118h8M227 1150h8M267 1190h8M563 1206h8M339 1222h8M491 1222h8M363 1230h8M635 1230h8M459 1238h8M651 1238h8"/><path stroke="#2e2e2e" d="M219 1134h8M299 1206h8M547 1206h16M571 1206h8M315 1214h8M507 1214h8M475 1230h8"/><path stroke="#2f2f2f" d="M539 1206h8M579 1206h8M347 1222h8M371 1230h8M395 1238h8M451 1238h8"/><path stroke="#303030" d="M235 1158h8M259 1182h8M275 1190h8M323 1214h8M611 1214h8M403 1238h8M675 1246h8"/><path stroke="#313131" d="M211 1110h8M291 1198h8M587 1206h8M627 1222h8M379 1230h8M467 1230h8M411 1238h8M443 1238h8"/><path stroke="#323232" d="M219 1126h8M227 1142h8M243 1166h8M251 1174h8M531 1206h8M499 1214h8M355 1222h8M483 1222h8M643 1230h8M419 1238h8M435 1238h8M659 1238h8"/><path stroke="#333333" d="M211 1094h8M211 1102h8M283 1190h8M307 1206h8M595 1206h8M331 1214h8M387 1230h8M427 1238h8M683 1246h24"/><path stroke="#343434" d="M267 1182h8M363 1222h8"/><path stroke="#353535" d="M219 1118h8M235 1150h8M523 1206h8M339 1214h8M475 1222h8M459 1230h8"/><path stroke="#363636" d="M227 1134h8M299 1198h8M619 1214h8M371 1222h8M395 1230h8M667 1238h8"/><path stroke="#373737" d="M315 1206h8M515 1206h8M603 1206h8M491 1214h8M635 1222h8M451 1230h8"/><path stroke="#383838" d="M243 1158h8M259 1174h8M275 1182h8M291 1190h8M347 1214h8M379 1222h8M403 1230h8M651 1230h8"/><path stroke="#393939" d="M219 1110h8M251 1166h8M467 1222h8M411 1230h8M443 1230h8M675 1238h8"/><path stroke="#3a3a3a" d="M227 1126h8M235 1142h8M323 1206h8M355 1214h8M419 1230h8M435 1230h8"/><path stroke="#3b3b3b" d="M219 1094h8M219 1102h8M563 1198h16M507 1206h8M483 1214h8M387 1222h8M427 1230h8"/><path stroke="#3c3c3c" d="M283 1182h8M307 1198h8M547 1198h16M611 1206h8M363 1214h8M627 1214h8"/><path stroke="#3d3d3d" d="M227 1118h8M243 1150h8M267 1174h8M579 1198h8M331 1206h8M395 1222h8M459 1222h8M643 1222h8M659 1230h8M683 1238h24"/><path stroke="#3e3e3e" d="M235 1134h8M539 1198h8"/><path stroke="#3f3f3f" d="M251 1158h8M299 1190h8M587 1198h8M499 1206h8M371 1214h8M475 1214h8M403 1222h8M451 1222h8"/><path stroke="#404040" d="M259 1166h8M531 1198h8M339 1206h8M411 1222h8M667 1230h8"/><path stroke="#414141" d="M227 1110h8M243 1142h8M275 1174h8M291 1182h8M315 1198h8M595 1198h8M379 1214h8M443 1222h8"/><path stroke="#424242" d="M235 1126h8M619 1206h8M467 1214h8M635 1214h8M419 1222h8M435 1222h8"/><path stroke="#434343" d="M227 1094h8M227 1102h8M523 1198h8M347 1206h8M491 1206h8M387 1214h8M427 1222h8M651 1222h8"/><path stroke="#444444" d="M251 1150h8M675 1230h8"/><path stroke="#454545" d="M235 1118h8M243 1134h8M267 1166h8M307 1190h8M323 1198h8M603 1198h8M355 1206h8M395 1214h8"/><path stroke="#464646" d="M283 1174h8M515 1198h8M483 1206h8M459 1214h8"/><path stroke="#474747" d="M259 1158h8M363 1206h8M403 1214h8M683 1230h24"/><path stroke="#484848" d="M235 1110h8M299 1182h8M331 1198h8M627 1206h8M451 1214h8M643 1214h8M659 1222h8"/><path stroke="#494949" d="M243 1126h8M251 1142h8M563 1190h16M507 1198h8M371 1206h8M411 1214h8M443 1214h8"/><path stroke="#4a4a4a" d="M235 1094h8M235 1102h8M275 1166h8M555 1190h8M611 1198h8M475 1206h8M419 1214h8"/><path stroke="#4b4b4b" d="M243 1118h8M291 1174h8M547 1190h8M579 1190h8M379 1206h8M427 1214h16M667 1222h8"/><path stroke="#4c4c4c" d="M259 1150h8M315 1190h8M339 1198h8"/><path stroke="#4d4d4d" d="M251 1134h8M267 1158h8M539 1190h8M587 1190h8M499 1198h8M387 1206h8M467 1206h8"/><path stroke="#4e4e4e" d="M243 1110h8M347 1198h8M635 1206h8M651 1214h8"/><path stroke="#4f4f4f" d="M243 1094h8M243 1102h8M531 1190h8M619 1198h8M395 1206h8M675 1222h8"/><path stroke="#505050" d="M251 1126h8M259 1142h8M283 1166h8M307 1182h8M323 1190h8M595 1190h8M355 1198h8M491 1198h8M459 1206h8"/><path stroke="#515151" d="M403 1206h8M683 1222h8"/><path stroke="#525252" d="M251 1118h8M267 1150h8M275 1158h8M299 1174h8M363 1198h8M451 1206h8M691 1222h16"/><path stroke="#535353" d="M523 1190h8M603 1190h8M483 1198h8M411 1206h8M443 1206h8M659 1214h8"/><path stroke="#545454" d="M251 1110h8M259 1134h8M371 1198h8M419 1206h8M435 1206h8M643 1206h8"/><path stroke="#555555" d="M251 1094h8M251 1102h8M331 1190h8M515 1190h8M627 1198h8M427 1206h8"/><path stroke="#565656" d="M267 1142h8M291 1166h8M379 1198h8M475 1198h8M667 1214h8"/><path stroke="#575757" d="M259 1126h8"/><path stroke="#585858" d="M315 1182h8M571 1182h8M339 1190h8M507 1190h8M611 1190h8M387 1198h8M467 1198h8"/><path stroke="#595959" d="M259 1118h8M275 1150h8M283 1158h8M563 1182h8M651 1206h8M675 1214h8"/><path stroke="#5a5a5a" d="M555 1182h8M579 1182h8M395 1198h8M459 1198h8M635 1198h8"/><path stroke="#5b5b5b" d="M259 1110h8M267 1134h8M547 1182h8M347 1190h8M499 1190h8M403 1198h8M683 1214h8"/><path stroke="#5c5c5c" d="M259 1094h8M259 1102h8M307 1174h8M587 1182h8M451 1198h8M691 1214h16"/><path stroke="#5d5d5d" d="M299 1166h8M539 1182h8M355 1190h8M491 1190h8M619 1190h8M411 1198h8M443 1198h8M659 1206h8"/><path stroke="#5e5e5e" d="M267 1126h8M275 1142h8M323 1182h8M363 1190h8M419 1198h24"/><path stroke="#5f5f5f" d="M595 1182h8M643 1198h8"/><path stroke="#606060" d="M291 1158h8M531 1182h8M371 1190h8M483 1190h8M667 1206h8"/><path stroke="#616161" d="M267 1118h8M283 1150h8M379 1190h8M475 1190h8"/><path stroke="#626262" d="M627 1190h8"/><path stroke="#636363" d="M275 1134h8M331 1182h8M523 1182h8M603 1182h8M387 1190h8M467 1190h8M675 1206h8"/><path stroke="#646464" d="M267 1110h8M395 1190h8M683 1206h8"/><path stroke="#656565" d="M515 1182h8M459 1190h8M651 1198h8M691 1206h16"/><path stroke="#666666" d="M267 1094h8M267 1102h8M315 1174h8M403 1190h8M451 1190h8"/><path stroke="#676767" d="M339 1182h8M611 1182h8M411 1190h16M443 1190h8M635 1190h8"/><path stroke="#686868" d="M275 1126h8M283 1142h8M299 1158h8M307 1166h8M571 1174h8M507 1182h8M427 1190h16M659 1198h8"/><path stroke="#696969" d="M563 1174h8M499 1182h8"/><path stroke="#6a6a6a" d="M291 1150h8M555 1174h8M579 1174h8M347 1182h8M667 1198h8"/><path stroke="#6b6b6b" d="M355 1182h8M491 1182h8"/><path stroke="#6c6c6c" d="M547 1174h8M587 1174h8M363 1182h8M483 1182h8M643 1190h8M675 1198h8"/><path stroke="#6d6d6d" d="M275 1118h8M371 1182h8M475 1182h8M619 1182h8"/><path stroke="#6e6e6e" d="M323 1174h8M539 1174h8M379 1182h8M467 1182h8M683 1198h24"/><path stroke="#6f6f6f" d="M595 1174h8M387 1182h16M459 1182h8"/><path stroke="#707070" d="M283 1134h8M403 1182h16M443 1182h16M651 1190h8"/><path stroke="#717171" d="M275 1110h8M531 1174h8M419 1182h24M627 1182h8"/><path stroke="#737373" d="M603 1174h8M659 1190h8"/><path stroke="#747474" d="M275 1094h8M275 1102h8M315 1166h8M331 1174h8M523 1174h8"/><path stroke="#757575" d="M291 1142h8M299 1150h8M307 1158h8M635 1182h8M667 1190h8"/><path stroke="#767676" d="M515 1174h8M675 1190h8"/><path stroke="#777777" d="M283 1126h8M507 1174h8M683 1190h24"/><path stroke="#787878" d="M571 1166h8M339 1174h8M499 1174h8M611 1174h8"/><path stroke="#797979" d="M563 1166h8M419 1174h56M491 1174h8M643 1182h8"/><path stroke="#7a7a7a" d="M579 1166h8M395 1174h24M475 1174h16"/><path stroke="#7b7b7b" d="M555 1166h8M347 1174h48"/><path stroke="#7c7c7c" d="M587 1166h8M651 1182h8"/><path stroke="#7d7d7d" d="M547 1166h8M619 1174h8"/><path stroke="#7e7e7e" d="M283 1118h8M323 1166h8M659 1182h8"/><path stroke="#7f7f7f" d="M291 1134h8M539 1166h8M595 1166h8M667 1182h16"/><path stroke="#808080" d="M683 1182h24"/><path stroke="#828282" d="M299 1142h8M427 1166h32M531 1166h8M627 1174h8"/><path stroke="#838383" d="M307 1150h8M315 1158h8M419 1166h8M459 1166h8M603 1166h8"/><path stroke="#848484" d="M411 1166h8M467 1166h8M523 1166h8"/><path stroke="#858585" d="M283 1110h8M331 1166h8M403 1166h8M635 1174h8"/><path stroke="#868686" d="M395 1166h8M475 1166h8"/><path stroke="#878787" d="M387 1166h8M483 1166h40M643 1174h8"/><path stroke="#888888" d="M571 1158h8M379 1166h8M611 1166h8M651 1174h8"/><path stroke="#898989" d="M291 1126h8M563 1158h8M659 1174h48"/><path stroke="#8a8a8a" d="M283 1094h8M283 1102h8M579 1158h8M339 1166h8M371 1166h8"/><path stroke="#8b8b8b" d="M355 1166h16"/><path stroke="#8c8c8c" d="M555 1158h8M587 1158h8M347 1166h8"/><path stroke="#8d8d8d" d="M427 1158h24"/><path stroke="#8e8e8e" d="M323 1158h8M419 1158h8M451 1158h8M547 1158h8M595 1158h8M619 1166h8"/><path stroke="#8f8f8f" d="M299 1134h8M459 1158h8"/><path stroke="#909090" d="M411 1158h8M539 1158h8"/><path stroke="#919191" d="M291 1118h8M403 1158h8M467 1158h8"/><path stroke="#929292" d="M531 1158h8M603 1158h8M675 1166h32"/><path stroke="#939393" d="M307 1142h8M315 1150h8M395 1158h8M475 1158h8M627 1166h8M667 1166h8"/><path stroke="#949494" d="M659 1166h8"/><path stroke="#959595" d="M387 1158h8M483 1158h8M523 1158h8M635 1166h24"/><path stroke="#969696" d="M331 1158h8M491 1158h8"/><path stroke="#979797" d="M379 1158h8M499 1158h24"/><path stroke="#989898" d="M571 1150h8M611 1158h8"/><path stroke="#999999" d="M563 1150h8M579 1150h8M371 1158h8"/><path stroke="#9a9a9a" d="M291 1110h8M299 1126h8M683 1158h24"/><path stroke="#9b9b9b" d="M555 1150h8M587 1150h8M339 1158h8M363 1158h8M675 1158h8"/><path stroke="#9c9c9c" d="M435 1150h8M355 1158h8"/><path stroke="#9d9d9d" d="M427 1150h8M443 1150h16M547 1150h8M595 1150h8M347 1158h8M667 1158h8"/><path stroke="#9e9e9e" d="M419 1150h8M619 1158h8"/><path stroke="#9f9f9f" d="M411 1150h8M459 1150h8M659 1158h8"/><path stroke="#a0a0a0" d="M291 1094h8M291 1102h8M323 1150h8M467 1150h8M539 1150h8M651 1158h8"/><path stroke="#a1a1a1" d="M403 1150h8M603 1150h8M683 1150h24"/><path stroke="#a2a2a2" d="M307 1134h8M531 1150h8M627 1158h8M643 1158h8"/><path stroke="#a3a3a3" d="M395 1150h8M475 1150h8M675 1150h8M635 1158h8"/><path stroke="#a4a4a4" d="M299 1118h8M483 1150h8M523 1150h8"/><path stroke="#a5a5a5" d="M315 1142h8"/><path stroke="#a6a6a6" d="M387 1150h8M491 1150h16M515 1150h8M611 1150h8M667 1150h8"/><path stroke="#a7a7a7" d="M691 1142h16M507 1150h8"/><path stroke="#a8a8a8" d="M571 1142h8M683 1142h8M331 1150h8M379 1150h8M659 1150h8"/><path stroke="#a9a9a9" d="M563 1142h8M579 1142h8"/><path stroke="#aaaaaa" d="M587 1142h8"/><path stroke="#ababab" d="M555 1142h8M675 1142h8M371 1150h8M619 1150h8M651 1150h8"/><path stroke="#acacac" d="M595 1142h8"/><path stroke="#adadad" d="M683 1094h24M683 1102h24M299 1110h8M691 1134h16M547 1142h8M363 1150h8M643 1150h8"/><path stroke="#aeaeae" d="M683 1110h24M307 1126h8M683 1134h8M427 1142h32M667 1142h8M339 1150h8M355 1150h8"/><path stroke="#afafaf" d="M691 1118h16M419 1142h8M459 1142h8M539 1142h8M603 1142h8M347 1150h8M627 1150h16"/><path stroke="#b0b0b0" d="M683 1118h8M683 1126h24"/><path stroke="#b1b1b1" d="M675 1134h8M323 1142h8M411 1142h8M467 1142h8M531 1142h8"/><path stroke="#b2b2b2" d="M659 1142h8"/><path stroke="#b3b3b3" d="M403 1142h8M475 1142h8M611 1142h8"/><path stroke="#b4b4b4" d="M299 1094h8M675 1094h8M299 1102h8M675 1102h8M675 1110h8M675 1126h8M483 1142h8M523 1142h8"/><path stroke="#b5b5b5" d="M675 1118h8M315 1134h8M395 1142h8M491 1142h8M515 1142h8M651 1142h8"/><path stroke="#b6b6b6" d="M667 1134h8M499 1142h16"/><path stroke="#b7b7b7" d="M571 1134h16M619 1142h8M643 1142h8"/><path stroke="#b8b8b8" d="M307 1118h8M563 1134h8M587 1134h8M387 1142h8"/><path stroke="#b9b9b9" d="M635 1142h8"/><path stroke="#bababa" d="M667 1126h8M555 1134h8M595 1134h8M659 1134h8M331 1142h8M627 1142h8"/><path stroke="#bbbbbb" d="M667 1094h8M667 1102h8M667 1110h8M667 1118h8M379 1142h8"/><path stroke="#bcbcbc" d="M547 1134h8M603 1134h8"/><path stroke="#bdbdbd" d="M651 1134h8M371 1142h8"/><path stroke="#bebebe" d="M427 1134h32M539 1134h8"/><path stroke="#bfbfbf" d="M659 1126h8M459 1134h8M611 1134h8M363 1142h8"/><path stroke="#c0c0c0" d="M419 1134h8M467 1134h8M531 1134h8M339 1142h8M355 1142h8"/><path stroke="#c1c1c1" d="M659 1118h8M411 1134h8M643 1134h8M347 1142h8"/><path stroke="#c2c2c2" d="M307 1110h8M659 1110h8M315 1126h8M323 1134h8M475 1134h8M523 1134h8"/><path stroke="#c3c3c3" d="M659 1094h8M659 1102h8M651 1126h8M403 1134h8M483 1134h8M619 1134h8"/><path stroke="#c4c4c4" d="M571 1126h24M491 1134h8M515 1134h8M635 1134h8"/><path stroke="#c5c5c5" d="M563 1126h8M595 1126h8M499 1134h16M627 1134h8"/><path stroke="#c6c6c6" d="M651 1118h8M603 1126h8M395 1134h8"/><path stroke="#c7c7c7" d="M555 1126h8M643 1126h8"/><path stroke="#c8c8c8" d="M307 1094h8M307 1102h8M651 1110h8M547 1126h8"/><path stroke="#c9c9c9" d="M611 1126h8M387 1134h8"/><path stroke="#cacaca" d="M651 1094h8M651 1102h8M539 1126h8"/><path stroke="#cbcbcb" d="M643 1118h8M427 1126h40M635 1126h8"/><path stroke="#cccccc" d="M315 1118h8M531 1126h8M619 1126h8M331 1134h8M379 1134h8"/><path stroke="#cdcdcd" d="M419 1126h8M467 1126h8M627 1126h8"/><path stroke="#cecece" d="M571 1118h40M411 1126h8M475 1126h8M523 1126h8M371 1134h8"/><path stroke="#cfcfcf" d="M643 1110h8M323 1126h8M483 1126h8"/><path stroke="#d0d0d0" d="M563 1118h8M611 1118h8M635 1118h8M403 1126h8M491 1126h32M363 1134h8"/><path stroke="#d1d1d1" d="M643 1094h8M643 1102h8M555 1118h8M339 1134h8"/><path stroke="#d2d2d2" d="M619 1118h8M355 1134h8"/><path stroke="#d3d3d3" d="M547 1118h8M627 1118h8M395 1126h8M347 1134h8"/><path stroke="#d4d4d4" d="M635 1110h8M435 1118h24"/><path stroke="#d5d5d5" d="M315 1110h8M427 1118h8M459 1118h8M539 1118h8"/><path stroke="#d6d6d6" d="M587 1110h24M419 1118h8M467 1118h8M531 1118h8M387 1126h8"/><path stroke="#d7d7d7" d="M579 1110h8M611 1110h8M475 1118h8"/><path stroke="#d8d8d8" d="M635 1094h8M635 1102h8M571 1110h8M619 1110h16M411 1118h8M483 1118h8M523 1118h8M331 1126h8"/><path stroke="#d9d9d9" d="M323 1118h8M491 1118h32M379 1126h8"/><path stroke="#dadada" d="M563 1110h8M403 1118h8"/><path stroke="#dbdbdb" d="M555 1110h8"/><path stroke="#dcdcdc" d="M315 1094h8M595 1094h24M627 1094h8M315 1102h8M595 1102h24M627 1102h8M395 1118h8M371 1126h8"/><path stroke="#dddddd" d="M587 1094h8M619 1094h8M587 1102h8M619 1102h8M427 1110h40M547 1110h8M363 1126h8"/><path stroke="#dedede" d="M579 1094h8M579 1102h8M467 1110h8M539 1110h8M339 1126h8"/><path stroke="#dfdfdf" d="M419 1110h8M475 1110h8M355 1126h8"/><path stroke="#e0e0e0" d="M571 1094h8M571 1102h8M411 1110h8M483 1110h8M531 1110h8M387 1118h8M347 1126h8"/><path stroke="#e1e1e1" d="M563 1094h8M563 1102h8M323 1110h8M491 1110h16M523 1110h8M331 1118h8"/><path stroke="#e2e2e2" d="M403 1110h8M507 1110h16"/><path stroke="#e3e3e3" d="M435 1094h32M555 1094h8M435 1102h32M555 1102h8M379 1118h8"/><path stroke="#e4e4e4" d="M427 1094h8M467 1094h8M547 1094h8M427 1102h8M467 1102h8M547 1102h8"/><path stroke="#e5e5e5" d="M419 1094h8M475 1094h8M419 1102h8M475 1102h8M395 1110h8"/><path stroke="#e6e6e6" d="M483 1094h8M539 1094h8M483 1102h8M539 1102h8M371 1118h8"/><path stroke="#e7e7e7" d="M411 1094h8M491 1094h16M531 1094h8M411 1102h8M491 1102h16M531 1102h8M339 1118h8M363 1118h8"/><path stroke="#e8e8e8" d="M323 1094h8M507 1094h24M323 1102h8M507 1102h24M355 1118h8"/><path stroke="#e9e9e9" d="M403 1094h8M403 1102h8M331 1110h8M387 1110h8M347 1118h8"/><path stroke="#ebebeb" d="M395 1094h8M395 1102h8"/><path stroke="#ececec" d="M379 1110h8"/><path stroke="#efefef" d="M331 1094h8M387 1094h8M331 1102h8M387 1102h8M339 1110h8M371 1110h8"/><path stroke="#f0f0f0" d="M363 1110h8"/><path stroke="#f1f1f1" d="M347 1110h16"/><path stroke="#f3f3f3" d="M379 1094h8M379 1102h8"/><path stroke="#f4f4f4" d="M339 1094h8M339 1102h8"/><path stroke="#f6f6f6" d="M371 1094h8M371 1102h8"/><path stroke="#f7f7f7" d="M347 1094h24M347 1102h24"/></g></g></g>
<g clip-path="url(#cS4)"><path d="M74.3 1112.9L74.8 1113.1M96.6 1112.9L97.1 1113.1M163.6 1112.9L164.1 1113.1M185.9 1112.9L186.5 1113.1M208.3 1112.9L209.3 1113.4M230.6 1112.9L233.7 1114.4M253.0 1112.9L257.5 1115.0M275.3 1112.9L281.2 1115.6M297.6 1112.9L309.3 1110.5M320.0 1112.9L335.9 1105.8M342.3 1112.9L360.3 1104.4M364.6 1112.9L382.8 1104.4M387.0 1112.9L404.6 1104.6M409.3 1112.9L426.1 1105.0M431.6 1112.9L448.1 1105.2M454.0 1112.9L470.4 1105.2M476.3 1112.9L492.9 1105.1M498.6 1112.9L515.5 1105.0M521.0 1112.9L537.8 1105.0M543.3 1112.9L559.8 1105.2M565.7 1112.9L581.8 1105.3M588.0 1112.9L604.6 1107.6M610.3 1112.9L627.4 1109.3M632.7 1112.9L650.0 1109.4M655.0 1112.9L671.0 1109.8M677.3 1112.9L691.5 1110.3M74.3 1134.2L74.7 1133.8M96.6 1134.2L97.1 1133.8M118.9 1134.2L119.4 1133.8M185.9 1134.2L186.5 1134.4M208.3 1134.2L208.8 1134.4M230.6 1134.2L232.8 1135.3M253.0 1134.2L257.1 1136.2M275.3 1134.2L280.6 1136.6M297.6 1134.2L306.6 1131.6M320.0 1134.2L332.6 1127.1M342.3 1134.2L357.2 1125.8M364.6 1134.2L379.7 1126.0M387.0 1134.2L401.6 1126.5M409.3 1134.2L423.3 1127.1M431.6 1134.2L445.4 1127.5M454.0 1134.2L467.8 1127.7M476.3 1134.2L490.5 1127.8M498.6 1134.2L513.2 1127.9M521.0 1134.2L535.6 1128.2M543.3 1134.2L558.2 1131.1M565.7 1134.2L580.3 1133.9M588.0 1134.2L602.5 1135.5M610.3 1134.2L625.4 1135.8M632.7 1134.2L648.6 1135.0M655.0 1134.2L670.2 1134.3M677.3 1134.2L691.4 1133.7M74.3 1155.5L74.7 1155.1M96.6 1155.5L97.1 1155.1M118.9 1155.5L119.4 1155.1M185.9 1155.5L186.5 1155.7M208.3 1155.5L208.8 1155.7M230.6 1155.5L231.7 1156.0M253.0 1155.5L256.0 1157.1M275.3 1155.5L280.2 1156.5M297.6 1155.5L303.3 1152.8M320.0 1155.5L328.1 1149.8M342.3 1155.5L352.3 1148.4M364.6 1155.5L374.7 1148.4M387.0 1155.5L397.8 1151.0M409.3 1155.5L420.3 1154.1M431.6 1155.5L442.3 1154.9M454.0 1155.5L464.8 1154.9M476.3 1155.5L487.6 1154.9M498.6 1155.5L510.3 1154.8M521.0 1155.5L532.7 1155.5M543.3 1155.5L553.7 1159.3M565.7 1155.5L575.2 1159.6M588.0 1155.5L597.4 1160.2M610.3 1155.5L621.0 1159.6M632.7 1155.5L645.3 1157.7M655.0 1155.5L667.4 1157.5M677.3 1155.5L689.2 1157.2M74.3 1176.8L74.7 1176.4M96.6 1176.8L97.1 1176.4M118.9 1176.8L119.4 1176.4M208.3 1176.8L208.8 1177.0M230.6 1176.8L231.2 1177.0M253.0 1176.8L254.5 1177.5M275.3 1176.8L278.1 1178.1M297.6 1176.8L302.0 1175.5M320.0 1176.8L325.1 1173.7M342.3 1176.8L348.7 1173.0M364.6 1176.8L371.5 1173.0M387.0 1176.8L394.6 1174.7M409.3 1176.8L417.1 1178.2M431.6 1176.8L439.1 1179.2M454.0 1176.8L461.4 1179.2M476.3 1176.8L483.7 1179.3M498.6 1176.8L505.9 1179.3M521.0 1176.8L527.8 1179.2M543.3 1176.8L549.4 1178.9M565.7 1176.8L571.4 1178.9M588.0 1176.8L593.8 1178.9M610.3 1176.8L617.0 1179.3M632.7 1176.8L640.7 1179.9M655.0 1176.8L663.7 1180.2M677.3 1176.8L686.1 1180.3M74.3 1198.0L74.7 1197.7M96.6 1198.0L97.1 1197.7M118.9 1198.0L119.4 1197.7M230.6 1198.0L231.2 1198.3M253.0 1198.0L253.5 1198.3M275.3 1198.0L276.3 1198.4M297.6 1198.0L299.8 1198.3M320.0 1198.0L323.4 1196.8M342.3 1198.0L346.6 1196.5M364.6 1198.0L369.5 1197.0M387.0 1198.0L392.2 1199.3M409.3 1198.0L414.4 1200.4M431.6 1198.0L436.9 1200.5M454.0 1198.0L459.1 1200.5M476.3 1198.0L481.1 1200.4M498.6 1198.0L502.9 1200.2M521.0 1198.0L524.6 1199.9M543.3 1198.0L546.3 1199.6M565.7 1198.0L568.3 1199.5M588.0 1198.0L590.9 1199.6M610.3 1198.0L614.1 1200.1M632.7 1198.0L637.3 1200.6M655.0 1198.0L660.4 1201.1M677.3 1198.0L683.3 1201.4M74.3 1219.3L74.7 1219.0M96.6 1219.3L97.1 1219.0M230.6 1219.3L231.1 1219.6M253.0 1219.3L253.5 1219.6M275.3 1219.3L275.8 1219.6M297.6 1219.3L298.1 1219.6M320.0 1219.3L321.0 1220.0M342.3 1219.3L343.9 1220.3M364.6 1219.3L366.8 1220.6M387.0 1219.3L389.7 1220.9M409.3 1219.3L412.6 1221.2M431.6 1219.3L435.2 1221.4M454.0 1219.3L457.2 1221.2M476.3 1219.3L478.8 1220.8M498.6 1219.3L500.1 1220.2M521.0 1219.3L521.5 1219.6M543.3 1219.3L543.8 1219.6M565.7 1219.3L566.2 1219.6M588.0 1219.3L588.5 1219.6M610.3 1219.3L611.0 1219.7M632.7 1219.3L634.8 1220.6M655.0 1219.3L658.6 1221.4M677.3 1219.3L681.7 1221.8M253.0 1240.6L253.5 1240.9M275.3 1240.6L275.8 1240.9M297.6 1240.6L298.1 1240.9M320.0 1240.6L320.5 1240.9M342.3 1240.6L342.8 1240.9M364.6 1240.6L365.2 1241.0M387.0 1240.6L388.0 1241.2M409.3 1240.6L410.8 1241.5M431.6 1240.6L433.3 1241.6M454.0 1240.6L455.4 1241.4M476.3 1240.6L477.0 1241.1M498.6 1240.6L499.2 1240.9M521.0 1240.6L521.5 1240.9M543.3 1240.6L543.8 1240.9M565.7 1240.6L566.2 1240.9M588.0 1240.6L588.5 1240.9M610.3 1240.6L610.8 1240.9M632.7 1240.6L633.2 1240.9M655.0 1240.6L656.1 1241.3M677.3 1240.6L679.5 1241.9M297.6 1261.9L298.1 1262.2M320.0 1261.9L320.5 1262.2M342.3 1261.9L342.8 1262.2M364.6 1261.9L365.2 1262.2M387.0 1261.9L387.5 1262.2M409.3 1261.9L409.8 1262.2M431.6 1261.9L432.2 1262.2M454.0 1261.9L454.5 1262.2M476.3 1261.9L476.8 1262.2M498.6 1261.9L499.2 1262.2M521.0 1261.9L521.5 1262.2M632.7 1261.9L633.2 1262.2M655.0 1261.9L655.5 1262.2M677.3 1261.9L677.9 1262.2" stroke="#111" stroke-width="0.6" fill="none"/><path d="M77.4 1114.6L74.4 1113.9L75.2 1112.4ZM99.7 1114.6L96.7 1113.9L97.5 1112.4ZM166.8 1114.5L163.8 1113.9L164.5 1112.4ZM189.1 1114.5L186.1 1113.9L186.9 1112.4ZM212.0 1114.7L208.9 1114.1L209.7 1112.6ZM236.4 1115.7L233.4 1115.1L234.1 1113.6ZM260.5 1116.5L257.1 1115.9L257.9 1114.2ZM285.0 1117.4L280.7 1116.7L281.7 1114.6ZM313.4 1109.6L309.5 1111.6L309.0 1109.3ZM339.8 1104.1L336.4 1106.8L335.4 1104.7ZM364.1 1102.7L360.8 1105.5L359.8 1103.4ZM386.6 1102.6L383.3 1105.4L382.3 1103.3ZM408.4 1102.8L405.1 1105.7L404.1 1103.6ZM429.9 1103.2L426.6 1106.1L425.6 1103.9ZM451.9 1103.4L448.6 1106.2L447.6 1104.1ZM474.2 1103.4L470.9 1106.3L469.9 1104.1ZM496.7 1103.3L493.4 1106.2L492.4 1104.1ZM519.3 1103.2L515.9 1106.1L515.0 1103.9ZM541.6 1103.2L538.3 1106.1L537.3 1103.9ZM563.6 1103.4L560.3 1106.2L559.3 1104.1ZM585.6 1103.6L582.3 1106.4L581.3 1104.3ZM608.7 1106.4L605.0 1108.7L604.3 1106.5ZM631.6 1108.4L627.7 1110.4L627.2 1108.1ZM654.1 1108.6L650.2 1110.6L649.8 1108.3ZM675.1 1109.0L671.2 1111.0L670.7 1108.7ZM695.6 1109.5L691.7 1111.4L691.3 1109.1ZM77.0 1131.8L75.3 1134.4L74.2 1133.1ZM99.4 1131.8L97.6 1134.4L96.5 1133.1ZM121.7 1131.8L119.9 1134.4L118.9 1133.1ZM189.1 1135.9L186.1 1135.2L186.9 1133.7ZM211.5 1135.8L208.4 1135.2L209.2 1133.7ZM235.5 1136.6L232.5 1136.0L233.2 1134.5ZM259.8 1137.5L256.7 1136.9L257.4 1135.4ZM284.1 1138.3L280.1 1137.6L281.0 1135.6ZM310.6 1130.5L306.9 1132.8L306.3 1130.5ZM336.3 1125.1L333.2 1128.2L332.1 1126.1ZM360.9 1123.7L357.8 1126.8L356.7 1124.7ZM383.4 1124.0L380.2 1127.0L379.1 1125.0ZM405.3 1124.6L402.1 1127.6L401.0 1125.5ZM427.1 1125.2L423.8 1128.2L422.8 1126.1ZM449.2 1125.7L445.9 1128.6L444.9 1126.4ZM471.6 1126.0L468.3 1128.8L467.3 1126.7ZM494.4 1126.1L491.0 1128.9L490.1 1126.7ZM517.1 1126.2L513.7 1129.0L512.8 1126.8ZM539.5 1126.6L536.0 1129.2L535.1 1127.1ZM562.3 1130.3L558.4 1132.3L557.9 1130.0ZM584.5 1133.8L580.3 1135.0L580.3 1132.7ZM606.7 1135.9L602.4 1136.7L602.6 1134.3ZM629.5 1136.2L625.2 1136.9L625.5 1134.6ZM652.7 1135.2L648.5 1136.1L648.6 1133.8ZM674.4 1134.3L670.2 1135.5L670.2 1133.1ZM695.5 1133.6L691.4 1134.9L691.3 1132.5ZM77.0 1153.1L75.3 1155.7L74.2 1154.4ZM99.4 1153.1L97.6 1155.7L96.5 1154.4ZM121.7 1153.1L119.9 1155.7L118.9 1154.4ZM189.1 1157.2L186.1 1156.5L186.9 1155.0ZM211.4 1157.2L208.4 1156.5L209.2 1155.0ZM234.3 1157.5L231.3 1156.8L232.1 1155.3ZM258.7 1158.5L255.6 1157.8L256.4 1156.4ZM283.5 1157.2L280.0 1157.4L280.4 1155.6ZM307.1 1151.1L303.8 1153.9L302.8 1151.8ZM331.5 1147.4L328.7 1150.7L327.4 1148.8ZM355.8 1146.0L353.0 1149.4L351.7 1147.5ZM378.1 1146.0L375.4 1149.4L374.0 1147.5ZM401.7 1149.4L398.2 1152.1L397.3 1149.9ZM424.5 1153.5L420.5 1155.2L420.2 1152.9ZM446.5 1154.7L442.4 1156.1L442.3 1153.7ZM469.0 1154.7L464.8 1156.1L464.7 1153.7ZM491.8 1154.6L487.6 1156.0L487.5 1153.7ZM514.5 1154.6L510.4 1156.0L510.3 1153.7ZM536.9 1155.5L532.7 1156.6L532.7 1154.3ZM557.6 1160.8L553.3 1160.4L554.1 1158.2ZM579.1 1161.3L574.7 1160.7L575.7 1158.5ZM601.1 1162.1L596.9 1161.2L597.9 1159.1ZM624.9 1161.1L620.6 1160.7L621.4 1158.5ZM649.5 1158.4L645.1 1158.8L645.5 1156.5ZM671.5 1158.1L667.2 1158.6L667.6 1156.3ZM693.4 1157.8L689.0 1158.4L689.4 1156.0ZM77.0 1174.4L75.3 1177.0L74.2 1175.7ZM99.4 1174.4L97.6 1177.0L96.5 1175.7ZM121.7 1174.4L119.9 1177.0L118.9 1175.7ZM211.5 1178.4L208.4 1177.8L209.2 1176.3ZM233.8 1178.4L230.8 1177.8L231.5 1176.3ZM257.2 1178.8L254.1 1178.2L254.8 1176.7ZM280.8 1179.4L277.8 1178.8L278.5 1177.3ZM304.9 1174.7L302.2 1176.3L301.8 1174.7ZM328.6 1171.6L325.7 1174.7L324.6 1172.7ZM352.4 1170.8L349.3 1174.0L348.1 1171.9ZM375.2 1171.0L372.1 1174.0L371.0 1172.0ZM398.7 1173.7L394.9 1175.9L394.3 1173.6ZM421.2 1178.9L416.9 1179.3L417.3 1177.0ZM443.1 1180.5L438.8 1180.3L439.5 1178.1ZM465.4 1180.6L461.0 1180.4L461.8 1178.1ZM487.7 1180.6L483.3 1180.4L484.1 1178.2ZM509.8 1180.7L505.5 1180.4L506.3 1178.2ZM531.8 1180.6L527.4 1180.3L528.2 1178.1ZM553.3 1180.4L549.0 1180.0L549.8 1177.8ZM575.2 1180.3L571.0 1179.9L571.8 1177.8ZM597.7 1180.4L593.4 1180.0L594.2 1177.8ZM621.0 1180.8L616.6 1180.4L617.5 1178.2ZM644.6 1181.4L640.3 1181.0L641.1 1178.8ZM667.6 1181.7L663.2 1181.3L664.1 1179.1ZM690.0 1181.8L685.7 1181.4L686.6 1179.2ZM77.0 1195.7L75.3 1198.3L74.2 1197.0ZM99.4 1195.7L97.6 1198.3L96.5 1197.0ZM121.7 1195.7L119.9 1198.3L118.9 1197.0ZM233.9 1199.5L230.8 1199.1L231.5 1197.5ZM256.3 1199.4L253.2 1199.1L253.8 1197.5ZM279.1 1199.5L276.0 1199.2L276.6 1197.7ZM302.8 1198.7L299.7 1199.2L299.9 1197.5ZM326.3 1195.8L323.7 1197.6L323.2 1196.0ZM349.5 1195.4L346.9 1197.3L346.3 1195.7ZM372.8 1196.3L369.7 1197.9L369.3 1196.1ZM395.6 1200.1L391.9 1200.3L392.4 1198.3ZM417.8 1202.0L414.0 1201.4L414.8 1199.5ZM440.3 1202.2L436.4 1201.5L437.3 1199.6ZM462.4 1202.2L458.6 1201.5L459.5 1199.6ZM484.2 1202.0L480.6 1201.3L481.5 1199.5ZM505.8 1201.7L502.5 1201.0L503.4 1199.4ZM527.3 1201.3L524.3 1200.7L525.0 1199.2ZM548.9 1201.0L545.9 1200.3L546.6 1198.8ZM571.0 1200.9L568.0 1200.2L568.7 1198.7ZM593.6 1201.0L590.5 1200.4L591.3 1198.9ZM616.7 1201.5L613.7 1200.8L614.5 1199.3ZM640.3 1202.3L636.8 1201.5L637.7 1199.7ZM664.0 1203.1L659.8 1202.1L660.9 1200.1ZM686.9 1203.5L682.7 1202.5L683.8 1200.4ZM77.0 1217.0L75.3 1219.6L74.2 1218.3ZM99.4 1217.0L97.6 1219.6L96.5 1218.3ZM233.7 1221.1L230.7 1220.4L231.6 1218.9ZM256.1 1221.1L253.1 1220.4L253.9 1218.9ZM278.4 1221.1L275.4 1220.4L276.2 1218.9ZM300.7 1221.1L297.7 1220.4L298.6 1218.9ZM323.6 1221.5L320.6 1220.7L321.4 1219.2ZM346.5 1221.8L343.5 1221.0L344.3 1219.5ZM369.4 1222.1L366.4 1221.3L367.2 1219.9ZM392.3 1222.4L389.3 1221.7L390.1 1220.2ZM415.2 1222.7L412.1 1222.0L413.0 1220.5ZM437.8 1222.9L434.8 1222.1L435.6 1220.7ZM459.8 1222.7L456.8 1222.0L457.7 1220.5ZM481.4 1222.3L478.4 1221.5L479.2 1220.1ZM502.7 1221.7L499.7 1220.9L500.5 1219.5ZM524.1 1221.1L521.1 1220.4L521.9 1218.9ZM546.4 1221.1L543.4 1220.4L544.3 1218.9ZM568.8 1221.1L565.8 1220.4L566.6 1218.9ZM591.1 1221.1L588.1 1220.4L588.9 1218.9ZM613.6 1221.2L610.6 1220.5L611.4 1219.0ZM637.4 1222.1L634.4 1221.3L635.2 1219.9ZM661.2 1222.9L658.2 1222.2L659.1 1220.7ZM684.5 1223.5L681.2 1222.7L682.1 1221.0ZM256.1 1242.4L253.1 1241.7L253.9 1240.2ZM278.4 1242.4L275.4 1241.7L276.2 1240.2ZM300.7 1242.4L297.7 1241.7L298.6 1240.2ZM323.1 1242.4L320.1 1241.7L320.9 1240.2ZM345.4 1242.4L342.4 1241.7L343.2 1240.2ZM367.8 1242.5L364.7 1241.7L365.6 1240.2ZM390.6 1242.7L387.6 1242.0L388.4 1240.5ZM413.4 1243.0L410.4 1242.3L411.2 1240.8ZM435.9 1243.1L432.9 1242.4L433.8 1240.9ZM457.9 1242.9L454.9 1242.2L455.8 1240.7ZM479.6 1242.6L476.6 1241.8L477.4 1240.3ZM501.8 1242.4L498.7 1241.7L499.6 1240.2ZM524.1 1242.4L521.1 1241.7L521.9 1240.2ZM546.4 1242.4L543.4 1241.7L544.3 1240.2ZM568.8 1242.4L565.8 1241.7L566.6 1240.2ZM591.1 1242.4L588.1 1241.7L588.9 1240.2ZM613.4 1242.4L610.4 1241.7L611.3 1240.2ZM635.8 1242.4L632.8 1241.7L633.6 1240.2ZM658.7 1242.8L655.7 1242.0L656.5 1240.6ZM682.1 1243.4L679.0 1242.6L679.9 1241.2ZM300.7 1263.7L297.7 1263.0L298.6 1261.5ZM323.1 1263.7L320.1 1263.0L320.9 1261.5ZM345.4 1263.7L342.4 1263.0L343.2 1261.5ZM367.7 1263.7L364.7 1263.0L365.6 1261.5ZM390.1 1263.7L387.1 1263.0L387.9 1261.5ZM412.4 1263.7L409.4 1263.0L410.2 1261.5ZM434.8 1263.7L431.7 1263.0L432.6 1261.5ZM457.1 1263.7L454.1 1263.0L454.9 1261.5ZM479.4 1263.7L476.4 1263.0L477.3 1261.5ZM501.8 1263.7L498.7 1263.0L499.6 1261.5ZM524.1 1263.7L521.1 1263.0L521.9 1261.5ZM635.8 1263.7L632.8 1263.0L633.6 1261.5ZM658.1 1263.7L655.1 1263.0L655.9 1261.5ZM680.4 1263.7L677.4 1263.0L678.3 1261.5Z" fill="#000"/></g>
<rect x="63.1" y="1102.2" width="625.4" height="170.4" fill="none" stroke="#111" stroke-width="1"/>
<g clip-path="url(#cS5)"><g filter="url(#jet)"><rect x="688" y="1093" width="225" height="193" fill="#000"/><g stroke-width="9" fill="none" shape-rendering="crispEdges"><path stroke="#1d1d1d" d="M896 1281h24M896 1289h24"/><path stroke="#1e1e1e" d="M896 1273h24"/><path stroke="#202020" d="M888 1273h8M888 1281h8M888 1289h8"/><path stroke="#222222" d="M880 1281h8M880 1289h8"/><path stroke="#232323" d="M688 1273h16M880 1273h8M688 1281h16M688 1289h16"/><path stroke="#252525" d="M872 1281h8M872 1289h8"/><path stroke="#262626" d="M904 1265h16M872 1273h8"/><path stroke="#272727" d="M896 1265h8M704 1273h8M704 1281h8M704 1289h8"/><path stroke="#292929" d="M888 1265h8M864 1273h8M864 1281h8M864 1289h8"/><path stroke="#2c2c2c" d="M880 1265h8M712 1281h8M712 1289h8"/><path stroke="#2d2d2d" d="M712 1273h8M856 1281h8M856 1289h8"/><path stroke="#2e2e2e" d="M856 1273h8"/><path stroke="#2f2f2f" d="M872 1265h8"/><path stroke="#313131" d="M688 1265h16"/><path stroke="#323232" d="M896 1257h24M848 1281h8M848 1289h8"/><path stroke="#333333" d="M864 1265h8M720 1273h8M848 1273h8M720 1281h8M720 1289h8"/><path stroke="#343434" d="M888 1257h8"/><path stroke="#353535" d="M704 1265h8"/><path stroke="#373737" d="M880 1257h8M840 1281h8M840 1289h8"/><path stroke="#383838" d="M856 1265h8M840 1273h8M728 1281h8M728 1289h8"/><path stroke="#393939" d="M728 1273h8"/><path stroke="#3b3b3b" d="M872 1257h8"/><path stroke="#3c3c3c" d="M824 1097h8M824 1105h8M904 1249h16M712 1265h8M832 1273h8M832 1281h8M832 1289h8"/><path stroke="#3d3d3d" d="M896 1249h8M736 1281h8M736 1289h8"/><path stroke="#3e3e3e" d="M848 1265h8M736 1273h8"/><path stroke="#3f3f3f" d="M816 1097h8M816 1105h8M824 1113h8M888 1249h8M824 1281h8M824 1289h8"/><path stroke="#404040" d="M832 1097h8M832 1105h8M864 1257h8M824 1273h8"/><path stroke="#424242" d="M816 1113h8M880 1249h8M744 1281h8M744 1289h8"/><path stroke="#434343" d="M832 1113h8M688 1257h16M720 1265h8M840 1265h8M744 1273h8M816 1281h8M816 1289h8"/><path stroke="#444444" d="M816 1273h8"/><path stroke="#454545" d="M808 1097h8M808 1105h8M824 1121h8M904 1241h16"/><path stroke="#464646" d="M896 1241h8M872 1249h8M856 1257h8M752 1281h8M808 1281h8M752 1289h8M808 1289h8"/><path stroke="#474747" d="M816 1121h8M888 1241h8M704 1257h8M752 1273h8M808 1273h8"/><path stroke="#484848" d="M840 1097h8M840 1105h8M808 1113h8M832 1121h8M800 1281h8M800 1289h8"/><path stroke="#494949" d="M832 1265h8M760 1273h8M800 1273h8M760 1281h8M760 1289h8"/><path stroke="#4a4a4a" d="M880 1241h8M728 1265h8M768 1281h8M792 1281h8M768 1289h8M792 1289h8"/><path stroke="#4b4b4b" d="M840 1113h8M824 1129h8M864 1249h8M768 1273h8M792 1273h8M784 1281h8M784 1289h8"/><path stroke="#4c4c4c" d="M800 1097h8M800 1105h8M808 1121h8M816 1129h8M848 1257h8M776 1273h16M776 1281h8M776 1289h8"/><path stroke="#4d4d4d" d="M832 1129h8M896 1233h24"/><path stroke="#4e4e4e" d="M800 1113h8M888 1233h8M872 1241h8M712 1257h8M824 1265h8"/><path stroke="#4f4f4f" d="M840 1121h8M880 1233h8M736 1265h8"/><path stroke="#505050" d="M808 1129h8"/><path stroke="#515151" d="M848 1097h8M848 1105h8M800 1121h8M824 1137h8"/><path stroke="#525252" d="M816 1137h8M872 1233h8M856 1249h8M840 1257h8M816 1265h8"/><path stroke="#535353" d="M792 1097h8M792 1105h8M848 1113h8M840 1129h8M832 1137h8M864 1241h8"/><path stroke="#545454" d="M792 1113h8M800 1129h8M880 1225h40M688 1249h16"/><path stroke="#555555" d="M808 1137h8M744 1265h8"/><path stroke="#565656" d="M792 1121h8M848 1121h8M840 1137h8M872 1225h8M864 1233h8M808 1265h8"/><path stroke="#575757" d="M824 1145h16M720 1257h8"/><path stroke="#585858" d="M792 1129h8M800 1137h8M880 1217h8M752 1265h8"/><path stroke="#595959" d="M848 1129h8M816 1145h8M840 1145h8M872 1217h8M888 1217h8M864 1225h8M704 1249h8M848 1249h8M832 1257h8M800 1265h8"/><path stroke="#5a5a5a" d="M784 1097h8M784 1105h8M784 1113h8M896 1217h24M856 1241h8M760 1265h8"/><path stroke="#5b5b5b" d="M784 1121h8M792 1137h8M848 1137h8M808 1145h8M872 1209h16M864 1217h8M792 1265h8"/><path stroke="#5c5c5c" d="M784 1129h8M848 1145h8M832 1153h24M864 1201h16M864 1209h8M768 1265h8M784 1265h8"/><path stroke="#5d5d5d" d="M856 1097h8M856 1105h8M824 1153h8M848 1161h8M864 1193h8M880 1201h8M888 1209h8M856 1233h8M776 1265h8"/><path stroke="#5e5e5e" d="M856 1113h8M784 1137h8M800 1145h8M856 1161h8M856 1169h8M856 1177h8M864 1185h8M872 1193h8M896 1209h24"/><path stroke="#5f5f5f" d="M776 1121h8M816 1153h8M856 1153h8M840 1161h8M848 1169h8M864 1177h8M856 1185h8M856 1193h8M856 1225h8M728 1257h8M824 1257h8"/><path stroke="#606060" d="M776 1097h8M776 1105h8M776 1113h8M856 1121h8M776 1129h8M792 1145h8M872 1185h8M880 1193h8M856 1201h8M888 1201h8M856 1209h8M856 1217h8M712 1249h8M840 1249h8"/><path stroke="#616161" d="M856 1145h8M832 1161h8M864 1169h8M848 1177h8M848 1241h8"/><path stroke="#626262" d="M856 1129h8M776 1137h8M856 1137h8M808 1153h8M840 1169h8M896 1201h24"/><path stroke="#636363" d="M768 1121h8M768 1129h8M784 1145h8M824 1161h8M864 1161h8M848 1185h8M688 1241h16"/><path stroke="#646464" d="M768 1113h8M800 1153h8M872 1177h8M880 1185h8M848 1193h8M888 1193h8M848 1233h8"/><path stroke="#656565" d="M768 1097h8M768 1105h8M768 1137h8M840 1177h8M816 1257h8"/><path stroke="#666666" d="M776 1145h8M792 1153h8M816 1161h8M832 1169h8M848 1201h8M848 1209h8M848 1225h8M736 1257h8"/><path stroke="#676767" d="M760 1129h8M864 1153h8M896 1193h24M848 1217h8"/><path stroke="#686868" d="M760 1121h8M760 1137h8M768 1145h8M784 1153h8M872 1169h8M704 1241h8M840 1241h8M832 1249h8"/><path stroke="#696969" d="M760 1097h8M760 1105h8M760 1113h8M808 1161h8M840 1185h8M888 1185h8"/><path stroke="#6a6a6a" d="M864 1145h8M776 1153h8M824 1169h8M880 1177h8M720 1249h8M808 1257h8"/><path stroke="#6b6b6b" d="M752 1129h8M760 1145h8M800 1161h8M832 1177h8M840 1193h8M744 1257h8"/><path stroke="#6c6c6c" d="M752 1121h8M752 1137h8M768 1153h8M792 1161h8M840 1233h8"/><path stroke="#6d6d6d" d="M864 1097h8M864 1105h8M752 1113h8M864 1113h8M864 1137h8M872 1161h8M896 1185h24M840 1201h8M800 1257h8"/><path stroke="#6e6e6e" d="M752 1097h8M752 1105h8M864 1121h8M752 1145h8M784 1161h8M816 1169h8M840 1209h8M840 1225h8"/><path stroke="#6f6f6f" d="M864 1129h8M760 1153h8M840 1217h8M752 1257h8M792 1257h8"/><path stroke="#707070" d="M744 1129h8M776 1161h8M880 1169h8M888 1177h8M832 1185h8M712 1241h8M824 1249h8M760 1257h8"/><path stroke="#717171" d="M744 1121h8M744 1137h8M808 1169h8M824 1177h8M688 1233h16M832 1241h8M768 1257h24"/><path stroke="#727272" d="M744 1113h8M752 1153h8M872 1153h8M768 1161h8"/><path stroke="#737373" d="M744 1097h8M744 1105h8M800 1169h8"/><path stroke="#747474" d="M744 1145h8M760 1161h8M832 1193h8M728 1249h8"/><path stroke="#757575" d="M792 1169h8M896 1177h24M704 1233h8M832 1233h8"/><path stroke="#767676" d="M736 1129h8M816 1177h8M832 1201h8"/><path stroke="#777777" d="M736 1121h8M744 1153h8M752 1161h8M880 1161h8M784 1169h8M824 1185h8M816 1249h8"/><path stroke="#787878" d="M736 1097h8M736 1105h8M736 1113h8M736 1137h8M872 1145h8M776 1169h8M888 1169h8M832 1209h8M832 1225h8"/><path stroke="#797979" d="M808 1177h8M832 1217h8"/><path stroke="#7a7a7a" d="M768 1169h8M720 1241h8M824 1241h8"/><path stroke="#7b7b7b" d="M736 1145h8M736 1249h8"/><path stroke="#7c7c7c" d="M744 1161h8M760 1169h8M800 1177h8M808 1249h8"/><path stroke="#7d7d7d" d="M872 1137h8M816 1185h8M824 1193h8M712 1233h8"/><path stroke="#7e7e7e" d="M728 1097h8M728 1105h8M728 1113h8M728 1121h8M728 1129h8M736 1153h8M880 1153h8M752 1169h8M896 1169h24M792 1177h8M688 1225h16"/><path stroke="#7f7f7f" d="M728 1137h8M824 1233h8M800 1249h8"/><path stroke="#808080" d="M872 1129h8M888 1161h8M784 1177h8M824 1201h8M744 1249h8"/><path stroke="#818181" d="M872 1113h8M872 1121h8"/><path stroke="#828282" d="M872 1097h8M872 1105h8M728 1145h8M776 1177h8M808 1185h8M704 1225h8M816 1241h8M792 1249h8"/><path stroke="#838383" d="M736 1161h8M744 1169h8M816 1193h8M824 1209h8M824 1225h8"/><path stroke="#848484" d="M768 1177h8M728 1241h8M752 1249h8M784 1249h8"/><path stroke="#858585" d="M720 1097h8M720 1105h8M760 1177h8M800 1185h8M824 1217h8M760 1249h24"/><path stroke="#868686" d="M720 1113h8M728 1153h8M720 1233h8"/><path stroke="#878787" d="M720 1121h8M720 1129h8M880 1145h8M896 1161h8M752 1177h8M792 1185h8M816 1201h8M816 1233h8"/><path stroke="#888888" d="M904 1161h16M808 1193h8M688 1217h16M808 1241h8"/><path stroke="#898989" d="M720 1137h8M736 1169h8M784 1185h8M712 1225h8"/><path stroke="#8a8a8a" d="M888 1153h8M728 1161h8M736 1241h8"/><path stroke="#8b8b8b" d="M744 1177h8M776 1185h8M816 1209h8M816 1225h8M800 1241h8"/><path stroke="#8c8c8c" d="M720 1145h8M800 1193h8"/><path stroke="#8d8d8d" d="M712 1097h8M712 1105h8M768 1185h8M808 1201h8M704 1217h8M816 1217h8M808 1233h8"/><path stroke="#8e8e8e" d="M712 1113h8M880 1137h8M792 1193h8M792 1241h8"/><path stroke="#8f8f8f" d="M720 1153h8M728 1169h8M760 1185h8M688 1209h16M728 1233h8M744 1241h8"/><path stroke="#909090" d="M712 1121h8M736 1177h8"/><path stroke="#919191" d="M712 1129h8M752 1185h8M784 1193h8M800 1201h8M808 1209h8M808 1225h8M800 1233h8M784 1241h8"/><path stroke="#929292" d="M720 1161h8M720 1225h8M752 1241h8M776 1241h8"/><path stroke="#939393" d="M704 1097h8M704 1105h8M880 1129h8M712 1137h8M896 1153h24M744 1185h8M776 1193h8M704 1209h8M712 1217h8M808 1217h8M760 1241h16"/><path stroke="#949494" d="M704 1113h8M728 1177h8M792 1201h8"/><path stroke="#959595" d="M880 1121h8M712 1145h8M888 1145h8M720 1169h8M768 1193h8M688 1201h16M800 1209h8M736 1233h8M792 1233h8"/><path stroke="#969696" d="M688 1097h16M688 1105h16M704 1121h8M760 1193h8M800 1225h8"/><path stroke="#979797" d="M688 1113h16M880 1113h8M712 1153h8M736 1185h8M704 1201h8M784 1201h8M784 1233h8"/><path stroke="#989898" d="M880 1097h8M880 1105h8M704 1129h8M752 1193h8M712 1209h8M800 1217h8"/><path stroke="#999999" d="M688 1121h16M712 1161h8M720 1177h8M688 1193h16M776 1201h8M792 1209h8M728 1225h8M792 1225h8M744 1233h8M776 1233h8"/><path stroke="#9a9a9a" d="M704 1137h8M712 1169h8M728 1185h8M704 1193h8M744 1193h8M712 1201h8M768 1201h8M720 1217h8M752 1233h24"/><path stroke="#9b9b9b" d="M704 1145h8M712 1177h8M792 1217h8"/><path stroke="#9c9c9c" d="M688 1129h16M704 1153h8M688 1185h40M712 1193h8M736 1193h8M760 1201h8M784 1209h8"/><path stroke="#9d9d9d" d="M688 1137h16M704 1161h8M704 1169h8M704 1177h8M720 1193h16M720 1201h8M752 1201h8M720 1209h8M784 1225h8"/><path stroke="#9e9e9e" d="M888 1137h8M688 1145h16M688 1177h16M776 1209h8M736 1225h8"/><path stroke="#9f9f9f" d="M896 1145h8M688 1153h16M688 1169h16M728 1201h8M744 1201h8M784 1217h8M776 1225h8"/><path stroke="#a0a0a0" d="M904 1145h16M688 1161h16M736 1201h8M768 1209h8M728 1217h8M744 1225h8M760 1225h16"/><path stroke="#a1a1a1" d="M728 1209h8M760 1209h8M776 1217h8M752 1225h8"/><path stroke="#a2a2a2" d="M752 1209h8M768 1217h8"/><path stroke="#a3a3a3" d="M736 1209h16M760 1217h8"/><path stroke="#a4a4a4" d="M736 1217h8M752 1217h8"/><path stroke="#a5a5a5" d="M888 1129h8M744 1217h8"/><path stroke="#a8a8a8" d="M888 1121h8"/><path stroke="#aaaaaa" d="M896 1137h8"/><path stroke="#ababab" d="M904 1137h16"/><path stroke="#acacac" d="M888 1113h8"/><path stroke="#aeaeae" d="M888 1097h8M888 1105h8"/><path stroke="#b2b2b2" d="M896 1129h8"/><path stroke="#b3b3b3" d="M904 1129h16"/><path stroke="#b6b6b6" d="M896 1121h8"/><path stroke="#b7b7b7" d="M904 1121h16"/><path stroke="#bababa" d="M896 1113h8"/><path stroke="#bbbbbb" d="M904 1113h16"/><path stroke="#bdbdbd" d="M896 1097h24M896 1105h24"/></g></g></g>
<g clip-path="url(#cS5)"><path d="M711.7 1116.4L722.5 1115.8M733.9 1116.4L742.1 1118.6M756.2 1116.4L761.8 1120.3M778.4 1116.4L783.5 1119.3M800.6 1116.4L805.4 1115.1M822.8 1116.4L826.3 1114.8M845.0 1116.4L849.3 1118.4M867.3 1116.4L873.2 1119.8M889.5 1116.4L900.4 1122.7M711.7 1137.3L721.5 1131.7M733.9 1137.3L742.0 1134.4M756.2 1137.3L762.9 1138.3M778.4 1137.3L784.4 1138.1M800.6 1137.3L805.9 1135.9M822.8 1137.3L827.6 1135.8M845.0 1137.3L849.9 1139.6M867.3 1137.3L873.2 1140.7M889.5 1137.3L899.4 1143.0M711.7 1158.2L721.3 1151.6M733.9 1158.2L741.8 1152.7M756.2 1158.2L763.2 1155.0M778.4 1158.2L785.2 1156.4M800.6 1158.2L807.0 1156.9M822.8 1158.2L828.9 1158.8M845.0 1158.2L850.2 1160.7M867.3 1158.2L872.6 1161.3M889.5 1158.2L897.3 1162.7M711.7 1179.2L721.4 1172.4M733.9 1179.2L743.0 1172.8M756.2 1179.2L764.7 1174.2M778.4 1179.2L786.9 1175.2M800.6 1179.2L809.3 1178.0M822.8 1179.2L830.6 1180.3M845.0 1179.2L850.7 1181.8M867.3 1179.2L872.3 1182.1M889.5 1179.2L895.5 1182.6M711.7 1200.1L721.1 1193.6M733.9 1200.1L743.9 1193.2M756.2 1200.1L766.4 1194.2M778.4 1200.1L788.7 1195.3M800.6 1200.1L811.3 1199.2M822.8 1200.1L832.0 1202.1M845.0 1200.1L851.2 1203.0M867.3 1200.1L872.2 1203.0M889.5 1200.1L894.6 1203.0M711.7 1221.1L719.9 1215.3M733.9 1221.1L744.0 1214.5M756.2 1221.1L767.2 1215.2M778.4 1221.1L789.9 1216.9M800.6 1221.1L812.0 1220.5M822.8 1221.1L832.4 1223.6M845.0 1221.1L851.4 1224.0M867.3 1221.1L872.1 1223.8M889.5 1221.1L894.1 1223.7M711.7 1242.0L717.4 1238.7M733.9 1242.0L742.2 1237.6M756.2 1242.0L766.1 1238.4M778.4 1242.0L788.8 1239.8M800.6 1242.0L810.7 1242.0M822.8 1242.0L831.3 1244.3M845.0 1242.0L850.8 1244.7M867.3 1242.0L871.9 1244.1M889.5 1242.0L893.3 1243.8M711.7 1262.9L714.6 1261.6M733.9 1262.9L738.6 1261.2M756.2 1262.9L761.7 1261.4M778.4 1262.9L784.3 1261.9M800.6 1262.9L806.4 1262.9M822.8 1262.9L827.9 1264.3M845.0 1262.9L848.8 1264.7M867.3 1262.9L869.6 1264.0M889.5 1262.9L890.9 1263.6" stroke="#111" stroke-width="0.6" fill="none"/><path d="M726.7 1115.6L722.6 1117.0L722.4 1114.6ZM746.2 1119.7L741.8 1119.7L742.4 1117.4ZM765.3 1122.7L761.2 1121.3L762.5 1119.4ZM786.9 1121.3L783.0 1120.3L784.1 1118.4ZM808.6 1114.2L805.7 1116.0L805.2 1114.2ZM829.0 1113.5L826.6 1115.5L825.9 1114.0ZM852.2 1119.7L849.0 1119.2L849.7 1117.6ZM876.9 1121.9L872.6 1120.8L873.8 1118.8ZM904.1 1124.8L899.8 1123.7L901.0 1121.7ZM725.1 1129.6L722.1 1132.7L720.9 1130.7ZM746.0 1132.9L742.4 1135.5L741.6 1133.3ZM767.1 1138.8L762.7 1139.4L763.1 1137.1ZM788.3 1138.7L784.2 1139.3L784.5 1137.0ZM809.5 1134.9L806.2 1136.9L805.7 1134.9ZM830.8 1134.7L827.9 1136.6L827.3 1134.9ZM853.1 1141.1L849.5 1140.5L850.3 1138.7ZM876.8 1142.8L872.6 1141.7L873.8 1139.7ZM903.1 1145.1L898.8 1144.1L900.0 1142.0ZM724.7 1149.2L721.9 1152.5L720.6 1150.6ZM745.2 1150.3L742.5 1153.7L741.1 1151.8ZM767.0 1153.2L763.7 1156.0L762.7 1153.9ZM789.3 1155.3L785.5 1157.5L784.9 1155.3ZM811.1 1156.0L807.2 1158.0L806.8 1155.7ZM832.9 1159.1L828.8 1159.9L829.0 1157.6ZM853.7 1162.3L849.8 1161.6L850.7 1159.7ZM876.1 1163.3L872.0 1162.3L873.1 1160.3ZM900.9 1164.8L896.7 1163.7L897.8 1161.7ZM724.8 1170.0L722.1 1173.4L720.7 1171.4ZM746.4 1170.4L743.7 1173.8L742.3 1171.9ZM768.4 1172.1L765.3 1175.2L764.2 1173.2ZM790.7 1173.4L787.4 1176.3L786.4 1174.1ZM813.5 1177.4L809.5 1179.1L809.2 1176.8ZM834.8 1180.9L830.5 1181.4L830.8 1179.1ZM854.5 1183.6L850.2 1182.9L851.2 1180.8ZM875.7 1184.0L871.8 1183.0L872.8 1181.1ZM899.1 1184.7L894.9 1183.7L896.1 1181.6ZM724.5 1191.2L721.7 1194.5L720.4 1192.6ZM747.3 1190.8L744.5 1194.1L743.2 1192.2ZM770.1 1192.1L767.0 1195.2L765.8 1193.2ZM792.5 1193.5L789.2 1196.4L788.2 1194.2ZM815.4 1198.8L811.4 1200.4L811.1 1198.0ZM836.1 1202.9L831.8 1203.2L832.2 1200.9ZM855.0 1204.8L850.7 1204.1L851.7 1201.9ZM875.5 1204.8L871.6 1203.9L872.7 1202.0ZM897.9 1205.0L894.0 1204.0L895.1 1202.1ZM723.4 1212.9L720.6 1216.3L719.2 1214.4ZM747.5 1212.2L744.6 1215.5L743.4 1213.5ZM770.9 1213.2L767.7 1216.2L766.6 1214.2ZM793.9 1215.4L790.3 1218.0L789.5 1215.8ZM816.2 1220.2L812.1 1221.6L812.0 1219.3ZM836.4 1224.7L832.1 1224.8L832.7 1222.5ZM855.2 1225.8L850.9 1225.1L851.9 1223.0ZM875.3 1225.7L871.6 1224.7L872.6 1222.9ZM897.1 1225.5L893.6 1224.6L894.6 1222.8ZM721.1 1236.6L718.0 1239.7L716.8 1237.7ZM745.9 1235.7L742.7 1238.7L741.6 1236.6ZM770.1 1236.9L766.5 1239.5L765.7 1237.3ZM792.9 1238.9L789.0 1240.9L788.6 1238.6ZM814.9 1242.0L810.7 1243.2L810.7 1240.8ZM835.3 1245.3L831.0 1245.4L831.6 1243.1ZM854.6 1246.4L850.3 1245.7L851.3 1243.6ZM875.0 1245.6L871.5 1245.0L872.3 1243.3ZM896.1 1245.1L893.0 1244.6L893.7 1243.0ZM717.3 1260.3L715.0 1262.3L714.3 1260.8ZM741.7 1260.1L738.9 1262.1L738.3 1260.4ZM765.5 1260.4L762.0 1262.5L761.5 1260.4ZM788.2 1261.2L784.5 1263.0L784.1 1260.8ZM810.3 1262.9L806.4 1264.0L806.4 1261.8ZM831.3 1265.2L827.6 1265.2L828.1 1263.3ZM851.6 1266.0L848.5 1265.5L849.2 1263.9ZM872.3 1265.3L869.3 1264.8L870.0 1263.3ZM893.6 1264.8L890.5 1264.3L891.2 1262.8Z" fill="#000"/></g>
<rect x="700.6" y="1105.9" width="200.0" height="167.5" fill="none" stroke="#111" stroke-width="1"/>
<rect x="908.4" y="1102.6" width="118" height="169.5" fill="#00008f" stroke="#111" stroke-width="1"/>
<path d="M1015.5 1112.5l-2.8 -2.2l1.2 -0.9z" fill="#000"/>
<g font-family="Liberation Sans, sans-serif" font-size="20" fill="#231815" text-anchor="middle">
<text x="69.0" y="657.3">0</text>
<text x="279.1" y="657.3">40</text>
<text x="490.7" y="657.3">80</text>
<text x="702.3" y="657.3">120</text>
<text x="913.9" y="657.3">160</text>
<text x="941.5" y="657.3">0</text>
<text x="1064.7" y="657.3">20</text>
<text x="69.8" y="880.2">0</text>
<text x="310.1" y="880.2">40</text>
<text x="551.9" y="880.2">80</text>
<text x="638.2" y="879.8">0</text>
<text x="749.8" y="879.8">20</text>
<text x="861.4" y="879.8">40</text>
<text x="973.0" y="879.8">60</text>
<text x="64.6" y="1098.7">0</text>
<text x="347.1" y="1098.7">50</text>
<text x="631.1" y="1098.7">100</text>
<text x="700.6" y="1101.6">0</text>
<text x="867.1" y="1101.6">30</text>
<text x="908.7" y="1098.8">0</text>
<text x="1025.8" y="1098.8">20</text>
</g>
<g stroke="#111" stroke-width="0.8">
<path d="M67.5 661.0v-2.5"/>
<path d="M279.1 661.0v-2.5"/>
<path d="M490.7 661.0v-2.5"/>
<path d="M702.3 661.0v-2.5"/>
<path d="M913.9 661.0v-2.5"/>
<path d="M67.5 661.0h-2.5"/>
<path d="M67.5 717.7h-2.5"/>
<path d="M67.5 774.3h-2.5"/>
<path d="M67.5 831.0h-2.5"/>
<path d="M941.5 660.5v-2.5"/>
<path d="M1064.7 660.5v-2.5"/>
<path d="M68.3 883.6v-2.5"/>
<path d="M310.1 883.6v-2.5"/>
<path d="M551.9 883.6v-2.5"/>
<path d="M68.3 883.6h-2.5"/>
<path d="M68.3 940.9h-2.5"/>
<path d="M68.3 998.3h-2.5"/>
<path d="M68.3 1055.6h-2.5"/>
<path d="M638.2 883.0v-2.5"/>
<path d="M749.8 883.0v-2.5"/>
<path d="M861.4 883.0v-2.5"/>
<path d="M973.0 883.0v-2.5"/>
<path d="M63.1 1102.2v-2.5"/>
<path d="M347.1 1102.2v-2.5"/>
<path d="M631.1 1102.2v-2.5"/>
<path d="M63.1 1102.2h-2.5"/>
<path d="M63.1 1159.0h-2.5"/>
<path d="M63.1 1215.8h-2.5"/>
<path d="M63.1 1272.6h-2.5"/>
<path d="M700.6 1105.9v-2.5"/>
<path d="M867.1 1105.9v-2.5"/>
</g>
<g font-family="Liberation Sans, sans-serif" font-size="21" fill="#231815" text-anchor="end">
<text x="62.5" y="669.6">0</text>
<text x="65.0" y="725.5">−10</text>
<text x="65.0" y="782.1">−20</text>
<text x="65.0" y="838.8">−30</text>
<text x="63.3" y="892.2">0</text>
<text x="65.8" y="948.7">−10</text>
<text x="65.8" y="1006.1">−20</text>
<text x="65.8" y="1063.4">−30</text>
<text x="58.1" y="1110.8">0</text>
<text x="60.6" y="1166.8">−10</text>
<text x="60.6" y="1223.6">−20</text>
<text x="60.6" y="1280.4">−30</text>
</g>
<g stroke="#777" stroke-width="0.9">
<path d="M68.5 849.5H436.5"/>
<path d="M484.0 849.5H887.0"/>
<path d="M63.0 1072.6H284.3"/>
<path d="M330.2 1075.3H555.7"/>
<path d="M644.5 1071.2H829.2"/>
<path d="M897.2 1070.7H1071.1"/>
<path d="M72.3 1288.9H357.5"/>
<path d="M442.8 1288.9H674.2"/>
<path d="M700.6 1289.2H771.6"/>
<path d="M812.6 1289.2H887.9"/>
</g>
<g font-family="Liberation Sans, sans-serif" fill="#231815">
<text x="446" y="860" font-size="21.5" textLength="27" lengthAdjust="spacingAndGlyphs">S1</text>
<text x="999.5" y="859.3" font-size="22.3" textLength="30.5" lengthAdjust="spacingAndGlyphs">NF</text>
<text x="298.5" y="1082" font-size="21.5" textLength="27.5" lengthAdjust="spacingAndGlyphs">S2</text>
<text x="853.5" y="1080" font-size="21.5" textLength="29" lengthAdjust="spacingAndGlyphs">S3</text>
<text x="388.5" y="1294.2" font-size="14" textLength="27.5" lengthAdjust="spacingAndGlyphs">S4</text>
<text x="778.2" y="1294.5" font-size="14" textLength="28" lengthAdjust="spacingAndGlyphs">S5</text>
<text x="949.9" y="1294.3" font-size="11.5" textLength="34.5" lengthAdjust="spacingAndGlyphs">Cf1</text>
<text x="1039.5" y="1111" font-size="19.3" textLength="66.5" lengthAdjust="spacingAndGlyphs">slip(m)</text>
<text x="1071.8" y="1133.4" font-size="17" textLength="8.8" lengthAdjust="spacingAndGlyphs">9</text>
<text x="1071.5" y="1266.2" font-size="17.5" textLength="8.6" lengthAdjust="spacingAndGlyphs">0</text>
</g>
<rect x="1045.9" y="1118.3" width="22.5" height="144" fill="url(#cb)" stroke="#b9b4c8" stroke-width="1.2"/></svg></body></html>
